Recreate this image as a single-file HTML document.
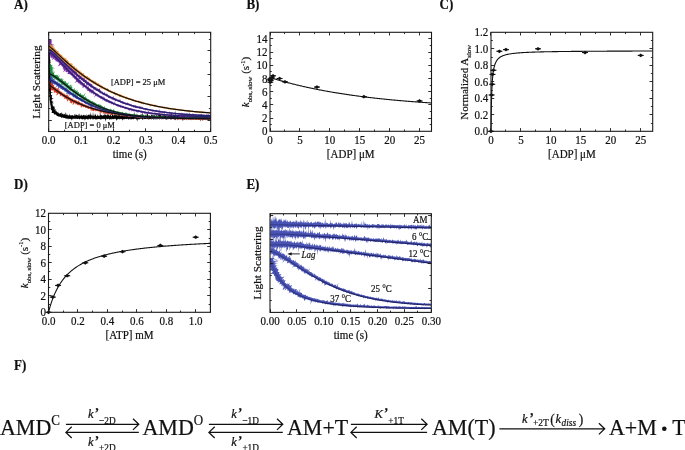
<!DOCTYPE html>
<html><head><meta charset="utf-8"><style>
html,body{margin:0;padding:0;background:#fff;width:685px;height:450px;overflow:hidden}
svg{display:block;will-change:transform}
text{font-family:"Liberation Serif", serif;fill:#111;stroke:#111;stroke-width:0.2px}
</style></head><body>
<svg width="685" height="450" viewBox="0 0 685 450">
<rect width="685" height="450" fill="#fff"/>
<text transform="translate(14 8.8) scale(1 1.08)" font-size="13" text-anchor="start" font-weight="bold">A)</text>
<text transform="translate(246.4 8.8) scale(1 1.08)" font-size="13" text-anchor="start" font-weight="bold">B)</text>
<text transform="translate(439.5 9) scale(1 1.08)" font-size="13" text-anchor="start" font-weight="bold">C)</text>
<text transform="translate(14 189.3) scale(1 1.08)" font-size="13" text-anchor="start" font-weight="bold">D)</text>
<text transform="translate(246.4 189.3) scale(1 1.08)" font-size="13" text-anchor="start" font-weight="bold">E)</text>
<text transform="translate(14 370.4) scale(1 1.08)" font-size="13" text-anchor="start" font-weight="bold">F)</text>
<defs><clipPath id="cA"><rect x="48.7" y="32.3" width="162" height="99.2"/></clipPath><clipPath id="cE"><rect x="270" y="213.7" width="161.3" height="98.7"/></clipPath></defs>
<g clip-path="url(#cA)">
<path d="M49.36 52.37 49.74 55.3 49.76 58.08 50.49 60.7 50.06 63.2 50.7 65.55 50.83 67.79 51.19 69.9 50.3 71.68 50.45 71.94 50.36 73.85 50.26 75.66 51.64 77.33 50.99 78.98 50.05 80.55 53.57 81.89 51.6 83.35 52.78 84.27 52.26 84.64 51.64 85.91 52.3 87.07 50.58 88.27 51.77 89.28 50.73 90.35 50.65 91.32 50.73 92.23 53.32 92.61 51.17 93.08 50.68 93.94 50.81 94.72 52.41 95.36 51.31 96.15 51.91 96.78 51.78 97.43 52.12 98.02 51.87 98.32 53.91 98.44 52.05 99.16 51.78 99.72 51.33 100.27 51.39 100.75 53.56 100.96 52.73 101.49 51.54 102.05 53.8 101.9 53.21 102.24 52.52 102.71 51.77 103.18 52.4 103.43 53.94 103.52 52.66 104.04 53.19 104.25 52.04 104.75 52.59 104.7 52.22 104.99 52.82 105.15 52.21 105.53 52.92 105.63 53.81 105.67 53.05 106.06 53.38 106.2 55.37 105.91 52.59 106.61 53.77 106.5 54.45 106.5 55.73 106.32 53.64 107.08 54.71 107.37 54.73 108.34 54.62 109.21 54.88 109.78 56.45 109.26 55.48 110.65 55.52 111.28 56.72 110.65 56.63 111.4 56.73 111.98 57.11 112.19 57.39 112.53 58.46 111.54 58.2 112.78 58.5 113.09 58.88 113.22 59.14 113.62 59.54 113.69 60.27 112.9 60.63 112.99 60.88 113.42 61.34 113.21 62.15 111.74 61.72 114.63 62.28 114.04 62.78 113.58 63.11 113.81 63.24 115.01 63.87 113.86 64.27 113.77 64.46 114.86 65.07 113.46 65.67 112.01 65.61 115.08 66.08 114.48 66.36 115.33 67.03 112.93 67.22 114.69 67.58 114.96 67.93 115.45 68.35 115.17 68.71 115.55 69.11 115.55 69.65 113.44 69.91 115.26 70.34 114.72 70.67 115.79 71.06 115.86 71.52 114.76 71.87 115.65 72.29 115.01 72.69 114.9 73.05 115.77 73.45 115.9 73.86 115.36 74.24 115.89 74.7 113.84 75.06 114.8 75.44 115.66 75.88 113.73 76.25 115.14 76.66 114.16 77.04 115.26 77.44 115.17 77.83 115.25 78.22 115.97 78.64 114.43 79.06 113.19 79.43 114.54 79.81 116.06 80.22 115.58 80.61 115.97 81.03 114.26 81.42 114.94 81.81 115.55 82.21 116.1 82.61 115.29 83.01 115.47 83.42 114.76 83.82 114.78 84.21 116 84.61 115.11 85.01 114.82 85.41 115.41 85.81 115.82 86.21 113.77 86.6 116.17 87.01 115.77 87.4 115.85 87.81 114.67 88.21 115.3 88.61 114.37 89.01 115.09 89.41 114.27 89.8 115.82 90.21 114.64 90.61 111.79 91 115.96 91.4 115.5 91.8 114.25 92.2 115.38 92.6 116.17 93.01 111.44 93.4 115.37 93.8 115.69 94.2 115.6 94.6 116.04 95 112.95 95.4 114.86 95.8 114.73 96.2 115.64 96.6 115.88 97 116.16 97.4 114.11 97.8 115.64 98.2 115.5 98.6 115.87 99 116.03 99.4 116.17 99.8 114.9 100.2 115.45 100.6 112.28 101 115.58 101.4 114.68 101.8 115.15 102.2 115.14 102.6 116.04 103 115.6 103.4 115.34 103.8 115.28 104.2 112.16 104.6 115.7 105 114.53 105.4 114.83 105.8 114.57 106.2 115.66 106.6 115.24 107 114.13 107.4 114.57 107.8 114.94 108.2 114.34 108.6 115.3 109 115.08 109.4 116.19 109.8 115.28 110.2 114.39 110.6 113.88 111 115.91 111.4 116.15 111.8 115.93 112.2 113.18 112.6 115.25 113 114.53 113.4 116.02 113.8 115.13 114.2 114.39 114.6 113.44 115 116.13 115.4 113.39 115.8 115.11 116.2 115.48 116.6 115.1 117 114.53 117.4 115.98 117.8 115.34 118.2 113.91 118.6 115.83 119 113.97 119.4 114.67 119.8 115.22 120.2 116.1 120.6 116.18 121 114.61 121.4 115.69 121.8 115.38 122.2 116.11 122.6 114.79 123 115.88 123.4 114.93 123.8 116.18 124.2 113.78 124.6 115.44 125 114.03 125.4 112.62 125.8 114.06 126.2 114.73 126.6 115.77 127 114.91 127.4 115.17 127.8 114.96 128.2 116.03 128.6 116.15 129 116.14 129.4 112.33 129.8 115.31 130.2 115.59 130.6 115.96 131 114.76 131.4 115.64 131.8 115.45 132.2 115 132.6 114.8 133 116.05 133.4 116.19 133.8 114.74 134.2 111.77 134.6 114.59 135 115.57 135.4 115.35 135.8 115.78 136.2 113.33 136.6 115.92 137 116.13 137.4 116.11 137.8 115.02 138.2 115.9 138.6 116 139 114.89 139.4 115.32 139.8 116.19 140.2 114.52 140.6 114.58 141 115.77 141.4 114.2 141.8 114.47 142.2 115.14 142.6 112.51 143 113.98 143.4 116.08 143.8 114.58 144.2 115.92 144.6 115.98 145 116.14 145.4 114.54 145.8 115.02 146.2 116.14 146.6 115.56 147 111.74 147.4 114.44 147.8 113.14 148.2 116.13 148.6 115.82 149 114.98 149.4 116.13 149.8 115.24 150.2 115.77 150.6 115.95 151 115.96 151.4 114.33 151.8 114.45 152.2 115.94 152.6 114.47 153 115.23 153.4 115.35 153.8 115.57 154.2 114.52 154.6 115.86 155 115.54 155.4 115.99 155.8 116.2 156.2 115.11 156.6 115.69 157 113.98 157.4 115.92 157.8 115.98 158.2 115.05 158.6 115.85 159 113.21 159.4 114.98 159.8 114.79 160.2 115.2 160.6 115.01 161 114.52 161.4 115.91 161.8 115.59 162.2 114.05 162.6 115.98 163 115.55 163.4 114.71 163.8 116.15 164.2 113.39 164.6 115.14 165 115.16 165.4 115.26 165.8 115.65 166.2 115.88 166.6 115.97 167 115.96 167.4 115.87 167.8 115.87 168.2 116.16 168.6 115.97 169 115.62 169.4 115.65 169.8 114.14 170.2 115.55 170.6 116.14 171 114.35 171.4 113.71 171.8 114.06 172.2 114.65 172.6 115.26 173 115.42 173.4 116.04 173.8 114.32 174.2 115.79 174.6 115.45 175 115.5 175.4 109.7 175.8 115.96 176.2 115.34 176.6 114.91 177 116.14 177.4 115.15 177.8 114.93 178.2 116.07 178.6 114.93 179 114.98 179.4 115.03 179.8 115.01 180.2 115.68 180.6 115.63 181 116.05 181.4 115.77 181.8 115.83 182.2 114.77 182.6 114.61 183 115.33 183.4 115.99 183.8 115.96 184.2 113.52 184.6 114.29 185 115.34 185.4 116.01 185.8 114.1 186.2 115.79 186.6 115.07 187 115.97 187.4 113.06 187.8 115.18 188.2 114.78 188.6 115.69 189 111.78 189.4 114.72 189.8 115.54 190.2 114.07 190.6 115.78 191 115.87 191.4 114.96 191.8 113.41 192.2 116.01 192.6 114.45 193 112.78 193.4 116.02 193.8 114.36 194.2 115.78 194.6 115.12 195 114.82 195.4 114.22 195.8 115.83 196.2 115.05 196.6 115.65 197 115.7 197.4 116.15 197.8 115.61 198.2 115.29 198.6 115.86 199 115.07 199.4 114.78 199.8 116.15 200.2 115.23 200.6 114.52 201 116.2 201.4 113.36 201.8 115.13 202.2 115.26 202.6 115.63 203 114.55 203.4 115.34 203.8 115.77 204.2 115.95 204.6 115.37 205 115.55 205.4 116.03 205.8 115.54 206.2 113.99 206.6 115.01 207 116.09 207.4 116.14 207.8 115.15 208.2 115.2 208.6 116.16 209 114.31 209.4 115.48 209.8 115.01 210.2 114.21 210.6 116.13 210.6 118.71 210.2 119.02 209.8 118.87 209.4 119.22 209 118.64 208.6 119.88 208.2 119.28 207.8 119.14 207.4 119.88 207 118.91 206.6 118.89 206.2 118.62 205.8 119.04 205.4 118.77 205 119 204.6 118.71 204.2 119.45 203.8 118.63 203.4 119.23 203 120.88 202.6 119.53 202.2 118.66 201.8 118.67 201.4 120.34 201 118.73 200.6 119.81 200.2 121.49 199.8 119.28 199.4 119.24 199 118.71 198.6 119.24 198.2 119 197.8 118.74 197.4 119.18 197 119.13 196.6 118.61 196.2 119.28 195.8 118.68 195.4 119.24 195 118.77 194.6 118.91 194.2 118.86 193.8 119.05 193.4 118.88 193 118.67 192.6 119.31 192.2 119.67 191.8 118.69 191.4 118.75 191 119.06 190.6 119.86 190.2 119.12 189.8 119.26 189.4 119.09 189 118.79 188.6 119.39 188.2 118.67 187.8 118.88 187.4 118.77 187 120.56 186.6 118.89 186.2 119.33 185.8 118.8 185.4 119.4 185 118.9 184.6 119.43 184.2 120.09 183.8 118.69 183.4 118.96 183 121.35 182.6 120.27 182.2 119.3 181.8 118.73 181.4 119.47 181 119.08 180.6 119.36 180.2 118.95 179.8 118.98 179.4 119.13 179 118.65 178.6 118.93 178.2 119.71 177.8 118.88 177.4 119.66 177 118.71 176.6 119.31 176.2 118.85 175.8 119.47 175.4 120.61 175 118.89 174.6 119.95 174.2 119.19 173.8 118.62 173.4 118.89 173 119.29 172.6 119.07 172.2 119.1 171.8 118.88 171.4 119.2 171 120.14 170.6 119.19 170.2 118.62 169.8 119.03 169.4 118.93 169 118.98 168.6 118.66 168.2 119.03 167.8 118.65 167.4 118.77 167 119.63 166.6 119.96 166.2 118.66 165.8 119.58 165.4 119.57 165 118.72 164.6 118.76 164.2 118.7 163.8 119.47 163.4 118.85 163 118.84 162.6 118.85 162.2 119.34 161.8 118.62 161.4 118.98 161 119.35 160.6 118.81 160.2 118.67 159.8 119.02 159.4 119.79 159 118.99 158.6 118.86 158.2 119.33 157.8 119.15 157.4 119.05 157 119.52 156.6 118.72 156.2 119.55 155.8 119.82 155.4 118.82 155 118.99 154.6 119.55 154.2 118.82 153.8 119.85 153.4 119.55 153 118.92 152.6 119 152.2 118.78 151.8 119.05 151.4 119.54 151 119.44 150.6 118.96 150.2 119 149.8 118.92 149.4 119 149 119.77 148.6 119.49 148.2 118.91 147.8 118.65 147.4 119.01 147 119.53 146.6 118.67 146.2 118.76 145.8 119.15 145.4 118.72 145 119.27 144.6 119.02 144.2 118.92 143.8 118.74 143.4 118.64 143 119.97 142.6 119.21 142.2 119.67 141.8 118.65 141.4 118.86 141 118.66 140.6 118.77 140.2 118.64 139.8 118.63 139.4 119.81 139 119.01 138.6 119.02 138.2 119.39 137.8 121.41 137.4 119.71 137 118.62 136.6 120.4 136.2 118.97 135.8 118.92 135.4 118.64 135 118.79 134.6 118.67 134.2 118.78 133.8 119.51 133.4 118.81 133 119.8 132.6 118.65 132.2 118.9 131.8 119.32 131.4 119.14 131 119.68 130.6 118.61 130.2 119.79 129.8 119.27 129.4 118.75 129 119.33 128.6 119.99 128.2 118.8 127.8 118.96 127.4 118.8 127 119.04 126.6 118.82 126.2 119.61 125.8 118.8 125.4 119.01 125 118.86 124.6 119.45 124.2 118.98 123.8 119.82 123.4 119.01 123 118.94 122.6 119.63 122.2 120.66 121.8 119.12 121.4 119 121 118.9 120.6 119.33 120.2 118.82 119.8 118.74 119.4 119.83 119 119.03 118.6 118.67 118.2 119.17 117.8 120.12 117.4 118.83 117 119.22 116.6 119.89 116.2 120.97 115.8 118.73 115.4 118.81 115 119.04 114.6 118.62 114.2 119.28 113.8 119.21 113.4 118.82 113 119.55 112.6 118.9 112.2 118.8 111.8 120.1 111.4 118.73 111 118.68 110.6 119.46 110.2 119 109.8 119.86 109.4 119.59 109 119.1 108.6 118.87 108.2 118.67 107.8 119.19 107.4 118.67 107 119.52 106.6 118.73 106.2 118.64 105.8 121.81 105.4 119.94 105 119.33 104.6 118.86 104.2 118.98 103.8 119.15 103.4 118.81 103 118.64 102.6 119.15 102.2 118.87 101.8 119.85 101.4 119.02 101 118.72 100.6 120.09 100.2 119.14 99.8 119.26 99.4 118.74 99 119.21 98.6 118.88 98.2 118.89 97.8 118.89 97.4 119.22 97 119.53 96.6 118.99 96.2 119.69 95.8 119.14 95.4 119.5 95 119.22 94.6 119.07 94.2 118.71 93.8 118.71 93.4 119.24 93 120.03 92.6 118.61 92.2 119.4 91.8 118.81 91.4 118.62 91 118.69 90.6 119.76 90.2 119.13 89.8 118.61 89.4 118.91 89 119.06 88.6 118.77 88.19 119.93 87.79 119.26 87.39 119.6 86.99 118.99 86.59 118.9 86.2 118.65 85.79 120.23 85.39 119.03 84.99 118.65 84.58 120.88 84.19 118.8 83.79 119.1 83.39 118.76 82.98 120.11 82.59 119.37 82.19 118.92 81.79 118.77 81.38 119.57 80.99 118.73 80.59 118.57 80.18 118.89 79.77 119.52 79.38 119.13 78.98 118.74 78.58 118.7 78.18 118.75 77.77 119.36 77.37 118.85 76.97 118.93 76.58 118.52 76.16 118.94 75.75 119.27 75.37 118.52 74.96 118.68 74.56 118.69 74.15 118.84 73.74 119.17 73.35 118.54 72.95 118.44 72.51 119.32 72.1 119.4 71.63 120.87 71.3 119.06 70.9 119.06 70.51 118.65 70.08 119.02 69.67 119.12 69.3 118.42 68.8 119.68 68.5 118.22 68 119.22 67.61 119 67.27 118.17 66.81 118.59 66.39 118.64 65.98 118.58 65.53 118.75 65.22 117.91 64.79 117.99 64.35 118.05 63.97 117.76 63.52 117.92 63.13 117.68 62.72 117.54 62.31 117.42 61.86 117.45 61.26 118.05 61 117.29 60.59 117.11 60.22 116.81 59.79 116.67 59.35 116.58 58.71 116.96 58.48 116.26 57.98 116.24 57.62 115.88 56.99 116.05 56.72 115.5 56.26 115.27 55.91 114.87 55.47 114.58 55.05 114.23 53.86 114.82 54.08 113.6 53.49 113.31 52.7 113.11 51.62 112.98 51.83 111.76 52.15 110.53 50.74 110.04 51.16 108.54 51.17 107.79 50.72 107.72 50.81 107.48 51.08 107.2 50.1 107.23 51.08 106.97 50.75 106.83 50.45 106.65 50.99 106.29 50.55 106.13 50.59 105.86 50.87 105.53 50.41 105.33 50.75 105.03 49.72 105.16 50.02 104.79 50.72 104.36 50.67 104.04 50 103.79 50.57 103.35 50.54 102.98 50.53 102.59 50.29 102.35 49.38 102.32 49.43 101.88 50.19 101.34 49.9 100.91 49.53 100.45 49.73 99.92 49.38 99.41 50.07 98.78 49.29 98.54 49.58 98.23 49.52 97.62 49.8 96.94 48.38 96.36 49.18 95.59 49.75 94.79 49.08 94.04 49.29 93.19 49.35 92.84 49.36 92.31 48.96 91.41 49.1 90.43 47.58 89.49 48.98 88.34 48.41 87.24 49.47 86 49.36 84.75 49.42 84.41 49.26 83.44 49.16 82.05 47.1 80.65 48.15 79.07 48.47 77.43 48.57 75.71 48.84 73.89 48.59 71.98 48.69 71.72 48.56 69.97 48.46 67.84 48.67 65.6 48.17 63.24 48.35 60.74 48.09 58.11 47.78 55.33 47.98 52.39Z" fill="#000" fill-opacity="1"/>
<path d="M50.6 65.16 51.22 66.35 50.57 67.52 51.93 68.53 51.12 69.58 51.52 70.51 51.72 71.39 51.85 72.22 51.41 72.94 52.27 72.99 50.97 73.82 51.12 74.52 51.15 75.18 51.46 75.78 51.12 76.4 51.8 76.89 52.1 77.39 51.72 77.79 51.96 77.89 51.83 78.37 52.35 78.75 52.14 79.18 52.17 79.57 52.22 79.93 51.85 80.33 52.79 80.51 52.46 80.75 51.77 80.99 51.86 81.27 52.8 81.37 52.25 81.74 52.58 81.92 52.17 82.24 52.39 82.41 52.53 82.59 52.63 82.65 54.16 82.38 52.57 82.96 52.12 83.26 53.23 83.12 52.61 83.46 52.71 83.58 52.8 83.7 53.32 83.65 53.07 83.78 54.03 83.52 53.32 83.89 53.08 84.11 52.56 84.43 52.9 84.4 52.65 84.63 53.03 84.56 52.73 84.8 53.24 84.57 52.71 84.92 53.11 84.81 54.37 84.21 53.28 84.89 53.33 84.95 53.46 84.95 53.17 85.21 53.9 84.83 53.38 85.17 53.41 85.22 53.53 85.22 53.31 85.45 53.55 85.36 53.99 85.33 54.18 85.75 53.97 86.61 54.39 86.88 55.15 86.74 55.3 87.32 55.85 87.42 55.91 88.13 56.2 88.57 57.54 87.63 57.46 88.54 57.64 89.12 59.56 87.35 58.22 89.99 59.59 88.93 59.07 90.47 59.53 90.67 59.94 90.93 60.44 91.06 60.61 91.65 60.97 91.99 61.92 91.44 61.85 92.39 62.17 92.77 62.72 92.8 63.38 92.65 63.32 93.61 63.64 93.99 64.47 93.56 64.72 94.03 64.84 94.73 65.36 94.77 65.9 94.78 66.17 95.23 67.53 93.86 67.1 95.46 68.15 94.59 67.74 96.18 68.72 95.4 68.6 96.53 68.79 97.11 69.2 97.31 69.81 97.14 70.35 97.1 70.4 97.94 70.91 97.94 71.24 98.28 71.66 98.45 71.92 98.91 72.38 98.99 73.33 98.12 73.08 99.58 73.51 99.71 73.94 99.85 74.57 99.56 74.79 100.11 75.19 100.31 75.77 100.11 75.95 100.75 76.52 100.56 77.13 100.28 77.14 101.3 77.53 101.49 78.1 101.28 78.66 101.09 79.05 101.28 79.23 101.92 79.65 102.05 80.11 102.06 80.33 102.63 80.62 103.05 81.1 103.01 81.64 102.83 82.03 102.99 82.45 103.1 82.69 103.64 83.1 103.76 83.38 104.21 83.75 104.44 84.43 103.85 84.68 104.38 84.96 104.84 85.52 104.55 85.71 105.25 86.2 105.13 86.58 105.32 87.01 105.36 87.38 105.59 87.8 105.65 88.17 105.88 88.6 105.92 88.88 106.4 89.37 106.24 89.73 106.49 90.12 106.64 90.59 106.54 90.92 106.88 91.41 106.69 92.06 106.01 92.18 107.02 92.47 107.5 93.08 106.91 93.27 107.7 93.63 107.95 94.17 107.58 94.52 107.88 94.9 108.03 95.28 108.2 95.74 108.09 96.04 108.56 96.43 108.69 97.12 107.73 97.24 108.86 97.62 109.01 98.18 108.53 98.56 108.68 98.86 109.14 99.29 109.13 99.63 109.44 100.04 109.49 100.44 109.6 100.78 109.91 101.18 110.02 101.7 109.6 101.98 110.2 102.48 109.86 102.98 109.5 103.19 110.39 103.56 110.59 104.14 109.89 104.39 110.62 104.8 110.69 105.16 110.92 105.56 110.99 106.01 110.84 106.42 110.89 106.96 110.25 107.21 111.07 107.57 111.32 108 111.27 108.37 111.49 108.81 111.34 109.2 111.45 109.63 111.33 109.94 111.87 110.41 111.61 110.75 112 111.14 112.07 111.62 111.72 112.04 111.66 112.4 111.94 112.73 112.39 113.12 112.52 113.53 112.54 113.93 112.6 114.34 112.58 114.81 112.22 115.12 112.8 115.54 112.72 115.96 112.67 116.33 112.92 116.71 113.11 117.11 113.13 117.56 112.87 117.92 113.2 118.38 112.84 118.74 113.16 119.16 113.05 119.5 113.49 119.92 113.47 120.31 113.56 120.73 113.44 121.13 113.53 121.52 113.65 121.93 113.61 122.31 113.81 122.69 113.99 123.11 113.89 123.55 113.62 123.88 114.17 124.31 113.99 124.68 114.26 125.11 114.1 125.52 114.02 125.92 114.03 126.3 114.28 126.72 114.17 127.08 114.5 127.47 114.6 127.89 114.55 128.28 114.6 128.71 114.41 129.14 114.17 129.49 114.63 129.93 114.32 130.27 114.94 130.71 114.54 131.08 114.85 131.51 114.62 131.89 114.82 132.26 115.13 132.67 115.15 133.07 115.1 133.46 115.23 133.87 115.15 134.27 115.25 134.66 115.38 135.07 115.27 135.47 115.31 135.86 115.47 136.29 115.16 136.68 115.3 137.13 114.67 137.45 115.62 137.88 115.36 138.27 115.46 138.66 115.58 139.06 115.67 139.46 115.69 139.85 115.79 140.25 115.85 140.66 115.78 141.05 115.94 141.48 115.51 141.88 115.5 142.25 116.03 142.67 115.75 143.06 115.86 143.47 115.82 143.88 115.67 144.25 116.11 144.67 115.75 145.05 116.13 145.44 116.26 145.85 116.2 146.25 116.19 146.66 116.1 147.04 116.29 147.45 116.27 147.84 116.4 148.26 116.17 148.65 116.31 149.05 116.3 149.44 116.41 149.84 116.5 150.24 116.46 150.64 116.54 151.05 116.43 151.45 116.4 151.84 116.6 152.24 116.5 152.65 116.34 153.06 116.31 153.48 115.95 153.88 115.87 154.24 116.61 154.64 116.74 155.03 116.76 155.48 115.85 155.83 116.88 156.23 116.9 156.65 116.54 157.04 116.68 157.45 116.58 157.83 116.96 158.24 116.7 158.65 116.51 159.05 116.62 159.43 117.02 159.83 116.97 160.23 117.11 160.64 116.9 161.03 116.96 161.43 117.04 161.83 117.07 162.23 117.01 162.63 117 163.02 117.25 163.43 116.98 163.83 117 164.23 117.02 164.63 117.17 165.02 117.31 165.42 117.26 165.82 117.36 166.22 117.33 166.62 117.33 167.03 117.27 167.45 116.52 167.82 117.4 168.22 117.33 168.63 117.2 169.02 117.34 169.42 117.35 169.82 117.36 170.22 117.48 170.62 117.53 171.02 117.49 171.42 117.34 171.83 117.32 172.22 117.52 172.63 117.05 173.02 117.47 173.42 117.41 173.82 117.47 174.22 117.61 174.62 117.39 175.02 117.49 175.42 117.67 175.82 117.64 176.22 117.7 176.64 116.92 177.02 117.54 177.42 117.69 177.81 117.76 178.22 117.72 178.62 117.67 179.02 117.61 179.42 117.58 179.82 117.73 180.21 117.76 180.62 117.55 181.02 117.63 181.42 117.7 181.81 117.78 182.22 117.56 182.61 117.87 183.02 117.72 183.42 117.64 183.82 117.72 184.21 117.8 184.61 117.89 185.01 117.91 185.42 117.75 185.81 117.86 186.22 117.62 186.61 117.88 187.02 117.6 187.41 117.93 187.81 117.96 188.21 117.81 188.61 117.88 189.01 117.94 189.41 118.03 189.82 117.71 190.21 117.93 190.61 117.95 191.01 118.02 191.41 117.79 191.81 118.06 192.21 117.92 192.61 117.91 193.02 117.56 193.42 117.4 193.81 117.97 194.21 117.96 194.61 118.08 195.01 118.09 195.41 118.01 195.81 117.97 196.21 118.02 196.61 118.06 197.02 117.66 197.41 118.13 197.81 118.13 198.21 118.05 198.61 117.91 199.01 117.97 199.41 118.19 199.81 118.15 200.21 117.86 200.61 117.74 201.01 118.05 201.41 118.03 201.81 118.12 202.21 118.16 202.61 118.15 203.01 117.94 203.41 117.95 203.81 117.94 204.21 118.09 204.61 118.03 205.01 118.11 205.41 118.19 205.81 118.22 206.21 117.96 206.61 118.2 207.01 118.1 207.41 118.14 207.81 118.25 208.21 117.86 208.61 118.3 209.01 118.22 209.41 117.94 209.81 118.33 210.21 118.21 210.61 118.31 210.59 120.27 210.19 119.93 209.79 119.65 209.39 120.04 208.99 120.24 208.59 119.64 208.19 119.93 207.79 119.61 207.39 119.57 206.99 119.94 206.58 120.55 206.19 119.34 205.79 119.57 205.38 120.53 204.99 119.5 204.59 119.71 204.19 119.45 203.79 119.65 203.39 119.41 202.99 119.62 202.57 121.12 202.18 120.29 201.79 119.72 201.39 119.51 200.97 120.68 200.59 119.44 200.16 121.33 199.79 119.39 199.38 120 198.98 119.93 198.58 120.05 198.19 119.7 197.79 119.65 197.39 119.24 196.98 120.21 196.59 119.63 196.18 119.9 195.78 119.63 195.39 119.49 194.98 119.87 194.59 119.5 194.19 119.43 193.78 119.84 193.38 120.02 192.99 119.2 192.59 119.28 192.18 119.54 191.77 120.45 191.39 119.43 190.98 119.51 190.58 119.56 190.18 119.66 189.78 119.64 189.38 119.43 188.99 119.33 188.56 120.59 188.19 119.3 187.79 119.07 187.38 119.43 186.98 119.66 186.59 119.2 186.17 119.73 185.79 119.12 185.38 119.54 184.97 119.97 184.57 119.65 184.18 119.54 183.78 119.43 183.37 119.93 182.97 119.95 182.59 119.02 182.18 119.26 181.78 119.36 181.38 119.14 180.97 119.74 180.58 119.08 180.16 120.16 179.78 119.34 179.38 119.31 178.98 119.18 178.57 119.42 178.18 118.91 177.79 118.86 177.33 120.74 176.97 119.55 176.58 119.17 176.18 119.08 175.76 119.53 175.38 118.92 174.98 118.92 174.58 119.02 174.16 119.47 173.78 118.8 173.36 119.56 172.98 118.91 172.58 118.89 172.18 118.93 171.77 119.06 171.38 118.69 170.93 120.26 170.58 118.82 170.18 118.67 169.77 118.92 169.38 118.68 168.96 119.25 168.58 118.58 168.16 119.14 167.77 118.72 167.34 119.76 166.98 118.62 166.54 119.59 166.16 119.01 165.76 118.96 165.37 118.59 164.96 118.84 164.58 118.5 164.17 118.67 163.77 118.63 163.36 118.73 162.97 118.42 162.57 118.45 162.18 118.33 161.76 118.69 161.29 120.27 160.97 118.45 160.54 119.03 160.16 118.55 159.74 118.97 159.33 119.22 158.97 118.26 158.54 118.96 158.17 118.26 157.74 118.78 157.33 119.05 156.94 118.78 156.55 118.63 156.17 118.15 155.73 118.93 155.34 118.55 154.97 118.07 154.57 118.01 154.15 118.35 153.75 118.32 153.36 118.16 152.96 118.04 152.55 118.18 152.16 118 151.7 119 151.33 118.39 150.96 117.92 150.55 118.13 150.16 117.82 149.74 118.2 149.36 117.75 148.96 117.72 148.44 119.61 148.13 118.12 147.74 118 147.34 117.92 146.92 118.16 146.5 118.44 146.12 118.05 145.7 118.37 145.32 118.06 144.91 118.13 144.55 117.59 144.12 117.95 143.64 119.02 143.36 117.33 142.91 117.96 142.55 117.34 142.14 117.5 141.75 117.23 141.27 118.3 140.94 117.32 140.48 117.99 140.12 117.52 139.67 118.11 139.33 117.23 138.92 117.41 138.52 117.3 138.14 117.09 137.62 118.4 137.27 117.78 136.94 116.89 136.43 118.13 136.13 116.96 135.73 116.93 135.25 117.71 134.89 117.18 134.53 116.79 134.14 116.6 133.74 116.54 133.28 117.1 132.92 116.65 132.5 116.79 132.11 116.62 131.72 116.56 131.3 116.7 130.91 116.48 130.38 117.71 130.13 116.22 129.65 116.93 129.21 117.23 128.87 116.63 128.36 117.53 128.09 116.34 127.67 116.43 127.3 116.15 126.9 116.08 126.49 116.13 126.05 116.41 125.63 116.53 125.26 116.17 124.8 116.58 124.44 116.22 123.97 116.7 123.6 116.42 123.31 115.47 122.87 115.7 122.44 115.89 122.08 115.53 121.71 115.23 121.19 116.04 120.75 116.29 120.46 115.38 120.01 115.72 119.67 115.21 119.25 115.24 118.89 114.9 118.47 115.02 117.97 115.6 117.69 114.75 117.27 114.79 116.81 115.09 116.46 114.7 116.05 114.73 115.66 114.56 115.24 114.62 114.88 114.29 114.48 114.24 114.09 114.1 113.52 114.99 113.24 114.22 112.67 115.16 112.37 114.5 111.81 115.29 111.49 114.72 110.87 115.87 110.82 113.88 110.42 113.75 110.07 113.44 109.51 114.16 109.03 114.52 108.66 114.25 108.15 114.74 108.01 113.28 106.95 116.52 107.11 113.6 106.62 113.98 106.31 113.41 105.8 113.87 105.37 113.91 105.14 112.96 104.66 113.25 104.33 112.85 103.98 112.5 103.23 113.96 102.9 113.56 102.76 112.29 102.42 111.95 101.86 112.49 101.42 112.56 100.95 112.75 100.68 112.1 99.31 115.99 99.98 111.47 99.54 111.5 98.83 112.65 98.74 111.3 98.33 111.23 98 110.82 97.52 111.01 96.99 111.38 96.76 110.66 96.25 110.95 95.91 110.57 95.17 111.69 95.06 110.53 94.76 110.06 94.07 110.94 93.57 111.13 93.16 111.05 92.92 110.37 92.26 111.09 91.67 111.57 91.57 110.45 91.47 109.32 90.6 110.68 90.49 109.61 90.3 108.81 89.89 108.72 89.47 108.62 88.96 108.83 88.46 108.98 87.97 109.09 87.92 107.91 87.18 108.75 87.08 107.74 86.54 107.97 86.08 108 85.68 107.83 85.17 107.99 85.05 107.04 84.62 106.98 84.26 106.7 83.73 106.89 83.02 107.52 82.99 106.4 82.48 106.52 82.12 106.25 81.04 107.78 80.86 107.04 80.73 106.2 80.61 105.33 80.08 105.47 79.75 105.13 79.38 104.88 78.56 105.66 78.49 104.71 78.04 104.64 77.36 105.07 76.9 105.02 76.8 104.16 76.55 103.64 76 103.76 75.21 104.39 75.34 103.06 74.65 103.47 74.55 102.65 72.86 105.1 72.53 104.73 73.15 102.43 72.89 101.93 71.51 103.65 71.29 103.07 70.88 102.87 70.72 102.17 69.67 103.17 70.16 101.25 70.06 100.47 69.06 101.34 69.23 100.08 68.86 99.78 67.43 101.38 66.97 101.25 67.33 99.66 67.1 99.11 66.16 99.81 65.97 99.19 65.91 98.37 64.91 99.11 64.65 98.63 64.11 98.59 64.37 97.26 63.87 97.15 63.58 96.71 62.45 97.61 62.65 96.4 62.29 96.07 61.96 95.69 61.45 95.58 60.78 95.72 59.66 96.51 60.05 95.04 59.77 94.59 59.44 94.2 59.07 93.87 58.68 93.57 56.75 95.44 56.36 95.11 57 93.36 56.68 92.95 56.02 92.99 56.03 92.12 54.98 92.69 54.52 92.45 53.52 92.92 54.23 91.13 53.4 91.34 53.68 90.14 52.98 90.16 51.75 90.74 51.65 89.93 49.73 90.99 51.11 88.58 50.48 88.1 50.45 87.6 48.8 88.61 49.8 87.76 50.53 87.13 49.16 87.88 50.25 87.18 48.64 88.03 48.76 87.79 48.94 87.51 49.49 87.03 48.66 87.32 48.13 87.42 49.21 86.68 48.36 86.97 50.03 86.12 48.03 86.9 49.04 86.25 48.89 86.14 47.73 86.44 47.36 86.38 46.24 86.59 48.73 85.45 48.71 85.33 46.83 85.92 49.05 84.94 47.21 85.33 47.43 85.03 48.23 84.56 48.67 84.21 46.91 84.45 48.57 83.77 49.1 83.51 49.12 83.4 48.71 83.24 46.63 83.42 47.44 82.96 47.66 82.62 47.57 82.33 48.1 81.92 47.99 81.6 43.78 82.14 48.21 81.22 46.63 81.1 47.87 80.53 46.81 80.27 46.54 79.88 45.93 79.5 41.37 79.53 42.83 78.85 47.57 78.22 48.09 77.78 47.15 77.33 48.04 76.67 45.06 76.31 47.82 75.44 46.5 74.86 46.87 74.11 45.86 73.41 45.96 73.3 43.73 72.72 46.12 71.71 47.8 70.71 45.85 69.85 45.53 68.84 46.42 67.71 45.34 66.6 45.86 65.36Z" fill="#d23a22" fill-opacity="1"/>
<path d="M51.17 71.21 51.43 71.7 50.84 72.24 52.46 72.5 52.1 72.96 50.73 73.53 51.57 73.79 51.41 74.16 52.17 74.33 51.34 74.5 51.1 74.85 51.4 75.09 50.99 75.44 51.31 75.64 51.53 75.84 51.54 76.07 51.92 76.2 51.24 76.51 51.94 76.39 52.85 76.34 52 76.73 52.63 76.71 52.95 76.76 51.64 77.31 51.55 77.49 54.8 76.46 51.85 77.59 52.22 77.5 52.87 77.36 52.11 77.77 52.08 77.88 52.08 77.98 52.69 77.78 52.23 78.09 53.04 77.74 53.05 77.76 54.68 76.88 52.82 77.98 52.99 77.94 52.86 78.07 52.75 78.2 53.7 77.6 52.81 78.26 52.33 78.68 52.98 78.21 53.78 77.61 52.88 78.37 52.25 78.95 52.25 79.02 53.46 77.99 52.53 78.9 54.75 76.82 53 78.56 52.67 78.9 53.19 78.42 53.43 78.22 53.3 78.4 52.98 78.82 52.74 79.14 52.59 79.39 53.09 78.88 53.14 78.89 52.84 79.25 52.92 79.22 52.77 79.5 53.24 78.97 53.21 79.09 53.26 79.34 54.51 78.18 54.72 78.59 54.53 79.74 54.61 80.5 55.04 80.69 55.52 80.81 56.13 80.72 56.24 81.47 56.59 81.81 57.17 81.79 57.95 81.48 57.83 82.55 58.35 82.64 58.71 82.97 58.9 83.57 60.22 82.48 59.78 84 60.14 84.33 61.03 83.89 61.65 83.86 61.46 84.99 62.03 85.02 62.29 85.51 62.66 85.84 63.14 86 63.41 86.46 64.31 86.04 64.1 87.19 64.6 87.33 65.13 87.42 65.44 87.83 66.26 87.5 66.4 88.16 66.91 88.27 67.14 88.79 67.65 88.91 67.81 89.53 68.33 89.64 68.76 89.86 68.97 90.41 69.47 90.54 69.66 91.11 70.91 90.14 70.4 91.74 70.88 91.89 71.32 92.09 71.59 92.55 72.07 92.7 72.78 92.5 73.47 92.32 73.27 93.49 74.12 93.06 74.04 94.04 74.4 94.36 75.62 93.35 76 93.61 75.66 95.03 76.11 95.19 76.7 95.13 76.97 95.58 77.13 96.22 78.16 95.44 77.93 96.7 78.3 96.98 78.89 96.91 79.19 97.31 79.52 97.67 80.1 97.6 80.41 97.97 81.18 97.57 81.1 98.61 82.06 97.86 82.12 98.67 82.35 99.19 82.91 99.12 83.42 99.13 84.58 97.98 84.04 99.88 84.26 100.44 84.87 100.25 85.28 100.44 85.42 101.13 86.05 100.89 86.31 101.35 86.61 101.76 87.08 101.8 87.5 101.97 87.88 102.2 88.2 102.56 88.73 102.48 89.3 102.31 89.52 102.88 89.87 103.15 90.16 103.56 90.8 103.23 91.52 102.73 91.37 104.08 92.19 103.34 92.68 103.29 92.63 104.46 93.37 103.87 93.68 104.22 93.75 105.15 94.13 105.35 94.53 105.51 95.05 105.38 95.69 104.97 95.73 105.99 96.25 105.86 96.78 105.67 96.99 106.29 97.35 106.55 97.88 106.36 98.1 106.96 98.58 106.91 98.91 107.23 99.43 107.05 99.81 107.22 100.08 107.71 100.61 107.5 100.96 107.75 101.39 107.81 101.7 108.2 102.05 108.47 102.53 108.36 102.85 108.71 103.44 108.28 103.71 108.77 104.19 108.65 104.53 108.94 105.34 107.76 105.26 109.39 105.71 109.35 106.2 109.16 106.44 109.79 107 109.34 107.4 109.46 107.69 109.95 108.2 109.66 108.48 110.16 108.88 110.26 109.31 110.27 109.62 110.7 110.02 110.77 110.39 110.98 110.91 110.63 111.23 111.04 111.64 111.09 112.01 111.27 112.43 111.28 112.83 111.38 113.2 111.58 113.59 111.7 114.01 111.71 114.38 111.9 114.84 111.75 115.3 111.52 115.64 111.87 116.02 112.02 116.43 112.06 116.84 112.08 117.17 112.51 117.59 112.48 117.96 112.7 118.34 112.85 118.76 112.82 119.16 112.88 119.54 113.04 120.02 112.68 120.35 113.1 120.72 113.36 121.12 113.4 121.54 113.39 121.96 113.33 122.35 113.45 122.72 113.69 123.2 113.23 123.63 113.09 124.01 113.26 124.39 113.46 124.8 113.43 125.12 113.96 125.57 113.68 125.92 114.09 126.38 113.75 126.81 113.59 127.14 114.11 127.6 113.68 127.92 114.33 128.42 113.63 128.71 114.48 129.1 114.56 129.54 114.33 130.02 113.76 130.38 114.1 130.7 114.74 131.08 114.97 131.5 114.81 131.88 115.02 132.28 115.04 132.69 115.04 133.11 114.82 133.55 114.5 133.89 115.07 134.28 115.25 134.74 114.72 135.1 115.1 135.52 114.89 135.88 115.37 136.26 115.54 136.7 115.19 137.06 115.64 137.52 115.01 137.87 115.64 138.3 115.25 138.66 115.69 139.09 115.48 139.46 115.76 139.89 115.49 140.26 115.81 140.66 115.87 141.08 115.64 141.5 115.43 141.87 115.86 142.29 115.55 142.67 115.8 143.05 116.08 143.47 115.84 143.85 116.21 144.25 116.15 144.68 115.8 145.07 115.97 145.5 115.44 145.89 115.64 146.26 116.13 146.66 116.14 147.04 116.4 147.44 116.37 147.85 116.36 148.25 116.24 148.69 115.72 149.07 116.07 149.44 116.54 149.84 116.56 150.27 116.04 150.63 116.67 151.04 116.54 151.45 116.38 151.85 116.4 152.24 116.62 152.63 116.7 153.03 116.76 153.43 116.75 153.84 116.51 154.27 116.03 154.63 116.87 155.03 116.81 155.43 116.86 155.85 116.4 156.23 116.76 156.63 116.76 157.03 116.96 157.43 116.89 157.84 116.58 158.23 116.94 158.64 116.56 159.03 116.84 159.42 117.03 159.82 117.12 160.22 117.12 160.63 116.92 161.04 116.56 161.43 116.99 161.83 116.86 162.22 117.05 162.62 117.05 163.03 116.78 163.42 117.09 163.82 117.04 164.23 116.81 164.62 117.27 165.02 117.22 165.42 117.26 165.82 117.28 166.23 116.94 166.62 117.21 167.02 117.04 167.44 116.52 167.82 117.28 168.22 117.09 168.64 116.41 169.01 117.4 169.42 116.96 169.82 117.26 170.22 117.29 170.62 116.97 171.02 117.3 171.42 117.17 171.82 117.14 172.22 117.28 172.62 117.22 173.02 116.81 173.42 117.21 173.81 117.51 174.22 117.15 174.62 117.17 175.01 117.42 175.41 117.31 175.81 117.53 176.21 117.56 176.61 117.52 177.02 117.09 177.41 117.31 177.81 117.34 178.21 117.51 178.61 117.61 179.01 117.53 179.41 117.19 179.82 117.04 180.21 117.62 180.61 117.52 181.01 117.26 181.41 117.51 181.81 117.63 182.21 117.4 182.61 117.64 183.01 117.47 183.41 117.46 183.81 117.06 184.21 117.51 184.61 117.64 185.01 117.7 185.41 117.57 185.81 117.27 186.21 117.16 186.61 117.39 187.01 117.49 187.41 117.71 187.81 117.43 188.21 117.31 188.61 117.51 189.01 117.45 189.41 117.69 189.81 117.71 190.21 117.55 190.61 117.43 191.01 117.54 191.4 117.7 191.81 117.38 192.2 117.68 192.6 117.74 193.01 117.3 193.4 117.67 193.8 117.78 194.21 117.47 194.6 117.78 195 117.79 195.4 117.75 195.81 117.43 196.21 117.55 196.6 117.69 197 117.75 197.4 117.53 197.8 117.75 198.21 117.45 198.6 117.67 199.01 117.36 199.4 117.71 199.8 117.43 200.21 117.28 200.6 117.73 201 117.67 201.4 117.78 201.8 117.71 202.2 117.74 202.6 117.8 203 117.71 203.4 117.75 203.8 117.68 204.2 117.59 204.6 117.61 205 117.66 205.41 117.03 205.8 117.62 206.2 117.8 206.6 117.8 207 117.43 207.4 117.47 207.8 117.78 208.2 117.73 208.6 117.82 209 117.74 209.4 117.03 209.8 117.73 210.2 117.71 210.6 117.54 210.6 119.2 210.2 119.2 209.8 119.01 209.4 119.13 209 119.24 208.6 119.01 208.2 118.99 207.8 119.22 207.4 119.07 207 119.17 206.6 119.09 206.2 118.91 205.8 119.06 205.4 118.9 205 119.06 204.6 119.18 204.2 119.5 203.8 119.07 203.4 119.49 203 119.31 202.6 119.14 202.2 119.26 201.8 119.02 201.4 118.88 201 119.07 200.6 118.98 200.2 118.93 199.8 119.24 199.4 119.03 199 118.89 198.6 119.19 198.2 119.14 197.8 119 197.4 119.02 197 119.11 196.59 119.13 196.2 118.98 195.79 119.74 195.4 118.86 194.99 119.08 194.6 118.92 194.2 118.96 193.79 119.2 193.39 119.03 192.99 119.07 192.6 118.91 192.19 119.04 191.79 118.94 191.39 119.09 190.99 118.92 190.59 118.9 190.19 119.14 189.79 119.22 189.39 119.03 188.99 118.9 188.59 119.23 188.19 118.92 187.79 118.98 187.39 118.9 186.99 118.86 186.59 119.07 186.18 120.02 185.79 119.56 185.39 118.94 184.99 119.07 184.59 119.29 184.19 118.94 183.79 118.87 183.39 119.02 182.99 118.83 182.59 118.89 182.19 118.96 181.79 118.78 181.39 119.09 180.99 119 180.59 118.9 180.19 118.91 179.78 119.23 179.39 118.87 178.99 118.79 178.59 118.86 178.19 118.71 177.79 118.89 177.38 119.13 176.98 119.05 176.59 118.84 176.18 119.04 175.79 118.84 175.38 119.26 174.99 118.82 174.58 119.35 174.19 118.7 173.78 119.22 173.38 119.06 172.99 118.78 172.58 119 172.19 118.58 171.78 118.96 171.39 118.68 170.98 118.88 170.58 118.73 170.18 118.72 169.79 118.58 169.38 118.61 168.96 119.44 168.58 118.62 168.17 119.26 167.77 119.2 167.38 118.63 166.98 118.73 166.58 118.72 166.18 118.61 165.77 119.04 165.37 118.8 164.98 118.48 164.57 118.73 164.17 118.89 163.78 118.61 163.38 118.39 162.94 119.53 162.57 118.67 162.17 118.72 161.77 118.56 161.37 118.51 160.97 118.48 160.57 118.56 160.17 118.54 159.78 118.34 159.37 118.42 158.97 118.34 158.57 118.47 158.17 118.47 157.77 118.31 157.37 118.23 156.98 118.15 156.56 118.52 156.17 118.13 155.76 118.53 155.37 118.27 154.95 118.58 154.55 118.56 154.15 118.41 153.75 118.39 153.33 118.92 152.96 118.14 152.54 118.6 152.17 118 151.75 118.2 151.37 117.95 150.95 118.13 150.55 118.21 150.16 117.93 149.76 117.96 149.35 117.98 148.95 118.08 148.55 117.97 148.14 118.11 147.73 118.16 147.35 117.79 146.95 117.79 146.51 118.35 146.14 117.94 145.76 117.59 145.32 118.1 144.95 117.65 144.55 117.62 144.15 117.58 143.74 117.63 143.3 118.09 142.95 117.38 142.53 117.59 142.13 117.61 141.73 117.5 141.34 117.39 140.95 117.25 140.52 117.54 140.13 117.33 139.72 117.4 139.32 117.4 138.9 117.55 138.49 117.63 138.1 117.48 137.73 117.03 137.29 117.39 136.92 117.1 136.5 117.18 136.12 116.99 135.72 116.89 135.33 116.8 134.87 117.23 134.51 116.88 134.13 116.62 133.71 116.69 133.25 117.19 132.92 116.54 132.49 116.71 132.07 116.82 131.72 116.37 131.29 116.5 130.86 116.74 130.46 116.61 130.09 116.37 129.71 116.11 129.26 116.44 128.85 116.47 128.44 116.42 128.08 116.11 127.68 116.01 127.3 115.85 126.85 116.06 126.39 116.41 126.01 116.25 125.62 116.06 125.28 115.63 124.81 116 124.42 115.86 124.06 115.49 123.65 115.5 123.17 115.9 122.8 115.63 122.49 115.03 122.05 115.17 121.62 115.25 121.24 115.06 120.87 114.79 120.39 115.16 120.03 114.86 119.61 114.9 119.26 114.52 118.7 115.28 118.3 115.16 118.03 114.43 117.64 114.29 117.19 114.43 116.81 114.22 116.42 114.08 116.03 113.95 115.65 113.73 115.17 114.02 114.82 113.71 114.4 113.69 113.97 113.72 113.63 113.34 113.2 113.35 112.82 113.19 112.27 113.69 111.85 113.66 111.55 113.13 111.2 112.83 110.81 112.65 110.31 112.96 109.99 112.52 109.59 112.41 109.02 112.9 108.73 112.39 108.37 112.14 107.86 112.38 107.44 112.36 107.07 112.11 106.39 112.95 106.36 111.54 105.86 111.76 105.45 111.66 105.05 111.52 104.67 111.3 104.18 111.46 103.98 110.69 103.21 111.7 103 110.97 102.76 110.33 102.28 110.42 101.94 110.1 101.53 110 101.15 109.78 100.66 109.9 100.25 109.77 99.78 109.82 99.53 109.24 99.06 109.27 98.49 109.57 98.21 109.08 97.64 109.38 97.49 108.55 97.1 108.36 96.67 108.28 96.04 108.7 95.73 108.29 95.28 108.25 94.82 108.22 94.66 107.46 94.24 107.32 93.68 107.53 93.47 106.89 92.77 107.41 92.65 106.59 92.07 106.81 91.41 107.21 91.29 106.39 90.5 107.04 90.29 106.44 89.97 106.07 89.54 105.93 89.4 105.17 88.72 105.55 88.23 105.53 87.99 104.99 87.62 104.73 87.3 104.36 86.92 104.11 86.04 104.84 86.12 103.68 85.62 103.66 84.98 103.91 84.87 103.13 84.37 103.1 83.97 102.89 83.69 102.44 83.36 102.09 82.87 102.03 82.51 101.72 81.7 102.23 81.47 101.68 81.33 100.99 80.89 100.83 80.31 100.91 79.84 100.78 79.41 100.58 79.32 99.82 78.33 100.57 78.42 99.49 77.98 99.32 77.47 99.26 77.04 99.05 76.52 98.99 76.09 98.78 75.99 98.04 75.07 98.61 75.11 97.66 74.63 97.51 74.23 97.26 73.7 97.2 73.07 97.3 73.01 96.49 72.43 96.5 72.36 95.74 71.93 95.51 71.56 95.19 70.95 95.25 70.79 94.61 69.33 95.91 69.63 94.6 69.28 94.26 68.7 94.24 68.12 94.23 67.92 93.65 67.49 93.42 66.69 93.73 66.25 93.49 66.63 92.09 66.03 92.1 65.57 91.91 65.51 91.14 64.52 91.7 64.57 90.78 63.93 90.83 63.77 90.21 63.24 90.12 63.05 89.54 61.95 90.26 62.01 89.34 61.62 89.04 61.04 89.02 61 88.22 59.93 88.93 60.16 87.74 59.51 87.84 59.33 87.25 57.9 88.49 58.18 87.23 58.14 86.44 57.86 85.98 56.43 87.28 56.38 86.51 56.62 85.28 56.22 85.03 55.77 84.87 55.4 84.58 54.72 84.79 54.24 84.68 54.25 83.79 53.9 83.48 53.12 83.88 51.81 85.14 52.34 83.34 52 82.96 51.69 82.49 51.2 82.24 50.27 82.98 50.9 82.02 50.42 82.5 50.89 81.77 49.03 83.94 50.42 82.22 50.67 81.78 50.26 82.13 50.3 81.93 49.69 82.47 50.53 81.41 50.26 81.56 48.37 83.36 49.64 81.94 49.68 81.87 50.31 81.11 50.08 81.19 49.58 81.5 49.8 81.16 49.96 80.87 49.77 80.89 49.79 80.73 48.78 81.41 48.78 81.35 49.21 80.87 48.75 81.03 48.59 80.97 49.19 80.41 49.14 80.29 49.27 80.06 48.97 80.07 48.34 80.33 48.82 79.99 45.48 81.52 48.86 79.63 48.26 79.74 49.04 79.22 48.05 79.46 48.59 79.05 47.79 79.17 48.65 78.77 48.19 78.82 47.69 78.8 47.27 78.72 47.83 78.32 48 78.05 47.54 77.95 48.26 77.53 48.13 77.32 47.7 77.36 48.31 77.03 47.75 76.9 46.95 76.79 46.31 76.62 47.99 75.99 47.05 75.85 47.92 75.37 46.83 75.2 47.8 75 44.36 75.18 46.98 74.42 46.12 74.12 46.8 73.6 46.47 73.19 46.7 72.68 47.57 72.09 47.02 71.62Z" fill="#3b4cb2" fill-opacity="1"/>
<path d="M50.74 63.83 50.8 64.43 51.48 64.93 52.97 65.3 51.24 65.97 52.18 66.33 51.72 66.81 53.81 66.96 51.01 67.65 54.59 67.22 52.11 67.91 52.46 68.19 52.63 68.48 53.32 68.66 55.68 68.5 52.17 69.39 52.73 69.52 51.65 69.91 52.28 69.84 52.9 69.92 53.13 70.06 51.57 70.63 51.88 70.73 52.34 70.78 55.08 70.13 53.97 70.58 52.82 71.02 51.73 71.43 54.76 70.53 52.19 71.54 53.7 71.08 51.88 71.9 52 71.96 53.41 71.45 53.26 71.59 54.02 71.27 52.17 72.19 55.26 70.71 53.81 71.5 52.39 72.34 52.83 72.16 52.48 72.44 52.92 72.24 52.33 72.68 52.49 72.6 52.53 72.62 52.89 72.44 52.49 72.79 54.15 71.59 52.71 72.75 56.67 69.56 52.66 72.92 53.23 72.49 52.86 72.83 52.97 72.77 53.66 72.2 54.96 70.99 53.02 72.92 52.8 73.2 54.13 71.89 53.94 72.14 53.62 72.53 53.83 72.31 53.74 72.46 52.88 73.49 53.44 72.93 53.73 72.66 54.65 71.79 54.41 72.68 53.89 74.17 54.23 74.49 54.67 74.68 55.12 74.89 55.71 74.89 56.32 74.86 56.66 75.26 57.14 75.44 58.65 74.19 57.78 76.29 57.93 76.94 59.71 75.37 59.15 76.98 58.95 78.1 59.44 78.29 60.1 78.26 60.31 78.83 61.06 78.68 62.47 77.7 61.67 79.56 62.46 79.39 63.48 78.92 62.98 80.38 63 81.18 63.92 80.85 64.71 80.68 64.36 81.95 65.78 80.98 65.84 81.72 65.95 82.41 66.32 82.77 66.92 82.84 66.63 84.02 68.75 82.19 68.45 83.37 68.06 84.69 68.26 85.25 69.06 85.07 68.96 86.01 70.32 85.11 71.38 84.57 70.11 87 72.65 84.58 71.36 87.06 72.13 86.89 72.36 87.41 72.13 88.52 72.51 88.85 72.93 89.14 73.23 89.56 75.01 88.04 74.54 89.49 74.79 89.99 74.88 90.68 76.64 89.16 75.72 91.22 76.73 90.67 77.62 90.29 77.61 91.14 77.43 92.22 78.06 92.18 78.8 91.97 78.97 92.58 78.89 93.53 79.45 93.57 79.68 94.09 81.22 92.71 80.77 94.21 81.2 94.42 81.56 94.74 82.32 94.45 82.35 95.26 82.99 95.16 83.31 95.53 85.73 92.67 84.01 96.18 84.18 96.78 84.38 97.34 85.65 96.21 85.88 96.71 85.73 97.82 86.16 98.02 87.03 97.48 87.02 98.38 87.46 98.55 87.51 99.35 88.39 98.76 88.6 99.31 88.96 99.6 89.43 99.68 89.58 100.35 90.64 99.39 90.31 100.9 90.71 101.11 91.25 101.06 91.49 101.57 92.4 100.81 92.42 101.73 93.18 101.24 93.1 102.36 93.9 101.77 93.89 102.77 94.83 101.87 94.62 103.28 95.38 102.74 95.68 103.12 95.97 103.54 96.47 103.5 96.77 103.88 97.18 104.03 97.38 104.64 98.16 103.98 98.32 104.67 99.31 103.52 99.02 105.23 99.99 104.07 99.73 105.77 100.76 104.43 101.01 104.94 101.33 105.27 101.48 106.03 102.04 105.8 102.42 105.97 102.65 106.55 102.94 106.96 103.47 106.78 103.71 107.34 104.79 105.66 104.62 107.33 104.89 107.8 105.36 107.75 105.82 107.73 106.09 108.2 106.64 107.92 107 108.14 107.31 108.53 107.75 108.55 108.06 108.92 108.45 109.07 108.84 109.24 109.22 109.42 109.64 109.46 110.34 108.62 110.62 109.11 110.91 109.59 111.48 109.12 111.66 109.97 112.01 110.23 112.43 110.26 112.89 110.15 113.41 109.84 114.21 108.47 114.01 110.75 114.56 110.3 114.91 110.55 115.24 110.9 115.63 111.06 116 111.24 116.48 111.03 116.8 111.45 117.18 111.62 117.88 110.44 117.98 111.78 118.37 111.89 119.16 110.27 119.23 111.82 119.55 112.23 119.96 112.25 120.38 112.25 120.79 112.28 121.26 112.01 121.59 112.44 121.98 112.53 122.57 111.66 122.92 111.95 123.18 112.75 123.57 112.86 123.95 113.02 124.37 112.96 124.79 112.95 125.21 112.86 125.7 112.46 126.01 113 126.45 112.78 126.87 112.74 127.18 113.31 127.52 113.73 127.95 113.62 128.33 113.77 128.83 113.16 129.11 113.99 129.54 113.85 129.93 113.97 130.33 114 130.73 114.05 131.1 114.35 131.57 113.86 131.89 114.48 132.38 113.89 132.75 114.14 133.2 113.82 133.55 114.21 133.89 114.69 134.36 114.22 134.81 113.78 135.09 114.85 135.57 114.17 135.97 114.24 136.28 114.99 136.75 114.4 137.07 115.13 137.6 114.01 137.96 114.44 138.3 115.03 138.67 115.3 139.08 115.23 139.48 115.25 139.92 114.93 140.29 115.2 140.69 115.22 141.1 115.11 141.46 115.55 142 114.14 142.35 114.63 142.69 115.37 143.08 115.45 143.49 115.36 143.87 115.65 144.33 114.96 144.66 115.74 145.05 115.91 145.53 114.97 145.93 115.02 146.26 115.91 146.76 114.63 147.07 115.8 147.47 115.77 147.85 116 148.25 116.15 148.67 115.87 149.15 114.7 149.48 115.72 149.85 116.13 150.28 115.68 150.66 116.09 151.07 115.78 151.45 116.12 151.85 116.25 152.24 116.33 152.66 115.97 153.12 115.02 153.48 115.65 153.84 116.36 154.36 114.19 154.64 116.51 155.04 116.44 155.53 114.72 155.83 116.66 156.24 116.55 156.67 115.81 157.1 115.2 157.47 115.89 157.85 116.16 158.24 116.51 158.64 116.43 159.05 116.25 159.43 116.78 159.83 116.82 160.23 116.76 160.65 116.35 161.03 116.74 161.44 116.49 161.85 116.25 162.23 116.83 162.65 116.2 163.05 116.29 163.42 116.98 163.84 116.34 164.23 116.83 164.64 116.47 165.02 116.95 165.43 116.86 165.82 116.92 166.23 116.62 166.65 115.98 167.03 116.85 167.44 116.23 167.83 116.82 168.22 117.13 168.62 117.14 169.03 116.67 169.42 117.2 169.83 116.62 170.24 116.35 170.61 117.21 171.03 116.73 171.42 117.15 171.83 116.7 172.24 116.33 172.63 116.64 173.02 117.14 173.42 117.11 173.82 117.08 174.22 116.76 174.61 117.25 175.02 116.96 175.43 116.52 175.81 117.22 176.22 117.12 176.62 116.98 177.02 116.77 177.42 116.98 177.81 117.13 178.22 117.1 178.62 117.04 179.01 117.16 179.41 117.38 179.81 117.42 180.22 116.9 180.61 117.32 181.01 117.47 181.41 117.28 181.82 116.77 182.21 117.14 182.61 117.25 183.01 117.11 183.41 117.3 183.81 117.35 184.21 117.49 184.62 116.72 185.01 117 185.41 117.26 185.81 116.86 186.21 117.16 186.61 117.39 187.01 117.07 187.41 117.33 187.82 116.7 188.22 116.67 188.62 116.35 189.01 117.3 189.41 117.57 189.82 116.41 190.21 117.19 190.61 117.19 191.01 116.7 191.41 117.52 191.81 117.14 192.21 117.31 192.61 117.43 193.01 117.22 193.41 117.49 193.81 117.11 194.21 117.32 194.61 117.06 195.01 117.41 195.41 116.9 195.81 117.23 196.21 116.94 196.6 117.63 197.01 117.02 197.41 117.11 197.81 117.23 198.21 117.14 198.61 117.12 199 117.61 199.4 117.63 199.8 117.58 200.2 117.42 200.6 117.49 201.01 117.22 201.4 117.42 201.81 117.21 202.2 117.49 202.6 117.41 203 117.37 203.4 117.5 203.8 117.14 204.2 117.56 204.6 117.61 205 117.36 205.4 117.16 205.81 116.37 206.2 117.64 206.6 117.19 207 117.28 207.41 116.65 207.8 117.59 208.21 116.7 208.61 116.7 209 117.26 209.4 117.32 209.8 117.51 210.2 117.63 210.6 116.94 210.6 118.83 210.2 118.96 209.8 118.89 209.4 118.95 209 118.86 208.6 118.87 208.2 119.02 207.8 118.83 207.4 118.87 207 118.99 206.6 118.9 206.2 118.96 205.8 118.94 205.4 118.91 205 118.8 204.6 119.11 204.2 118.92 203.8 118.81 203.4 118.78 203 119.03 202.59 119.3 202.2 118.75 201.8 118.87 201.4 119.12 201 118.75 200.6 118.87 200.2 118.73 199.8 118.76 199.4 118.89 199 118.81 198.6 118.94 198.2 118.81 197.8 118.87 197.4 118.76 197 118.81 196.6 118.7 196.2 118.7 195.8 118.75 195.4 118.69 194.99 118.99 194.59 119 194.2 118.73 193.79 118.81 193.39 119.11 193 118.67 192.59 118.75 192.19 118.73 191.8 118.68 191.39 118.92 190.99 118.82 190.59 118.91 190.19 118.99 189.79 118.67 189.39 118.81 188.99 119 188.59 118.68 188.19 118.73 187.79 118.67 187.39 118.9 186.99 118.86 186.59 118.65 186.19 118.81 185.79 118.72 185.39 118.76 184.99 118.79 184.59 118.78 184.19 118.85 183.79 118.65 183.39 118.74 182.99 119.04 182.59 118.68 182.19 118.62 181.79 118.78 181.39 118.66 180.99 118.68 180.59 118.72 180.19 118.54 179.79 118.7 179.39 118.52 178.99 118.53 178.58 118.94 178.19 118.67 177.79 118.53 177.39 118.49 176.98 118.78 176.59 118.57 176.18 118.83 175.78 119.15 175.38 118.76 174.99 118.62 174.59 118.51 174.19 118.56 173.79 118.44 173.38 118.6 172.98 118.54 172.58 118.54 172.18 118.63 171.78 118.45 171.38 118.55 170.98 118.52 170.58 118.39 170.18 118.44 169.78 118.4 169.38 118.62 168.98 118.32 168.58 118.59 168.18 118.3 167.78 118.32 167.37 118.67 166.98 118.27 166.58 118.3 166.18 118.26 165.78 118.26 165.37 118.48 164.98 118.37 164.58 118.25 164.18 118.32 163.77 118.45 163.38 118.25 162.97 118.26 162.55 118.79 162.18 118.12 161.78 118.12 161.38 118.1 160.98 118.06 160.57 118.09 160.17 118.07 159.73 118.99 159.38 118 158.97 118.14 158.57 118.11 158.17 118.03 157.75 118.38 157.36 118.2 156.97 117.98 156.57 117.94 156.15 118.36 155.77 117.94 155.36 117.94 154.96 118.05 154.53 118.48 154.17 117.78 153.74 118.18 153.35 117.93 152.96 117.87 152.55 117.86 152.15 117.85 151.73 118.25 151.35 117.77 150.96 117.58 150.54 117.87 150.16 117.55 149.75 117.63 149.33 117.96 148.94 117.75 148.54 117.61 148.16 117.4 147.76 117.38 147.35 117.35 146.95 117.33 146.55 117.38 146.15 117.26 145.74 117.42 145.35 117.25 144.93 117.35 144.55 117.11 144.15 117.08 143.71 117.51 143.33 117.18 142.93 117.13 142.53 117.08 142.11 117.27 141.73 117.05 141.33 116.98 140.94 116.8 140.5 117.15 140.12 116.91 139.69 117.15 139.33 116.74 138.91 116.85 138.53 116.6 138.13 116.55 137.73 116.55 137.29 116.77 136.91 116.56 136.48 116.75 136.11 116.48 135.72 116.3 135.32 116.28 134.91 116.27 134.48 116.49 134.1 116.27 133.7 116.15 133.29 116.14 132.87 116.28 132.51 115.88 132.11 115.81 131.68 116.01 131.31 115.71 130.87 115.94 130.47 115.84 130.08 115.7 129.61 116.11 129.26 115.66 128.76 116.23 128.49 115.37 128.09 115.3 127.69 115.18 127.28 115.15 126.89 115.06 126.48 115 126.06 115.04 125.67 114.89 125.26 114.9 124.88 114.68 124.4 115.04 124.05 114.67 123.67 114.5 123.26 114.45 122.87 114.31 122.46 114.29 122.04 114.31 121.66 114.1 121.19 114.33 120.84 114.02 120.45 113.88 120.05 113.79 119.49 114.42 119.24 113.61 118.77 113.85 118.42 113.5 117.95 113.71 117.61 113.32 117.18 113.38 116.74 113.4 116.38 113.14 116.03 112.81 115.54 113.07 115.13 112.98 114.81 112.58 114.32 112.78 113.98 112.45 113.52 112.55 113.02 112.78 112.61 112.71 112.34 112.11 111.92 112.04 111.59 111.68 111.2 111.51 110.79 111.43 110.28 111.65 109.8 111.77 109.39 111.69 108.85 111.99 108.67 111.14 108.37 110.7 107.82 111 107.49 110.64 107.17 110.27 106.44 111.08 106.28 110.24 105.89 110.07 105.52 109.83 105.15 109.6 104.73 109.49 104.32 109.36 103.77 109.61 103.15 110.02 103.01 109.17 102.64 108.93 102.13 109.04 101.91 108.42 101.35 108.65 100.97 108.43 100.68 107.98 100.24 107.9 99.9 107.59 99.46 107.51 98.94 107.59 98.34 107.87 98.02 107.51 97.83 106.85 97.45 106.61 97.04 106.45 96.63 106.28 96.21 106.13 95.72 106.11 95.36 105.84 94.9 105.75 94.57 105.41 94.21 105.12 93.82 104.91 93.26 105.01 92.97 104.58 92.52 104.46 91.94 104.59 91.82 103.84 91.42 103.63 90.89 103.64 90.39 103.62 90.11 103.17 89.56 103.2 89.21 102.89 88.75 102.76 88.42 102.4 87.7 102.72 87.41 102.3 87.27 101.6 86.91 101.28 86 101.9 85.87 101.21 85.73 100.52 85.3 100.33 84.68 100.44 84.28 100.18 83.82 100 83.15 100.18 83.16 99.26 82.83 98.9 82.41 98.66 82.07 98.31 81.63 98.09 81.28 97.75 80.74 97.68 80.23 97.58 79.88 97.22 79.49 96.94 79.08 96.67 78.8 96.22 78.31 96.05 77.84 95.87 77.27 95.82 76.49 96.06 76.76 94.83 76.28 94.65 75.51 94.87 75.36 94.23 75.15 93.67 74.75 93.37 73.64 94.03 73.51 93.36 73.12 93.05 73.08 92.26 72.75 91.86 72.08 91.91 71.69 91.58 71.51 90.98 70.8 91.08 70.5 90.64 69.92 90.55 69.71 90 68.98 90.11 68.77 89.54 68.54 89.01 68.03 88.84 67.87 88.21 67.06 88.42 66.66 88.09 66.56 87.4 66.19 87.03 65.42 87.19 65.48 86.28 64.69 86.45 64.6 85.75 63.95 85.74 63.5 85.48 63.48 84.68 62.6 84.97 62.25 84.6 61.91 84.2 60.36 85.33 61.42 83.18 60.61 83.39 60.48 82.73 60.23 82.23 59.64 82.17 58.99 82.18 58.29 82.27 58.62 81.03 58.15 80.82 57.36 81.03 57.34 80.24 56.86 80.06 56.23 80.09 55.98 79.61 55.54 79.39 55.23 79 54.68 78.95 54.53 78.33 54.01 78.24 53.59 78.01 51.85 79.75 52.68 77.65 52.3 77.35 51.74 77.27 51.69 76.41 51.01 76.35 50.68 76.26 51.02 75.73 50.79 75.87 50.86 75.67 50.79 75.62 50.82 75.58 50.49 75.81 50.42 75.75 49.39 76.66 50.27 75.63 50.31 75.45 49.85 75.75 50.14 75.34 49.96 75.39 50.07 75.26 48.53 76.43 50.16 74.91 49.9 74.98 48.93 75.59 49.16 75.25 48.97 75.23 47.69 75.94 49.83 74.38 49.64 74.46 49.1 74.65 49.43 74.29 48.7 74.57 49.33 74.05 48.96 74.09 49.35 73.72 48.45 74 48.62 73.83 47.87 74.09 48.62 73.57 49.11 73.18 48.82 73.12 47.46 73.46 48.49 72.88 48.45 72.7 48.48 72.49 48.19 72.5 48.46 72.29 47.87 72.25 47.86 72.03 48.6 71.6 48.41 71.41 47.73 71.33 47.69 71.08 48.26 70.69 48.05 70.66 47.98 70.47 47.15 70.33 46.52 70.13 48.02 69.54 47.54 69.28 47.98 68.86 46.99 68.63 47.82 68.12 46.1 68.29 47.88 67.7 47.51 67.31 47.6 66.84 45.3 66.59 47.24 65.87 47.11 65.33 47.13 64.75 47.44 64.11Z" fill="#1d8a40" fill-opacity="1"/>
<path d="M49.98 49.8 49.98 49.96 49.9 50.37 49.82 50.7 50.31 49.9 49.91 50.87 50.31 50.26 50.8 49.51 50.09 50.96 50.11 50.94 50.54 50.33 50.35 50.81 50.74 50.27 50.62 50.63 51.57 49.17 50.98 50.3 51.14 50.19 51.29 50.05 50.94 50.65 50.77 51.05 50.97 50.87 50.98 50.99 51.66 50.07 51.29 50.78 51.51 50.57 51.57 50.62 52.09 49.92 51.17 51.33 51.27 51.31 51.4 51.23 51.66 50.99 52.24 50.28 51.37 51.64 51.58 51.47 51.51 51.68 52.34 50.58 51.77 51.44 51.88 51.41 51.87 51.53 52.42 50.9 52.24 51.27 51.87 51.89 51.87 51.99 52.14 51.75 53.41 50.12 52.13 51.88 52.47 51.54 53.16 50.77 52.05 52.32 54.8 48.89 52.52 51.94 53.62 50.64 52.66 51.98 53.39 51.08 52.45 52.36 52.73 52.12 53.28 51.54 52.65 52.44 53.66 51.31 52.7 52.6 53.13 52.17 53.36 52.01 53 52.45 52.99 52.57 53.2 52.43 53.28 52.44 53.94 51.75 53.39 52.85 54 52.98 54.69 53.04 54.66 53.9 56.75 52.46 55.37 54.79 55.69 55.26 56.35 55.39 56.54 56.01 57.3 56.04 57.38 56.77 58.3 56.65 58.29 57.47 58.99 57.59 59.92 57.48 59.6 58.61 60.07 58.96 62.6 57.31 61.5 59.18 61.12 60.36 62.22 60.11 61.53 61.57 62.18 61.75 62.93 61.83 64.14 61.48 63.15 63.23 63.89 63.33 64.55 63.5 64.45 64.4 65.53 64.17 65.14 65.34 66.34 65 66.24 65.89 67.25 65.73 66.85 66.9 67.12 67.44 67.78 67.61 68.15 68.06 69.61 67.44 68.66 69.16 69.14 69.48 69.73 69.71 69.8 70.44 70.29 70.76 71.25 70.62 71.67 70.99 71.48 71.98 71.78 72.47 73.34 71.72 73.5 72.34 73.06 73.58 73.35 74.09 73.98 74.24 74.65 74.35 74.76 75.04 75.03 75.55 75.51 75.85 76.06 76.08 76.5 76.42 76.71 76.99 77.24 77.22 77.55 77.69 77.78 78.24 78.75 77.99 78.67 78.87 79 79.31 79.42 79.65 79.91 79.91 80.51 80.05 80.71 80.61 81.09 80.99 81.61 81.2 81.65 81.96 82.36 81.95 82.58 82.49 83.06 82.74 83.21 83.37 84.02 83.22 84.48 83.47 85.05 83.6 84.9 84.58 85.31 84.89 85.64 85.3 86.11 85.54 87.3 84.88 87.11 85.92 87.16 86.67 87.98 86.45 88.29 86.87 88.72 87.13 88.94 87.67 89.22 88.12 89.66 88.37 90.15 88.54 90.65 88.7 90.82 89.3 91.52 89.18 91.75 89.7 92.21 89.89 93.11 89.46 92.91 90.58 93.81 90.14 93.63 91.25 94.21 91.26 94.36 91.87 94.68 92.26 95.32 92.17 95.53 92.72 95.95 92.95 96.36 93.18 96.9 93.22 97.08 93.81 97.79 93.58 97.98 94.14 98.41 94.34 98.81 94.59 99.1 95.01 99.41 95.38 99.85 95.55 100.41 95.52 100.73 95.88 101.09 96.18 101.83 95.82 101.93 96.56 102.29 96.86 102.98 96.55 103.46 96.62 103.38 97.7 104.44 96.71 104.37 97.78 104.78 97.97 104.98 98.54 105.51 98.51 105.82 98.88 106.39 98.74 106.66 99.19 107.34 98.84 107.53 99.43 107.8 99.89 108.12 100.24 108.61 100.25 109.12 100.2 109.45 100.52 109.88 100.64 110.19 101 110.62 101.12 111.31 100.66 111.32 101.7 111.89 101.48 112.35 101.51 112.62 101.99 112.94 102.32 113.31 102.56 113.71 102.73 114.66 101.58 114.49 103.09 115.1 102.74 115.29 103.41 115.67 103.61 116.21 103.41 116.46 103.93 116.89 103.99 117.28 104.18 117.69 104.3 118.22 104.1 118.56 104.4 118.85 104.83 119.3 104.83 119.65 105.11 120.29 104.57 120.51 105.22 120.85 105.52 121.35 105.33 121.64 105.79 122.17 105.54 122.47 105.94 123 105.68 123.29 106.14 123.86 105.73 124.02 106.6 124.47 106.56 124.8 106.89 125.35 106.53 125.63 107.04 126.19 106.6 126.39 107.37 126.83 107.35 127.21 107.54 127.69 107.36 128 107.78 128.41 107.84 128.97 107.38 129.17 108.21 129.58 108.27 130.02 108.22 130.47 108.12 130.89 108.13 131.21 108.54 131.7 108.26 132.07 108.48 132.42 108.78 132.88 108.63 133.23 108.89 133.55 109.34 133.94 109.44 134.42 109.18 134.79 109.4 135.16 109.61 135.54 109.8 135.95 109.82 136.37 109.8 136.84 109.55 137.24 109.66 137.57 110.05 137.94 110.27 138.39 110.12 138.87 109.79 139.23 110.06 139.54 110.55 140.03 110.17 140.32 110.79 140.74 110.75 141.24 110.27 141.57 110.73 142.01 110.56 142.32 111.13 142.78 110.84 143.13 111.17 143.54 111.19 143.92 111.37 144.36 111.2 144.71 111.56 145.1 111.65 145.55 111.42 145.94 111.57 146.33 111.66 146.74 111.67 147.11 111.89 147.5 112.02 148.05 111.09 148.51 110.69 148.75 111.84 149.11 112.15 149.54 112 149.91 112.24 150.29 112.44 150.68 112.53 151.12 112.31 151.54 112.18 151.88 112.66 152.29 112.66 152.71 112.55 153.08 112.81 153.49 112.82 153.91 112.66 154.38 112.18 154.72 112.69 155.1 112.85 155.54 112.53 155.9 112.96 156.33 112.74 156.69 113.12 157.09 113.13 157.47 113.34 157.92 112.93 158.3 113.15 158.68 113.31 159.1 113.19 159.49 113.36 159.92 113.02 160.27 113.54 160.66 113.71 161.08 113.56 161.49 113.44 161.85 113.85 162.26 113.87 162.69 113.52 163.1 113.48 163.48 113.71 163.86 113.98 164.31 113.35 164.67 113.92 165.05 114.16 165.48 113.74 165.85 114.16 166.31 113.48 166.65 114.22 167.05 114.27 167.46 114.16 167.85 114.34 168.26 114.18 168.66 114.19 169.05 114.41 169.46 114.18 169.86 114.22 170.24 114.57 170.67 114.17 171.05 114.39 171.44 114.57 171.85 114.55 172.25 114.55 172.64 114.62 173.06 114.38 173.44 114.78 173.86 114.47 174.24 114.77 174.65 114.54 175.05 114.63 175.44 114.87 175.85 114.66 176.24 114.79 176.64 114.83 177.04 114.76 177.45 114.7 177.84 114.95 178.25 114.69 178.64 114.86 179.04 114.9 179.44 114.93 179.87 114.25 180.23 115.07 180.63 115.13 181.03 115.17 181.43 115.11 181.83 115.2 182.24 115.06 182.63 115.24 183.02 115.3 183.43 115.19 183.84 114.97 184.23 115.22 184.65 114.65 185.03 115.14 185.43 115.27 185.82 115.42 186.23 115.36 186.65 114.69 187.03 115.34 187.43 115.15 187.84 114.92 188.23 115.27 188.62 115.41 189.03 115.18 189.42 115.58 189.83 115.4 190.22 115.46 190.62 115.56 191.02 115.54 191.43 115.42 191.82 115.5 192.23 115.39 192.62 115.56 193.03 115.24 193.42 115.57 193.82 115.66 194.23 115.32 194.63 115.26 195.03 115.22 195.44 115 195.82 115.49 196.23 115.37 196.62 115.75 197.02 115.71 197.41 115.81 197.83 115.28 198.22 115.62 198.61 115.83 199.02 115.59 199.41 115.8 199.81 115.8 200.22 115.71 200.61 115.85 201.01 115.82 201.41 115.93 201.82 115.71 202.23 115.25 202.61 115.86 203.04 114.84 203.41 115.89 203.82 115.78 204.21 115.78 204.61 115.9 205.02 115.77 205.42 115.68 205.81 115.92 206.22 115.74 206.62 115.63 207.01 115.77 207.41 115.93 207.81 115.82 208.21 116.02 208.61 116.05 209.01 115.98 209.41 115.97 209.81 115.88 210.21 115.81 210.61 115.77 210.58 117.86 210.19 117.54 209.79 117.4 209.38 117.85 208.99 117.32 208.59 117.32 208.19 117.28 207.78 117.93 207.39 117.35 206.98 117.72 206.58 117.73 206.19 117.09 205.79 117.14 205.39 117.21 204.98 117.4 204.59 117.05 204.17 117.96 203.77 117.88 203.38 117.22 202.98 117.24 202.58 117.46 202.19 117.11 201.79 117.11 201.38 117.24 200.95 118.56 200.58 117.2 200.18 117.42 199.78 117.08 199.37 117.69 198.99 116.98 198.58 117.22 198.19 116.91 197.78 117.27 197.38 117.12 196.97 117.46 196.56 117.92 196.16 117.8 195.77 117.31 195.37 117.34 194.98 117.01 194.58 117.09 194.17 117.11 193.78 116.91 193.37 117.35 192.97 117.09 192.55 117.73 192.17 116.99 191.73 118.32 191.36 117.52 190.95 117.55 190.57 117.06 190.17 117.03 189.77 117.09 189.37 116.99 188.97 116.96 188.58 116.64 188.18 116.72 187.78 116.65 187.37 116.79 186.93 117.72 186.56 116.91 186.15 117.23 185.76 116.9 185.37 116.69 184.95 117.09 184.56 116.85 184.16 116.94 183.77 116.47 183.36 116.74 182.94 117.23 182.51 117.73 182.15 116.83 181.74 117.06 181.35 116.87 180.93 117.24 180.5 117.69 180.08 118.16 179.74 116.82 179.35 116.67 178.95 116.63 178.56 116.48 178.14 116.68 177.75 116.43 177.37 116.18 176.95 116.42 176.51 117.05 176.16 116.19 175.73 116.71 175.36 116.14 174.97 115.99 174.55 116.25 174.14 116.39 173.73 116.55 173.34 116.25 172.92 116.63 172.54 116.18 172.16 115.8 171.69 116.92 171.36 115.86 170.95 115.96 170.55 115.84 170.1 116.5 169.71 116.37 169.3 116.44 168.93 115.95 168.55 115.72 168.1 116.25 167.74 115.75 167.35 115.54 166.83 116.99 166.53 115.73 166.13 115.7 165.75 115.44 165.34 115.41 164.93 115.48 164.53 115.54 164.14 115.28 163.72 115.54 163.3 115.71 162.95 115.14 162.52 115.38 162.09 115.6 161.74 115.1 161.31 115.31 160.93 115.03 160.52 115.13 160.1 115.31 159.74 114.81 159.23 115.8 158.93 114.85 158.47 115.3 158.13 114.7 157.62 115.69 157.32 114.73 156.89 114.88 156.46 115.1 156.09 114.77 155.66 114.95 155.29 114.68 154.92 114.38 154.52 114.3 154.03 114.99 153.71 114.3 153.27 114.52 152.83 114.77 152.51 114.1 152.02 114.69 151.71 113.95 151.28 114.12 150.83 114.4 150.44 114.3 150.1 113.75 149.64 114.16 149.27 113.89 148.9 113.56 148.42 114.04 148.08 113.57 147.68 113.54 147.23 113.76 146.84 113.63 146.42 113.68 146.08 113.21 145.54 113.99 145.21 113.5 144.69 114.14 144.39 113.46 144.08 112.85 143.61 113.16 143.27 112.73 142.73 113.47 142.42 112.85 141.92 113.31 141.68 112.39 141.12 113.16 140.79 112.69 140.39 112.59 139.98 112.54 139.65 112.08 139.25 112 138.83 112 138.37 112.25 137.79 113.01 137.51 112.34 137.26 111.5 136.62 112.52 136.38 111.68 135.9 111.94 135.66 111.15 135.23 111.15 134.82 111.12 134.22 111.86 133.92 111.35 133.57 111.03 132.97 111.74 132.82 110.61 132.33 110.84 131.76 111.44 131.49 110.78 131.13 110.51 130.72 110.43 130.38 110.09 130 109.9 129.37 110.64 128.97 110.51 128.62 110.22 128.28 109.89 128 109.32 127.6 109.21 127.04 109.64 126.82 108.89 126.29 109.19 125.98 108.76 125.39 109.27 125.06 108.9 124.72 108.59 124.21 108.81 123.87 108.46 123.6 107.93 123.12 108.02 122.78 107.72 122.24 108.01 121.93 107.59 121.51 107.49 121.1 107.38 120.71 107.2 119.92 108.17 119.92 106.87 119.46 106.9 119.1 106.63 118.66 106.58 117.99 107.17 117.71 106.68 117.37 106.36 117.11 105.81 116.57 106.02 115.98 106.36 115.71 105.84 115.5 105.18 115.08 105.09 114.72 104.8 114.26 104.79 113.64 105.13 113.27 104.88 113.06 104.24 112.56 104.31 112.18 104.07 111.5 104.53 111.26 103.97 111.11 103.24 110.59 103.31 109.96 103.63 109.87 102.75 109.2 103.13 108.98 102.56 108.23 103.08 108.1 102.32 107.65 102.22 107.35 101.8 106.62 102.26 106.5 101.5 105.77 101.93 105.46 101.54 105.39 100.67 104.89 100.66 104.24 100.91 103.83 100.7 103.83 99.72 103.36 99.63 102.29 100.64 102.59 99.13 102.06 99.12 101.6 99 101.22 98.73 100.9 98.35 99.84 99.24 100.16 97.76 99.68 97.66 99.1 97.72 98.77 97.36 98.22 97.34 98.11 96.62 97.67 96.42 96.8 96.92 96.89 95.87 96.28 95.95 95.98 95.52 93.99 97.71 95.06 95.17 94.88 94.56 94.45 94.33 94.02 94.11 92.91 94.88 93.19 93.59 92.92 93.12 91.97 93.63 91.75 93.07 90.65 93.78 91.21 92.12 90.17 92.72 90.09 91.98 89.17 92.38 89.18 91.51 88.97 90.96 88.23 91.1 87.62 91.06 87.18 90.8 87.51 89.52 86.5 90 86.68 88.93 86.44 88.4 85.63 88.6 85.25 88.25 85.24 87.43 84.66 87.32 84.17 87.1 82.71 88.05 82.54 87.43 82.55 86.59 82.61 85.7 82.05 85.54 81.4 85.49 81.31 84.77 80.77 84.58 79.93 84.74 79.89 83.97 79.48 83.61 78.84 83.52 78.38 83.22 78.17 82.64 77.86 82.17 76.97 82.34 77.01 81.48 74.56 83.33 76.17 80.77 75.83 80.33 75.92 79.43 75.17 79.41 74.69 79.11 74.19 78.83 74.13 78.08 73.59 77.84 73.07 77.58 72.44 77.42 72.54 76.51 72.19 76.06 71.45 76.01 71.44 75.22 70.98 74.87 70.12 74.93 70.22 74.03 69.3 74.14 68.7 73.92 67.65 74.16 67.53 73.47 67.98 72.22 67.74 71.65 66.18 72.36 65.6 72.12 65.47 71.44 66.06 70.07 62.66 72.54 64.28 70.17 63.5 70.11 63.6 69.22 63.39 68.61 62.59 68.57 63 67.39 62.52 67.04 62.22 66.52 61.72 66.2 61.33 65.77 61.27 65.03 60.33 65.12 58.15 66.4 58.52 65.25 59.61 63.41 58.8 63.39 58.9 62.49 58.39 62.19 57.42 62.33 57.45 61.5 56.95 61.21 55.69 61.65 56 60.55 55.32 60.44 54.93 60.04 54.27 59.91 54.73 58.67 54.18 58.44 51.98 59.95 52.43 58.71 53.14 57.18 51.16 58.54 51.69 57.2 50.19 58.13 51.13 56.3 49.76 57.15 50.99 55.3 50.31 56.03 49.3 57.17 49.01 57.42 50.4 55.64 49.08 57.25 49.48 56.67 50.61 55.18 49.9 55.96 49.66 56.17 49.91 55.76 47.36 58.87 50.25 55.14 48.88 56.8 49.97 55.4 49.55 55.83 48.83 56.67 48.83 56.57 50.11 54.83 50.01 54.86 49.36 55.62 49.03 55.95 49.1 55.8 49.69 55 48.5 56.48 49.85 54.59 49.27 55.27 49.82 54.42 49.06 55.37 48.98 55.39 49.53 54.54 49.61 54.37 48.83 55.42 49.35 54.6 49.33 54.53 47.32 57.3 48.25 55.9 47.14 57.42 46.81 57.83 48.61 55.11 48.83 54.75 48.18 55.66 48.08 55.73 49.21 53.94 49.03 54.11 48.23 55.26 48.78 54.31 46.99 57.07 48.34 54.84 48.57 54.45 48.56 54.4 48.63 54.19 48.87 53.71 48.11 54.91 48.61 53.96 48.13 54.71 47.96 54.94 47.78 55.21 47.84 55.09 48.6 53.62 47.28 56.04 47.82 54.96 48.03 54.49 47.62 55.29 48.46 53.45 48.07 54.24 47.59 55.25Z" fill="#7b2ea5" fill-opacity="1"/>
<path d="M50.66 39.24 52.09 39.73 51.14 40.38 51.64 40.87 52.15 41.33 50.8 41.95 51.25 42.35 52.19 42.66 50.99 43.16 52.03 43.08 50.99 43.6 51.65 43.86 52.58 44.06 51.51 44.54 53.99 44.42 54.49 44.59 52.33 45.24 51.47 45.59 51.49 45.65 52.24 45.74 54.62 45.43 51.66 46.3 54.97 45.7 52.3 46.54 51.49 46.93 51.73 47.04 51.98 47.07 51.61 47.25 53.45 46.83 52.92 47.14 51.84 47.64 51.87 47.77 51.83 47.91 53.23 47.5 52 48.1 53.09 47.7 52.25 48.11 53.19 47.81 52.81 48.07 52.35 48.39 52.57 48.38 52.62 48.45 53.98 47.81 52.78 48.54 52.68 48.62 54.43 47.68 55.32 47.21 52.99 48.67 52.82 48.85 54.82 47.64 53.57 48.52 53.58 48.58 54.65 47.89 53.33 48.84 52.69 49.35 52.75 49.4 52.67 49.55 53.3 49.15 53.45 49.1 53.94 48.79 53.58 49.15 53.06 49.66 53.58 49.23 53.05 49.75 55.26 47.93 53.3 49.71 53.65 49.49 53.92 49.57 53.74 50.44 54.2 50.72 54.75 50.92 55.08 51.34 56.68 50.42 56.14 51.8 56.49 52.23 57.23 52.25 57.26 53.04 57.46 53.64 58.1 53.77 58.4 54.25 58.84 54.61 59.07 55.18 59.77 55.25 60.24 55.57 60.33 56.28 60.86 56.54 60.9 57.3 61.4 57.59 62.81 56.96 61.98 58.6 62.4 58.97 63.11 59.05 63.04 59.92 63.92 59.82 64.3 60.23 64.68 60.65 65.09 61.03 65.35 61.56 65.47 62.23 66.41 62.07 67.09 62.16 66.99 63.06 67.75 63.07 67.61 64.02 69.39 62.97 68.29 64.9 68.74 65.24 69.11 65.65 70.18 65.32 69.88 66.43 70.15 66.95 70.92 66.93 71.32 67.3 71.9 67.48 72.03 68.15 72.12 68.85 72.57 69.15 75.19 67.11 73.97 69.23 74.49 69.46 74.23 70.55 75.31 70.15 76.9 69.2 75.82 71.18 75.81 72 77.34 71.08 76.79 72.5 77.02 73.03 77.33 73.48 77.73 73.83 78.14 74.16 78.43 74.64 79.15 74.61 79.54 74.95 79.83 75.42 80.29 75.68 80.62 76.1 82.24 74.97 81.49 76.67 81.65 77.29 82.26 77.35 82.7 77.63 83.22 77.79 83.85 77.84 83.78 78.73 85.84 76.97 84.57 79.37 85.15 79.45 85.48 79.85 86 80.01 87 79.53 86.5 80.99 86.98 81.19 87.33 81.56 87.78 81.78 88.38 81.81 88.97 81.85 88.85 82.84 89.34 83 90.05 82.87 90.01 83.75 91.04 83.16 90.79 84.34 91.56 84.11 92.35 83.83 92.02 85.14 92.54 85.23 92.78 85.73 93.33 85.8 93.65 86.17 93.86 86.73 94.47 86.67 95.02 86.72 95.16 87.36 95.77 87.3 96.4 87.19 96.35 88.14 96.72 88.43 97.56 88.01 97.72 88.63 97.82 89.34 98.8 88.66 99.06 89.12 100.15 88.25 99.97 89.42 100.2 89.93 100.53 90.27 100.79 90.74 101.04 91.22 101.48 91.39 101.91 91.55 102.34 91.73 102.8 91.86 102.97 92.47 103.41 92.63 103.79 92.88 104.63 92.31 105.01 92.55 105.2 93.14 105.46 93.62 105.78 93.97 106.41 93.75 107.06 93.49 107.35 93.88 107.49 94.58 107.86 94.84 108.17 95.21 108.72 95.11 108.96 95.63 109.5 95.55 109.85 95.83 110.15 96.24 110.6 96.31 110.95 96.61 111.38 96.73 111.89 96.69 112.3 96.83 112.55 97.34 113.69 95.94 113.46 97.46 114.02 97.28 114.19 97.96 114.6 98.12 115.01 98.25 115.46 98.33 115.88 98.44 116.33 98.5 116.59 98.98 116.89 99.38 117.38 99.33 117.77 99.51 118.13 99.76 118.57 99.81 119.27 99.24 119.29 100.34 119.97 99.79 120.51 99.58 120.61 100.47 120.89 100.93 121.26 101.17 121.74 101.11 122.18 101.15 122.61 101.19 123.02 101.31 123.41 101.47 123.71 101.89 124.05 102.2 124.53 102.1 124.87 102.4 125.22 102.68 125.73 102.51 126.08 102.78 126.41 103.12 126.97 102.78 127.41 102.77 127.91 102.6 128.11 103.32 128.58 103.25 128.93 103.52 129.36 103.54 129.68 103.92 130.09 103.98 130.42 104.34 130.89 104.22 131.33 104.21 131.71 104.39 132 104.87 132.38 105.05 132.78 105.15 133.22 105.12 133.64 105.16 134.18 104.79 134.41 105.49 134.78 105.68 135.24 105.58 135.76 105.25 136.14 105.44 136.41 105.99 136.84 106.01 137.24 106.09 137.59 106.39 138 106.42 138.43 106.41 138.84 106.45 139.42 105.85 139.59 106.87 140.08 106.59 140.49 106.63 140.98 106.33 141.38 106.43 141.57 107.39 141.97 107.48 142.47 107.11 142.93 106.97 143.14 107.85 143.58 107.76 143.97 107.89 144.35 108.05 144.79 107.99 145.21 107.95 145.54 108.37 145.93 108.5 146.35 108.44 146.84 108.1 147.2 108.39 147.57 108.61 147.93 108.85 148.35 108.84 148.73 109.02 149.13 109.07 149.52 109.23 149.92 109.3 150.36 109.16 150.77 109.14 151.12 109.47 151.5 109.64 151.97 109.37 152.31 109.74 152.73 109.71 153.26 109.05 153.51 109.95 153.9 110.06 154.33 109.93 154.71 110.14 155.15 109.95 155.5 110.31 155.89 110.41 156.34 110.21 156.87 109.41 157.1 110.56 157.52 110.49 157.91 110.6 158.31 110.65 158.76 110.38 159.32 109.35 159.52 110.74 159.91 110.86 160.3 111.01 160.77 110.59 161.09 111.19 161.53 110.94 161.88 111.3 162.37 110.77 162.71 111.2 163.08 111.48 163.49 111.44 163.94 111.12 164.29 111.55 164.78 110.94 165.1 111.54 165.48 111.78 165.98 111.05 166.3 111.66 166.71 111.61 167.08 111.96 167.48 111.94 167.9 111.84 168.27 112.15 168.69 111.97 169.13 111.74 169.55 111.57 169.87 112.29 170.28 112.23 170.71 112.01 171.08 112.32 171.49 112.26 171.88 112.41 172.27 112.55 172.68 112.47 173.09 112.39 173.46 112.71 173.86 112.74 174.26 112.77 174.7 112.46 175.09 112.56 175.47 112.84 175.87 112.78 176.28 112.7 176.65 113.07 177.07 112.93 177.49 112.74 177.85 113.17 178.26 113.15 178.7 112.68 179.11 112.63 179.49 112.88 179.87 113.12 180.28 113.01 180.65 113.38 181.07 113.23 181.48 113.1 181.92 112.58 182.25 113.47 182.64 113.61 183.07 113.28 183.46 113.41 183.85 113.57 184.28 113.26 184.64 113.72 185.05 113.62 185.45 113.74 185.84 113.82 186.26 113.54 186.65 113.72 187.08 113.36 187.46 113.6 187.85 113.78 188.24 113.92 188.64 114 189.05 113.88 189.46 113.81 189.95 112.46 190.24 114.1 190.64 114.06 191.04 114.16 191.43 114.24 191.83 114.27 192.26 113.77 192.64 114.2 193.06 113.82 193.43 114.36 193.84 114.2 194.25 114.12 194.63 114.39 195.04 114.29 195.44 114.29 195.86 113.95 196.24 114.28 196.64 114.42 197.03 114.46 197.43 114.48 197.83 114.57 198.23 114.51 198.64 114.36 199.03 114.66 199.43 114.59 199.85 114.33 200.26 114.12 200.64 114.53 201.05 114.31 201.44 114.39 201.83 114.62 202.23 114.6 202.63 114.69 203.04 114.45 203.43 114.66 203.82 114.89 204.23 114.81 204.65 114.39 205.02 114.96 205.43 114.7 205.83 114.71 206.22 114.93 206.63 114.84 207.03 114.85 207.46 114.06 207.82 114.99 208.23 114.92 208.68 113.64 209.04 114.6 209.42 115.03 209.82 115.11 210.23 114.89 210.63 114.78 210.57 116.44 210.16 116.71 209.77 116.4 209.37 116.42 208.95 116.91 208.56 116.65 208.17 116.29 207.76 116.59 207.37 116.27 206.97 116.2 206.58 116.16 206.18 116.12 205.78 116.04 205.37 116.22 204.97 116.08 204.57 116.13 204.16 116.27 203.78 115.95 203.35 116.51 202.97 116.13 202.57 116.05 202.16 116.2 201.77 115.94 201.36 116.11 200.97 115.88 200.56 116.04 200.16 116.14 199.76 115.98 199.36 116.03 198.95 116.1 198.56 116.03 198.16 115.95 197.77 115.74 197.37 115.77 196.97 115.73 196.56 115.87 196.17 115.58 195.72 116.42 195.37 115.59 194.94 116.02 194.56 115.72 194.16 115.62 193.75 115.8 193.35 115.66 192.95 115.68 192.54 115.76 192.16 115.51 191.76 115.38 191.34 115.79 190.95 115.47 190.55 115.5 190.16 115.32 189.73 115.79 189.33 115.7 188.96 115.19 188.56 115.22 188.16 115.12 187.76 115.14 187.34 115.34 186.94 115.37 186.56 115.03 186.13 115.38 185.74 115.2 185.36 114.96 184.94 115.08 184.52 115.4 184.11 115.4 183.74 114.99 183.34 114.93 182.95 114.82 182.54 114.85 182.13 114.95 181.76 114.62 181.27 115.61 180.94 114.78 180.54 114.72 180.14 114.68 179.74 114.56 179.32 114.75 178.94 114.47 178.53 114.56 178.14 114.38 177.72 114.56 177.3 114.75 176.95 114.24 176.54 114.28 176.14 114.2 175.72 114.38 175.34 114.07 174.94 114.05 174.53 114.08 174.12 114.14 173.74 113.91 173.33 113.99 172.94 113.82 172.53 113.87 172.11 113.97 171.72 113.89 171.32 113.79 170.89 114.03 170.52 113.75 170.11 113.76 169.73 113.57 169.32 113.56 168.9 113.64 168.53 113.35 168.12 113.37 167.72 113.38 167.3 113.42 166.92 113.21 166.5 113.31 166.11 113.2 165.73 113 165.32 113.03 164.93 112.9 164.41 113.73 164.13 112.79 163.72 112.74 163.24 113.29 162.82 113.4 162.48 112.84 162.09 112.72 161.72 112.48 161.31 112.44 160.83 112.95 160.45 112.74 160.08 112.45 159.65 112.63 159.27 112.44 158.82 112.65 158.45 112.38 158.08 112.16 157.64 112.35 157.31 111.83 156.89 111.86 156.46 111.99 156.1 111.64 155.6 112.18 155.29 111.56 154.88 111.58 154.46 111.57 154.05 111.59 153.65 111.5 153.25 111.4 152.83 111.43 152.33 111.91 152.07 111.09 151.68 110.92 151.17 111.43 150.85 110.94 150.47 110.76 150.08 110.63 149.69 110.49 149.26 110.53 148.87 110.39 148.47 110.32 148.05 110.35 147.65 110.23 147.15 110.67 146.86 110.04 146.48 109.85 145.9 110.58 145.5 110.52 145.24 109.77 144.86 109.58 144.44 109.54 143.98 109.73 143.63 109.43 143.25 109.21 142.82 109.27 142.39 109.29 142.02 109.04 141.66 108.8 141.21 108.88 140.84 108.67 140.37 108.84 140.04 108.47 139.65 108.3 139.04 109.04 138.82 108.24 138.39 108.25 138.03 107.98 137.6 107.97 137.04 108.47 136.72 108.06 136.37 107.73 135.84 108.11 135.45 107.94 135.12 107.57 134.49 108.27 134.4 107.07 133.97 107.04 133.35 107.67 133.06 107.19 132.8 106.57 132.33 106.68 131.95 106.48 131.51 106.5 130.98 106.77 130.72 106.21 130.42 105.76 130.01 105.64 129.57 105.65 129.19 105.45 128.78 105.34 128.33 105.35 127.86 105.43 127.54 105.06 127.12 104.98 126.72 104.83 126.34 104.64 125.69 105.23 125.5 104.46 125.07 104.39 124.67 104.25 124.35 103.86 123.87 103.95 123.49 103.75 122.88 104.16 122.69 103.44 122.14 103.68 121.82 103.3 121.48 103 121.12 102.71 120.51 103.12 120.24 102.61 119.9 102.28 119.53 102.05 119.15 101.84 118.58 102.1 118.34 101.53 117.85 101.56 117.49 101.3 116.91 101.57 116.74 100.85 116.32 100.7 115.69 101.08 114.87 101.86 114.95 100.58 114.67 100.12 113.92 100.73 113.84 99.81 113.27 100 112.89 99.76 112.69 99.13 111.84 99.91 111.74 99.08 111.45 98.65 110.91 98.74 110.6 98.37 109.77 99.04 109.74 98.08 109.31 97.94 108.81 97.93 108.33 97.89 108.07 97.41 107.87 96.79 107.35 96.81 107.07 96.37 106.55 96.39 105.98 96.5 105.8 95.86 105.45 95.56 104.89 95.63 104.51 95.36 104.1 95.16 103.59 95.12 103.07 95.11 102.91 94.45 102.2 94.76 102.14 93.94 101.82 93.56 101.25 93.62 100.88 93.32 100.27 93.45 99.84 93.26 99.47 92.94 99.39 92.17 98.96 91.97 98.57 91.7 97.93 91.84 97.77 91.2 97.27 91.11 96.95 90.74 96.16 91.08 96.03 90.39 95.43 90.45 95.29 89.78 94.68 89.84 94.15 89.76 94.07 89.01 93.04 89.67 93.24 88.5 92.74 88.38 92.5 87.86 91.61 88.3 91.58 87.48 90.95 87.53 90.52 87.28 90.11 87.01 90.1 86.17 89.58 86.03 88.17 87.15 88.65 85.63 88.4 85.12 88.09 84.7 87.01 85.32 86.71 84.89 86.37 84.5 85.95 84.21 86 83.31 85.55 83.06 84.48 83.63 84.79 82.39 84.44 82.01 83.73 82.09 83.13 82.01 83.1 81.23 82.64 80.97 82.38 80.48 81.9 80.24 81.28 80.19 80.9 79.83 80.74 79.2 80.18 79.06 78.87 79.81 79.15 78.65 78.61 78.48 78.45 77.86 78.35 77.16 77.69 77.12 77.48 76.55 76.56 76.8 76.03 76.59 75.98 75.84 75.92 75.1 75.47 74.79 75.01 74.5 74.23 74.57 73.93 74.1 73.62 73.63 73.41 73.06 72.82 72.9 72.4 72.56 71.58 72.65 71.61 71.8 71.36 71.27 71.09 70.76 70.3 70.8 69.59 70.76 69.8 69.73 68.93 69.85 68.59 69.4 68.65 68.53 67.83 68.59 67.33 68.32 67.3 67.54 66.93 67.13 66.16 67.12 65.68 66.83 64.9 66.82 64.95 65.97 64.74 65.38 64.33 65 63.27 65.29 63.47 64.28 63.36 63.59 62.98 63.19 62.44 62.94 62.12 62.46 61.39 62.41 61.37 61.62 60.81 61.4 60.55 60.87 59.94 60.69 59.31 60.53 58.75 60.31 58.89 59.36 57.12 60.38 57.83 58.86 57.73 58.16 56.97 58.14 56.32 58.02 56.46 57.08 55.5 57.29 55.18 56.83 54.39 56.87 53.78 56.73 53.7 56.03 53.33 55.63 52.79 55.42 52.88 54.51 50.76 55.99 51.66 54.21 51.29 53.76 50.84 53.34 50.45 52.8 50.83 51.99 50.7 51.99 49.95 52.51 50.5 51.92 48.25 53.69 50.49 51.81 49.89 52.17 50.43 51.61 50.44 51.47 48.72 52.67 50.23 51.39 49.48 51.81 49.17 51.89 48.63 52.16 50.16 51.05 49 51.72 49.96 50.92 49.9 50.82 48.59 51.52 49.42 50.85 48.96 50.97 49.57 50.46 48.76 50.82 48.85 50.72 49.43 50.25 49.13 50.25 49.52 49.9 48.97 50.01 49.37 49.66 48.38 49.94 48 49.92 48.46 49.63 47.58 49.9 48.43 49.38 47.63 49.49 48.17 49.09 48.91 48.64 47.46 48.93 48.05 48.52 48.03 48.32 47.54 48.37 47.81 48.16 47.87 47.91 48.19 47.59 48.57 47.26 48.28 47.09 47.25 47.06 47.99 46.63 46.94 46.55 47.51 46.36 47.76 46.1 45.99 46.11 46.92 45.61 46.33 45.37 46.68 44.95 47.59 44.44 47.77 44.03 47.16 43.7 47.03 43.66 47.9 43.18 47.46 42.78 47.76 42.28 47.3 41.82 46.7 41.35 46.99 40.76 45.93 40.25 45.89 39.63Z" fill="#6b2c98" fill-opacity="1"/>
<path d="M50.39 44.12 50.75 43.75 50.48 44.26 51.01 43.67 51.3 43.42 51.07 43.87 50.77 44.38 50.41 44.97 51.05 44.24 50.37 45.14 50.44 45.16 50.74 44.89 50.93 44.77 50.52 45.4 51.1 44.79 50.82 45.25 51.04 45.09 50.74 45.54 51.38 44.78 51.2 45.11 51.03 45.43 51.55 44.92 51.66 44.89 51 45.79 53.09 43.41 51.1 45.89 51.4 45.6 52.33 44.54 51.45 45.69 52.93 44.05 51.35 46.02 51.42 46.04 51.69 45.84 51.97 45.62 52.89 44.65 52.47 45.19 52.22 45.54 52.36 45.49 51.93 46.09 52.37 45.69 52.27 45.91 52.15 46.16 52.58 45.77 53.15 45.23 52.09 46.47 52.4 46.18 52.58 46.09 52.78 45.97 52.33 46.58 52.21 46.82 53.31 45.68 52.68 46.5 52.54 46.76 52.62 46.69 53.2 46.12 52.52 47 52.72 46.87 53.13 46.52 52.88 46.9 53.02 46.85 53.84 46.04 52.98 47.1 52.97 47.12 52.97 47.22 53.72 46.49 53.09 47.29 53.89 46.51 53.68 47.15 53.64 48.01 54.68 47.68 54.64 48.54 54.84 49.13 55.85 48.85 55.57 49.96 56.22 50.06 56.68 50.38 56.73 51.13 57.61 50.99 58.53 50.82 58.33 51.83 58.56 52.38 58.66 53.07 59.29 53.21 59.79 53.47 59.91 54.15 60.57 54.24 61.06 54.51 61.12 55.24 62.06 55.03 62.39 55.48 62.39 56.27 62.67 56.76 63.51 56.65 63.45 57.52 63.98 57.75 64.77 57.67 64.86 58.38 65.67 58.27 66.1 58.6 66.69 58.74 66.3 59.98 66.75 60.27 67.68 60.02 67.83 60.66 67.95 61.32 68.88 61.07 68.56 62.24 68.99 62.54 69.32 62.97 70.02 62.96 70.17 63.59 71.59 62.74 71.57 63.56 71.5 64.45 73.07 63.4 72.33 65.08 72.5 65.69 73.13 65.74 73.64 65.93 74.46 65.75 74.39 66.64 75.06 66.63 75.11 67.38 75.38 67.86 75.73 68.24 76.97 67.51 76.51 68.89 77.18 68.86 77.33 69.49 77.97 69.5 78.37 69.81 78.6 70.33 78.88 70.79 79.31 71.06 80.5 70.31 80.09 71.68 80.58 71.86 81.33 71.69 81.21 72.67 82.06 72.36 81.99 73.29 82.44 73.51 83.67 72.66 83.67 73.49 83.85 74.07 84.08 74.59 84.37 75.02 84.93 75.09 85.21 75.52 85.54 75.9 86.17 75.85 86.34 76.45 87.23 76.02 87.58 76.36 87.88 76.77 87.98 77.47 88.66 77.32 89.22 77.35 89.48 77.82 89.82 78.17 90 78.76 90.55 78.78 90.87 79.16 91.2 79.51 91.53 79.88 92.18 79.74 92.7 79.8 92.71 80.66 93.39 80.45 93.69 80.86 94.16 80.98 94.52 81.29 94.92 81.52 95.68 81.17 95.85 81.78 95.93 82.55 96.46 82.57 97.24 82.14 97.17 83.18 97.56 83.42 98.19 83.26 98.7 83.29 98.98 83.71 99.16 84.32 99.41 84.8 100.4 83.98 100.25 85.17 100.63 85.43 101.22 85.3 101.75 85.27 101.86 86.01 102.37 86.02 102.71 86.35 103.13 86.52 103.4 86.96 104.03 86.74 104.41 86.99 104.62 87.55 105.18 87.44 105.49 87.82 105.89 88.01 106.15 88.48 106.65 88.49 107.01 88.76 108 87.75 107.92 88.92 108.17 89.4 108.85 89.03 109.03 89.67 109.4 89.91 109.81 90.08 110.16 90.37 110.78 90.08 110.91 90.85 111.42 90.79 111.78 91.06 112.3 90.98 112.7 91.15 112.98 91.58 113.37 91.77 113.7 92.12 114.11 92.27 115.13 91.02 114.87 92.69 115.32 92.74 115.78 92.77 116.14 93.03 116.7 92.82 116.98 93.26 117.52 93.08 117.68 93.84 118.26 93.55 118.47 94.17 119.04 93.9 119.26 94.51 120.05 93.69 120.23 94.4 120.55 94.75 121.13 94.45 121.33 95.11 121.72 95.27 122.09 95.49 122.61 95.33 122.91 95.74 123.34 95.81 123.89 95.57 124.03 96.41 124.43 96.54 124.91 96.47 125.27 96.72 125.76 96.61 126.21 96.6 126.56 96.86 126.99 96.93 127.35 97.16 127.69 97.46 128.17 97.38 128.53 97.63 128.82 98.09 129.21 98.24 129.75 97.96 130.05 98.38 130.53 98.26 130.82 98.72 131.38 98.37 131.69 98.74 132.13 98.74 132.46 99.09 132.83 99.31 133.32 99.13 133.74 99.2 134.07 99.55 134.39 99.92 134.8 100.01 135.19 100.14 135.67 99.99 136.04 100.22 136.41 100.43 136.8 100.56 137.17 100.79 137.59 100.82 137.98 100.98 138.66 100.12 138.82 101.05 139.3 100.87 139.71 100.95 140.15 100.92 140.38 101.62 140.81 101.62 141.33 101.28 141.6 101.86 142.1 101.58 142.48 101.76 142.79 102.22 143.33 101.78 143.59 102.42 143.99 102.49 144.37 102.68 144.78 102.73 145.22 102.68 145.55 103.06 145.94 103.17 146.35 103.22 146.89 102.76 147.22 103.13 147.58 103.38 148.05 103.19 148.43 103.38 148.79 103.62 149.18 103.76 149.54 104.01 150.12 103.32 150.34 104.19 150.81 103.95 151.17 104.22 151.6 104.16 151.93 104.55 152.35 104.57 152.78 104.49 153.22 104.42 153.56 104.77 154.02 104.55 154.34 105.02 154.84 104.61 155.26 104.58 155.57 105.09 155.93 105.36 156.32 105.48 156.78 105.28 157.17 105.39 157.52 105.74 157.96 105.6 158.34 105.78 158.72 105.97 159.11 106.05 159.55 105.94 159.95 106.02 160.33 106.19 160.7 106.4 161.2 105.93 161.52 106.45 161.94 106.41 162.39 106.21 162.7 106.73 163.15 106.56 163.51 106.81 163.9 106.95 164.43 106.26 164.74 106.87 165.12 107.05 165.57 106.81 165.89 107.31 166.34 107.12 166.7 107.41 167.13 107.3 167.52 107.42 167.94 107.35 168.3 107.64 168.7 107.69 169.16 107.41 169.49 107.91 169.91 107.82 170.29 108 170.71 107.91 171.09 108.12 171.53 107.94 171.89 108.2 172.3 108.21 172.7 108.3 173.09 108.43 173.55 108.05 173.9 108.42 174.28 108.6 174.69 108.64 175.11 108.5 175.52 108.53 175.9 108.69 176.3 108.74 176.68 108.94 177.13 108.65 177.48 109.04 177.97 108.4 178.29 109.03 178.71 108.94 179.09 109.18 179.5 109.1 179.92 108.98 180.34 108.89 180.7 109.25 181.08 109.47 181.48 109.48 181.87 109.6 182.29 109.48 182.69 109.55 183.08 109.69 183.47 109.83 183.89 109.71 184.27 109.88 184.73 109.45 185.07 110 185.52 109.56 185.88 109.97 186.28 110.01 186.72 109.67 187.09 109.97 187.48 110.1 187.87 110.26 188.29 110.11 188.7 110.1 189.09 110.17 189.49 110.27 189.88 110.31 190.26 110.54 190.69 110.3 191.07 110.59 191.46 110.71 191.9 110.38 192.26 110.8 192.69 110.5 193.06 110.81 193.49 110.58 193.86 110.9 194.26 110.98 194.66 110.99 195.06 110.96 195.47 110.89 195.86 111.09 196.3 110.68 196.68 110.95 197.06 111.17 197.48 111 197.88 111.01 198.25 111.36 198.67 111.14 199.09 111.02 199.47 111.23 199.86 111.37 200.26 111.38 200.64 111.61 201.06 111.42 201.47 111.35 201.86 111.54 202.27 111.37 202.68 111.31 203.07 111.47 203.45 111.77 203.87 111.53 204.26 111.66 204.64 111.93 205.06 111.77 205.46 111.7 205.86 111.8 206.25 111.94 206.66 111.83 207.06 111.9 207.46 111.8 207.84 112.18 208.24 112.18 208.67 111.82 209.04 112.22 209.45 112.16 209.91 111.22 210.25 112.19 210.68 111.81 210.54 113.83 210.15 113.63 209.74 113.73 209.36 113.36 208.95 113.42 208.56 113.32 208.12 113.82 207.75 113.36 207.36 113.21 206.95 113.35 206.56 113.14 206.13 113.51 205.74 113.28 205.34 113.36 204.95 113.12 204.54 113.26 204.13 113.29 203.73 113.23 203.33 113.24 202.91 113.41 202.54 113.05 202.14 113.03 201.74 112.94 201.36 112.74 200.9 113.37 200.53 112.97 200.12 113.02 199.75 112.6 199.33 112.82 198.9 113.11 198.53 112.73 198.13 112.67 197.75 112.44 197.31 112.82 196.91 112.81 196.51 112.75 196.15 112.27 195.71 112.67 195.3 112.76 194.93 112.4 194.54 112.22 194.12 112.34 193.75 112.08 193.34 112.1 192.92 112.27 192.53 112.09 192.14 111.96 191.74 111.96 191.33 111.94 190.93 111.91 190.54 111.75 190.11 112.03 189.74 111.71 189.34 111.68 188.88 112.15 188.52 111.76 188.12 111.66 187.71 111.75 187.28 111.92 186.9 111.67 186.52 111.5 186.13 111.37 185.73 111.33 185.34 111.18 184.88 111.61 184.53 111.12 184.09 111.4 183.73 111.04 183.32 111.05 182.91 111.08 182.51 111.03 182.13 110.85 181.72 110.86 181.3 110.95 180.93 110.65 180.49 110.88 180.12 110.65 179.7 110.7 179.3 110.7 178.91 110.57 178.5 110.55 178.13 110.3 177.73 110.23 177.32 110.23 176.91 110.22 176.5 110.26 176.09 110.27 175.69 110.2 175.31 109.97 174.92 109.85 174.5 109.91 174.06 110.13 173.71 109.73 173.21 110.35 172.91 109.62 172.5 109.64 172.1 109.56 171.67 109.68 171.3 109.4 170.88 109.51 170.46 109.57 169.99 109.91 169.69 109.23 169.3 109.07 168.73 110.07 168.44 109.36 168.06 109.12 167.62 109.32 167.25 109.06 166.9 108.7 166.42 109.07 166.05 108.86 165.69 108.53 165.3 108.37 164.85 108.63 164.47 108.4 164.04 108.49 163.65 108.39 163.25 108.29 162.85 108.23 162.47 108.05 162.06 108 161.68 107.81 161.26 107.88 160.87 107.71 160.46 107.71 160.06 107.59 159.69 107.37 159.26 107.45 158.78 107.78 158.41 107.55 158.05 107.27 157.57 107.57 157.28 106.95 156.87 106.88 156.47 106.8 156.03 106.92 155.58 107.06 155.2 106.91 154.86 106.52 154.43 106.59 154 106.64 153.63 106.37 153.25 106.22 152.86 106.05 152.45 106.02 152.06 105.87 151.62 105.99 151.23 105.84 150.77 105.99 150.17 106.78 149.95 105.88 149.57 105.69 149.24 105.28 148.77 105.52 148.45 105.06 148.04 105.01 147.58 105.16 147.25 104.78 146.81 104.82 146.43 104.62 146.05 104.46 145.65 104.33 145.26 104.23 144.84 104.17 144.45 104.02 144.02 104.05 143.5 104.4 143.13 104.16 142.82 103.71 142.36 103.83 141.89 104 141.46 103.99 141.11 103.68 140.83 103.12 140.2 103.86 139.99 103.03 139.54 103.1 139.21 102.72 138.77 102.75 138.32 102.83 138.03 102.33 137.62 102.25 137.15 102.36 136.8 102.05 136.27 102.39 135.91 102.11 135.43 102.27 135.18 101.63 134.8 101.44 134.33 101.54 134 101.2 133.42 101.63 133.17 101.03 132.76 100.93 132.32 100.92 131.93 100.75 131.56 100.53 131.19 100.31 130.73 100.34 130.32 100.25 129.97 99.96 129.58 99.79 129.17 99.68 128.77 99.55 128.22 99.83 127.93 99.38 127.48 99.37 127.02 99.39 126.73 98.93 126.38 98.65 125.67 99.39 125.45 98.72 125.1 98.43 124.69 98.32 124.35 98 123.97 97.78 123.5 97.83 123.05 97.8 122.62 97.72 122.32 97.3 121.75 97.6 121.47 97.12 121.12 96.84 120.76 96.57 120.16 96.92 119.73 96.83 119.09 97.27 118.95 96.44 118.65 96.02 118.22 95.93 117.82 95.77 117.33 95.81 117.13 95.16 116.7 95.06 116.16 95.22 115.49 95.68 115.38 94.81 114.96 94.69 114.61 94.39 114.1 94.47 113.82 94 113.47 93.71 112.94 93.82 112.71 93.25 112.24 93.22 111.88 92.94 111.29 93.18 110.78 93.22 110.52 92.72 110.27 92.21 109.89 91.97 109.31 92.16 108.92 91.94 108.38 92.05 108.05 91.69 107.74 91.3 107.4 90.99 106.99 90.8 106.63 90.52 106.23 90.32 105.76 90.26 105.39 89.98 104.94 89.86 104.55 89.64 104.1 89.53 103.69 89.32 103.45 88.82 102.93 88.82 102.51 88.64 102.16 88.33 101.35 88.88 101.3 88.01 100.59 88.34 100.43 87.69 100.14 87.26 99.69 87.12 99.38 86.73 98.64 87.11 98.59 86.26 98.19 86.03 97.66 86.01 97.14 85.99 96.77 85.7 96.41 85.39 96.04 85.09 95.75 84.67 95.26 84.57 94.88 84.3 94.4 84.18 93.74 84.37 93.6 83.69 93.1 83.61 92.9 83.03 92.42 82.9 92.13 82.46 91.46 82.64 91.19 82.17 90.86 81.8 90.34 81.73 90.04 81.31 89.41 81.4 89.19 80.87 88.61 80.87 88.21 80.59 87.99 80.05 87.55 79.84 87.09 79.66 86.6 79.51 86.3 79.09 86.01 78.64 85.69 78.25 85.13 78.19 84.44 78.34 84.2 77.82 83.7 77.67 83.66 76.87 82.79 77.25 82.46 76.86 82.41 76.06 81.18 76.92 81.16 76.1 80.94 75.55 80.62 75.14 80.35 74.66 79.95 74.36 78.5 75.46 79.11 73.8 78.5 73.77 78.09 73.47 77.96 72.81 77.4 72.7 77.13 72.22 76.59 72.08 76.19 71.76 75.58 71.72 75.59 70.88 75.02 70.76 74.3 70.84 74.28 70.04 73.54 70.14 73.01 69.97 73.12 69.01 72.37 69.1 72.28 68.39 71.67 68.31 71.34 67.89 70.72 67.81 70.35 67.44 69.59 67.52 69.91 66.33 69.31 66.21 68.42 66.45 68.6 65.42 68.16 65.12 67.3 65.3 67.02 64.81 67.02 63.99 66.04 64.31 66.26 63.25 65.73 63.03 65.32 62.68 64.24 63.09 64.42 62.08 64 61.74 63.56 61.42 63.21 61.01 62.75 60.7 62.44 60.24 61.73 60.21 61.31 59.86 61.09 59.3 59.7 59.99 59.93 58.95 59.71 58.37 59.59 57.7 58.43 58.14 58.72 57.03 58.11 56.88 57.6 56.62 57.53 55.89 56.59 56.09 56.61 55.27 56.12 54.99 56.07 54.23 55.3 54.26 55.23 53.53 54.4 53.61 54.19 53.03 53.5 52.98 53.16 52.55 52.82 52.11 52.86 51.27 52.41 50.96 51.82 50.8 51.55 50.3 51 50.11 50.87 49.86 50.04 50.68 50.58 49.98 49.78 50.76 50 50.43 50.83 49.5 50.5 49.76 50.31 49.88 50.66 49.38 50.09 49.92 50.1 49.81 49.11 50.83 50.24 49.45 49.52 50.19 49.27 50.44 49.8 49.75 49.99 49.44 50.23 49.06 49.75 49.5 49.8 49.35 50.1 48.91 50.02 48.9 49.7 49.19 50.01 48.82 49.79 48.97 49.2 49.55 49.33 49.29 49.56 48.92 48.95 49.54 48.48 49.97 49.66 48.51 48.37 49.96 48.17 50.15 49.47 48.53 48.76 49.26 49.36 48.46 49.17 48.59 49.39 48.23 49.24 48.31 49.1 48.37 48.87 48.6 49.25 48.1 48.81 48.52 48.29 49.05 48.87 48.26 48.92 48.1 48.43 48.59 48.02 49 48.34 48.51 48.68 48.07 48.14 48.66 48.46 48.17 48.03 48.61 48.55 47.87 48.41 47.95 48.22 48.1 47.07 49.48 46.83 49.71 48.48 47.56 48.26 47.77 47.91 48.13 48.38 47.42 48.14 47.65 48.22 47.46 47.96 47.72 47.57 48.18 47.46 48.25Z" fill="#e8892a" fill-opacity="1"/>
<path d="M49.08 52.38 48.97 58.81 49.02 64.51 49.2 69.55 49.63 74.01 49.53 77.97 50.11 81.48 49.71 84.59 50.01 87.35 50.08 89.81 50.12 91.99 50.39 93.94 50.25 95.67 50.49 97.22 50.44 98.6 50.4 99.84 50.85 100.95 50.79 101.95 50.88 102.84 51.28 103.65 51.28 104.38 51.48 105.04 51.79 105.64 51.68 106.19 51.83 106.69 51.7 107.14 52.12 107.55 52.24 107.94 52.07 108.29 52.44 108.61 52.51 108.92 52.54 109.2 52.7 109.46 53.17 109.7 52.82 109.93 52.99 110.14 53.17 110.35 53.24 110.54 53.11 110.72 53.59 110.89" stroke="#000" stroke-width="1.2" fill="none" stroke-opacity="1" stroke-linejoin="round"/>
<path d="M48.7 45.89 49.24 46.26 49.78 46.68 50.33 47.13 50.87 47.6 51.41 48.08 51.95 48.56 52.49 49.05 53.03 49.55 53.58 50.05 54.12 50.55 54.66 51.05 55.2 51.56 55.74 52.07 56.29 52.58 56.83 53.08 57.37 53.59 57.91 54.1 58.45 54.61 58.99 55.11 59.54 55.62 60.08 56.12 60.62 56.63 61.16 57.13 61.7 57.63 62.25 58.12 62.79 58.62 63.33 59.11 63.87 59.61 64.41 60.1 64.95 60.58 65.5 61.07 66.04 61.55 66.58 62.03 67.12 62.51 67.66 62.98 68.21 63.46 68.75 63.93 69.29 64.39 69.83 64.86 70.37 65.32 70.91 65.78 71.46 66.24 72 66.69 72.54 67.14 73.08 67.59 73.62 68.03 74.16 68.47 74.71 68.91 75.25 69.35 75.79 69.78 76.33 70.21 76.87 70.64 77.42 71.06 77.96 71.48 78.5 71.9 79.04 72.31 79.58 72.72 80.12 73.13 80.67 73.54 81.21 73.94 81.75 74.34 82.29 74.74 82.83 75.13 83.38 75.52 83.92 75.91 84.46 76.29 85 76.68 85.54 77.06 86.08 77.43 86.63 77.8 87.17 78.17 87.71 78.54 88.25 78.9 88.79 79.26 89.34 79.62 89.88 79.98 90.42 80.33 90.96 80.68 91.5 81.03 92.04 81.37 92.59 81.71 93.13 82.05 93.67 82.38 94.21 82.71 94.75 83.04 95.3 83.37 95.84 83.69 96.38 84.02 96.92 84.33 97.46 84.65 98 84.96 98.55 85.27 99.09 85.58 99.63 85.88 100.17 86.19 100.71 86.49 101.26 86.78 101.8 87.08 102.34 87.37 102.88 87.66 103.42 87.94 103.96 88.23 104.51 88.51 105.05 88.79 105.59 89.07 106.13 89.34 106.67 89.61 107.22 89.88 107.76 90.15 108.3 90.41 108.84 90.67 109.38 90.93 109.92 91.19 110.47 91.44 111.01 91.7 111.55 91.95 112.09 92.19 112.63 92.44 113.17 92.68 113.72 92.92 114.26 93.16 114.8 93.4 115.34 93.63 115.88 93.86 116.43 94.09 116.97 94.32 117.51 94.55 118.05 94.77 118.59 94.99 119.13 95.21 119.68 95.43 120.22 95.64 120.76 95.86 121.3 96.07 121.84 96.28 122.39 96.48 122.93 96.69 123.47 96.89 124.01 97.09 124.55 97.29 125.09 97.49 125.64 97.69 126.18 97.88 126.72 98.07 127.26 98.26 127.8 98.45 128.35 98.64 128.89 98.82 129.43 99 129.97 99.18 130.51 99.36 131.05 99.54 131.6 99.71 132.14 99.89 132.68 100.06 133.22 100.23 133.76 100.4 134.31 100.57 134.85 100.73 135.39 100.9 135.93 101.06 136.47 101.22 137.01 101.38 137.56 101.54 138.1 101.69 138.64 101.85 139.18 102 139.72 102.15 140.27 102.3 140.81 102.45 141.35 102.59 141.89 102.74 142.43 102.88 142.97 103.03 143.52 103.17 144.06 103.31 144.6 103.44 145.14 103.58 145.68 103.72 146.23 103.85 146.77 103.98 147.31 104.11 147.85 104.24 148.39 104.37 148.93 104.5 149.48 104.63 150.02 104.75 150.56 104.87 151.1 105 151.64 105.12 152.18 105.24 152.73 105.36 153.27 105.47 153.81 105.59 154.35 105.7 154.89 105.82 155.44 105.93 155.98 106.04 156.52 106.15 157.06 106.26 157.6 106.37 158.14 106.48 158.69 106.58 159.23 106.69 159.77 106.79 160.31 106.89 160.85 106.99 161.4 107.09 161.94 107.19 162.48 107.29 163.02 107.39 163.56 107.49 164.1 107.58 164.65 107.68 165.19 107.77 165.73 107.86 166.27 107.95 166.81 108.04 167.36 108.13 167.9 108.22 168.44 108.31 168.98 108.4 169.52 108.48 170.06 108.57 170.61 108.65 171.15 108.73 171.69 108.81 172.23 108.9 172.77 108.98 173.32 109.06 173.86 109.14 174.4 109.21 174.94 109.29 175.48 109.37 176.02 109.44 176.57 109.52 177.11 109.59 177.65 109.66 178.19 109.74 178.73 109.81 179.28 109.88 179.82 109.95 180.36 110.02 180.9 110.09 181.44 110.15 181.98 110.22 182.53 110.29 183.07 110.35 183.61 110.42 184.15 110.48 184.69 110.55 185.24 110.61 185.78 110.67 186.32 110.73 186.86 110.79 187.4 110.85 187.94 110.91 188.49 110.97 189.03 111.03 189.57 111.09 190.11 111.15 190.65 111.2 191.19 111.26 191.74 111.31 192.28 111.37 192.82 111.42 193.36 111.48 193.9 111.53 194.45 111.58 194.99 111.63 195.53 111.68 196.07 111.73 196.61 111.78 197.15 111.83 197.7 111.88 198.24 111.93 198.78 111.98 199.32 112.03 199.86 112.07 200.41 112.12 200.95 112.17 201.49 112.21 202.03 112.26 202.57 112.3 203.11 112.34 203.66 112.39 204.2 112.43 204.74 112.47 205.28 112.51 205.82 112.56 206.37 112.6 206.91 112.64 207.45 112.68 207.99 112.72 208.53 112.76 209.07 112.8 209.62 112.83 210.16 112.87 210.7 112.91" stroke="#111" stroke-width="1.2" fill="none" stroke-opacity="1" stroke-linejoin="round"/>
<path d="M48.7 48.92 49.24 49.17 49.78 49.5 50.33 49.88 50.87 50.28 51.41 50.71 51.95 51.15 52.49 51.6 53.03 52.07 53.58 52.55 54.12 53.03 54.66 53.53 55.2 54.03 55.74 54.53 56.29 55.04 56.83 55.56 57.37 56.08 57.91 56.6 58.45 57.12 58.99 57.65 59.54 58.17 60.08 58.7 60.62 59.23 61.16 59.76 61.7 60.29 62.25 60.82 62.79 61.35 63.33 61.88 63.87 62.41 64.41 62.94 64.95 63.47 65.5 64 66.04 64.52 66.58 65.05 67.12 65.57 67.66 66.09 68.21 66.61 68.75 67.12 69.29 67.64 69.83 68.15 70.37 68.66 70.91 69.17 71.46 69.67 72 70.17 72.54 70.67 73.08 71.17 73.62 71.66 74.16 72.15 74.71 72.64 75.25 73.12 75.79 73.61 76.33 74.08 76.87 74.56 77.42 75.03 77.96 75.5 78.5 75.97 79.04 76.43 79.58 76.89 80.12 77.34 80.67 77.79 81.21 78.24 81.75 78.69 82.29 79.13 82.83 79.57 83.38 80 83.92 80.43 84.46 80.86 85 81.29 85.54 81.71 86.08 82.12 86.63 82.54 87.17 82.95 87.71 83.35 88.25 83.75 88.79 84.15 89.34 84.55 89.88 84.94 90.42 85.33 90.96 85.71 91.5 86.09 92.04 86.47 92.59 86.85 93.13 87.22 93.67 87.58 94.21 87.95 94.75 88.31 95.3 88.66 95.84 89.01 96.38 89.36 96.92 89.71 97.46 90.05 98 90.39 98.55 90.73 99.09 91.06 99.63 91.39 100.17 91.71 100.71 92.03 101.26 92.35 101.8 92.67 102.34 92.98 102.88 93.29 103.42 93.59 103.96 93.89 104.51 94.19 105.05 94.49 105.59 94.78 106.13 95.07 106.67 95.35 107.22 95.64 107.76 95.92 108.3 96.19 108.84 96.47 109.38 96.74 109.92 97 110.47 97.27 111.01 97.53 111.55 97.79 112.09 98.04 112.63 98.29 113.17 98.54 113.72 98.79 114.26 99.03 114.8 99.28 115.34 99.51 115.88 99.75 116.43 99.98 116.97 100.21 117.51 100.44 118.05 100.66 118.59 100.88 119.13 101.1 119.68 101.32 120.22 101.53 120.76 101.74 121.3 101.95 121.84 102.16 122.39 102.36 122.93 102.56 123.47 102.76 124.01 102.96 124.55 103.15 125.09 103.34 125.64 103.53 126.18 103.72 126.72 103.91 127.26 104.09 127.8 104.27 128.35 104.44 128.89 104.62 129.43 104.79 129.97 104.96 130.51 105.13 131.05 105.3 131.6 105.46 132.14 105.63 132.68 105.79 133.22 105.95 133.76 106.1 134.31 106.26 134.85 106.41 135.39 106.56 135.93 106.71 136.47 106.85 137.01 107 137.56 107.14 138.1 107.28 138.64 107.42 139.18 107.56 139.72 107.69 140.27 107.83 140.81 107.96 141.35 108.09 141.89 108.22 142.43 108.34 142.97 108.47 143.52 108.59 144.06 108.71 144.6 108.83 145.14 108.95 145.68 109.07 146.23 109.18 146.77 109.3 147.31 109.41 147.85 109.52 148.39 109.63 148.93 109.74 149.48 109.84 150.02 109.95 150.56 110.05 151.1 110.15 151.64 110.25 152.18 110.35 152.73 110.45 153.27 110.54 153.81 110.64 154.35 110.73 154.89 110.83 155.44 110.92 155.98 111.01 156.52 111.1 157.06 111.18 157.6 111.27 158.14 111.35 158.69 111.44 159.23 111.52 159.77 111.6 160.31 111.68 160.85 111.76 161.4 111.84 161.94 111.92 162.48 111.99 163.02 112.07 163.56 112.14 164.1 112.21 164.65 112.28 165.19 112.35 165.73 112.42 166.27 112.49 166.81 112.56 167.36 112.63 167.9 112.69 168.44 112.76 168.98 112.82 169.52 112.88 170.06 112.94 170.61 113.01 171.15 113.07 171.69 113.12 172.23 113.18 172.77 113.24 173.32 113.3 173.86 113.35 174.4 113.41 174.94 113.46 175.48 113.52 176.02 113.57 176.57 113.62 177.11 113.67 177.65 113.72 178.19 113.77 178.73 113.82 179.28 113.87 179.82 113.92 180.36 113.96 180.9 114.01 181.44 114.05 181.98 114.1 182.53 114.14 183.07 114.19 183.61 114.23 184.15 114.27 184.69 114.31 185.24 114.35 185.78 114.39 186.32 114.43 186.86 114.47 187.4 114.51 187.94 114.55 188.49 114.58 189.03 114.62 189.57 114.66 190.11 114.69 190.65 114.73 191.19 114.76 191.74 114.8 192.28 114.83 192.82 114.86 193.36 114.89 193.9 114.93 194.45 114.96 194.99 114.99 195.53 115.02 196.07 115.05 196.61 115.08 197.15 115.11 197.7 115.14 198.24 115.16 198.78 115.19 199.32 115.22 199.86 115.25 200.41 115.27 200.95 115.3 201.49 115.33 202.03 115.35 202.57 115.38 203.11 115.4 203.66 115.42 204.2 115.45 204.74 115.47 205.28 115.49 205.82 115.52 206.37 115.54 206.91 115.56 207.45 115.58 207.99 115.6 208.53 115.62 209.07 115.65 209.62 115.67 210.16 115.69 210.7 115.7" stroke="#23236e" stroke-width="1.2" fill="none" stroke-opacity="1" stroke-linejoin="round"/>
<path d="M48.7 51.93 49.24 52.14 49.78 52.45 50.33 52.81 50.87 53.19 51.41 53.61 51.95 54.05 52.49 54.51 53.03 54.98 53.58 55.46 54.12 55.96 54.66 56.47 55.2 56.99 55.74 57.52 56.29 58.05 56.83 58.59 57.37 59.13 57.91 59.68 58.45 60.24 58.99 60.79 59.54 61.35 60.08 61.92 60.62 62.48 61.16 63.05 61.7 63.62 62.25 64.18 62.79 64.75 63.33 65.32 63.87 65.89 64.41 66.46 64.95 67.03 65.5 67.59 66.04 68.16 66.58 68.72 67.12 69.29 67.66 69.85 68.21 70.41 68.75 70.96 69.29 71.52 69.83 72.07 70.37 72.62 70.91 73.16 71.46 73.71 72 74.25 72.54 74.79 73.08 75.32 73.62 75.85 74.16 76.38 74.71 76.9 75.25 77.42 75.79 77.94 76.33 78.45 76.87 78.96 77.42 79.46 77.96 79.96 78.5 80.46 79.04 80.95 79.58 81.44 80.12 81.92 80.67 82.4 81.21 82.88 81.75 83.35 82.29 83.82 82.83 84.28 83.38 84.74 83.92 85.19 84.46 85.64 85 86.09 85.54 86.53 86.08 86.97 86.63 87.4 87.17 87.83 87.71 88.25 88.25 88.67 88.79 89.08 89.34 89.49 89.88 89.9 90.42 90.3 90.96 90.69 91.5 91.09 92.04 91.47 92.59 91.86 93.13 92.24 93.67 92.61 94.21 92.98 94.75 93.35 95.3 93.71 95.84 94.06 96.38 94.42 96.92 94.76 97.46 95.11 98 95.45 98.55 95.78 99.09 96.12 99.63 96.44 100.17 96.77 100.71 97.08 101.26 97.4 101.8 97.71 102.34 98.02 102.88 98.32 103.42 98.62 103.96 98.91 104.51 99.21 105.05 99.49 105.59 99.78 106.13 100.06 106.67 100.33 107.22 100.6 107.76 100.87 108.3 101.14 108.84 101.4 109.38 101.65 109.92 101.91 110.47 102.16 111.01 102.4 111.55 102.65 112.09 102.89 112.63 103.12 113.17 103.36 113.72 103.59 114.26 103.81 114.8 104.04 115.34 104.25 115.88 104.47 116.43 104.68 116.97 104.89 117.51 105.1 118.05 105.31 118.59 105.51 119.13 105.7 119.68 105.9 120.22 106.09 120.76 106.28 121.3 106.47 121.84 106.65 122.39 106.83 122.93 107.01 123.47 107.18 124.01 107.36 124.55 107.53 125.09 107.69 125.64 107.86 126.18 108.02 126.72 108.18 127.26 108.34 127.8 108.49 128.35 108.64 128.89 108.79 129.43 108.94 129.97 109.08 130.51 109.23 131.05 109.37 131.6 109.5 132.14 109.64 132.68 109.77 133.22 109.9 133.76 110.03 134.31 110.16 134.85 110.29 135.39 110.41 135.93 110.53 136.47 110.65 137.01 110.77 137.56 110.88 138.1 110.99 138.64 111.1 139.18 111.21 139.72 111.32 140.27 111.43 140.81 111.53 141.35 111.63 141.89 111.73 142.43 111.83 142.97 111.93 143.52 112.02 144.06 112.12 144.6 112.21 145.14 112.3 145.68 112.39 146.23 112.48 146.77 112.56 147.31 112.65 147.85 112.73 148.39 112.81 148.93 112.89 149.48 112.97 150.02 113.05 150.56 113.12 151.1 113.2 151.64 113.27 152.18 113.34 152.73 113.42 153.27 113.48 153.81 113.55 154.35 113.62 154.89 113.69 155.44 113.75 155.98 113.81 156.52 113.88 157.06 113.94 157.6 114 158.14 114.06 158.69 114.11 159.23 114.17 159.77 114.23 160.31 114.28 160.85 114.34 161.4 114.39 161.94 114.44 162.48 114.49 163.02 114.54 163.56 114.59 164.1 114.64 164.65 114.69 165.19 114.73 165.73 114.78 166.27 114.82 166.81 114.87 167.36 114.91 167.9 114.95 168.44 114.99 168.98 115.03 169.52 115.07 170.06 115.11 170.61 115.15 171.15 115.19 171.69 115.23 172.23 115.26 172.77 115.3 173.32 115.33 173.86 115.37 174.4 115.4 174.94 115.43 175.48 115.47 176.02 115.5 176.57 115.53 177.11 115.56 177.65 115.59 178.19 115.62 178.73 115.65 179.28 115.68 179.82 115.7 180.36 115.73 180.9 115.76 181.44 115.78 181.98 115.81 182.53 115.83 183.07 115.86 183.61 115.88 184.15 115.91 184.69 115.93 185.24 115.95 185.78 115.97 186.32 116 186.86 116.02 187.4 116.04 187.94 116.06 188.49 116.08 189.03 116.1 189.57 116.12 190.11 116.14 190.65 116.16 191.19 116.17 191.74 116.19 192.28 116.21 192.82 116.23 193.36 116.24 193.9 116.26 194.45 116.28 194.99 116.29 195.53 116.31 196.07 116.32 196.61 116.34 197.15 116.35 197.7 116.37 198.24 116.38 198.78 116.39 199.32 116.41 199.86 116.42 200.41 116.43 200.95 116.45 201.49 116.46 202.03 116.47 202.57 116.48 203.11 116.49 203.66 116.5 204.2 116.52 204.74 116.53 205.28 116.54 205.82 116.55 206.37 116.56 206.91 116.57 207.45 116.58 207.99 116.59 208.53 116.6 209.07 116.61 209.62 116.61 210.16 116.62 210.7 116.63" stroke="#23236e" stroke-width="1.2" fill="none" stroke-opacity="1" stroke-linejoin="round"/>
<path d="M48.7 73.6 49.24 73.71 49.78 73.89 50.33 74.11 50.87 74.35 51.41 74.62 51.95 74.91 52.49 75.22 53.03 75.54 53.58 75.87 54.12 76.22 54.66 76.57 55.2 76.94 55.74 77.31 56.29 77.7 56.83 78.09 57.37 78.48 57.91 78.88 58.45 79.29 58.99 79.7 59.54 80.11 60.08 80.53 60.62 80.95 61.16 81.38 61.7 81.8 62.25 82.23 62.79 82.66 63.33 83.09 63.87 83.52 64.41 83.96 64.95 84.39 65.5 84.82 66.04 85.25 66.58 85.68 67.12 86.11 67.66 86.54 68.21 86.97 68.75 87.4 69.29 87.83 69.83 88.25 70.37 88.68 70.91 89.1 71.46 89.52 72 89.93 72.54 90.35 73.08 90.76 73.62 91.17 74.16 91.57 74.71 91.98 75.25 92.38 75.79 92.78 76.33 93.17 76.87 93.56 77.42 93.95 77.96 94.33 78.5 94.72 79.04 95.09 79.58 95.47 80.12 95.84 80.67 96.21 81.21 96.57 81.75 96.93 82.29 97.29 82.83 97.64 83.38 97.99 83.92 98.33 84.46 98.67 85 99.01 85.54 99.34 86.08 99.67 86.63 100 87.17 100.32 87.71 100.64 88.25 100.95 88.79 101.26 89.34 101.56 89.88 101.87 90.42 102.16 90.96 102.46 91.5 102.75 92.04 103.03 92.59 103.31 93.13 103.59 93.67 103.87 94.21 104.14 94.75 104.4 95.3 104.67 95.84 104.92 96.38 105.18 96.92 105.43 97.46 105.68 98 105.92 98.55 106.16 99.09 106.4 99.63 106.63 100.17 106.86 100.71 107.09 101.26 107.31 101.8 107.53 102.34 107.74 102.88 107.95 103.42 108.16 103.96 108.36 104.51 108.56 105.05 108.76 105.59 108.96 106.13 109.15 106.67 109.34 107.22 109.52 107.76 109.7 108.3 109.88 108.84 110.06 109.38 110.23 109.92 110.4 110.47 110.56 111.01 110.73 111.55 110.89 112.09 111.05 112.63 111.2 113.17 111.35 113.72 111.5 114.26 111.65 114.8 111.79 115.34 111.93 115.88 112.07 116.43 112.21 116.97 112.34 117.51 112.47 118.05 112.6 118.59 112.72 119.13 112.85 119.68 112.97 120.22 113.09 120.76 113.2 121.3 113.32 121.84 113.43 122.39 113.54 122.93 113.64 123.47 113.75 124.01 113.85 124.55 113.95 125.09 114.05 125.64 114.15 126.18 114.25 126.72 114.34 127.26 114.43 127.8 114.52 128.35 114.61 128.89 114.69 129.43 114.78 129.97 114.86 130.51 114.94 131.05 115.02 131.6 115.09 132.14 115.17 132.68 115.24 133.22 115.32 133.76 115.39 134.31 115.46 134.85 115.52 135.39 115.59 135.93 115.66 136.47 115.72 137.01 115.78 137.56 115.84 138.1 115.9 138.64 115.96 139.18 116.02 139.72 116.07 140.27 116.13 140.81 116.18 141.35 116.23 141.89 116.28 142.43 116.33 142.97 116.38 143.52 116.43 144.06 116.47 144.6 116.52 145.14 116.56 145.68 116.61 146.23 116.65 146.77 116.69 147.31 116.73 147.85 116.77 148.39 116.81 148.93 116.85 149.48 116.88 150.02 116.92 150.56 116.95 151.1 116.99 151.64 117.02 152.18 117.05 152.73 117.08 153.27 117.12 153.81 117.15 154.35 117.18 154.89 117.2 155.44 117.23 155.98 117.26 156.52 117.29 157.06 117.31 157.6 117.34 158.14 117.36 158.69 117.39 159.23 117.41 159.77 117.43 160.31 117.46 160.85 117.48 161.4 117.5 161.94 117.52 162.48 117.54 163.02 117.56 163.56 117.58 164.1 117.6 164.65 117.62 165.19 117.64 165.73 117.65 166.27 117.67 166.81 117.69 167.36 117.7 167.9 117.72 168.44 117.74 168.98 117.75 169.52 117.77 170.06 117.78 170.61 117.79 171.15 117.81 171.69 117.82 172.23 117.83 172.77 117.85 173.32 117.86 173.86 117.87 174.4 117.88 174.94 117.89 175.48 117.9 176.02 117.91 176.57 117.93 177.11 117.94 177.65 117.95 178.19 117.95 178.73 117.96 179.28 117.97 179.82 117.98 180.36 117.99 180.9 118 181.44 118.01 181.98 118.02 182.53 118.02 183.07 118.03 183.61 118.04 184.15 118.05 184.69 118.05 185.24 118.06 185.78 118.07 186.32 118.07 186.86 118.08 187.4 118.08 187.94 118.09 188.49 118.1 189.03 118.1 189.57 118.11 190.11 118.11 190.65 118.12 191.19 118.12 191.74 118.13 192.28 118.13 192.82 118.14 193.36 118.14 193.9 118.15 194.45 118.15 194.99 118.15 195.53 118.16 196.07 118.16 196.61 118.17 197.15 118.17 197.7 118.17 198.24 118.18 198.78 118.18 199.32 118.18 199.86 118.19 200.41 118.19 200.95 118.19 201.49 118.19 202.03 118.2 202.57 118.2 203.11 118.2 203.66 118.21 204.2 118.21 204.74 118.21 205.28 118.21 205.82 118.22 206.37 118.22 206.91 118.22 207.45 118.22 207.99 118.22 208.53 118.23 209.07 118.23 209.62 118.23 210.16 118.23 210.7 118.23" stroke="#111" stroke-width="1.2" fill="none" stroke-opacity="1" stroke-linejoin="round"/>
<path d="M48.7 79.66 49.24 79.77 49.78 79.93 50.33 80.13 50.87 80.36 51.41 80.61 51.95 80.87 52.49 81.15 53.03 81.44 53.58 81.74 54.12 82.05 54.66 82.37 55.2 82.7 55.74 83.03 56.29 83.37 56.83 83.72 57.37 84.07 57.91 84.43 58.45 84.79 58.99 85.15 59.54 85.52 60.08 85.89 60.62 86.26 61.16 86.63 61.7 87.01 62.25 87.38 62.79 87.76 63.33 88.14 63.87 88.52 64.41 88.9 64.95 89.27 65.5 89.65 66.04 90.03 66.58 90.41 67.12 90.78 67.66 91.16 68.21 91.53 68.75 91.9 69.29 92.27 69.83 92.64 70.37 93.01 70.91 93.37 71.46 93.74 72 94.1 72.54 94.46 73.08 94.81 73.62 95.17 74.16 95.52 74.71 95.87 75.25 96.21 75.79 96.56 76.33 96.9 76.87 97.23 77.42 97.57 77.96 97.9 78.5 98.23 79.04 98.55 79.58 98.88 80.12 99.2 80.67 99.51 81.21 99.82 81.75 100.13 82.29 100.44 82.83 100.74 83.38 101.04 83.92 101.34 84.46 101.63 85 101.92 85.54 102.2 86.08 102.48 86.63 102.76 87.17 103.04 87.71 103.31 88.25 103.58 88.79 103.84 89.34 104.11 89.88 104.36 90.42 104.62 90.96 104.87 91.5 105.12 92.04 105.36 92.59 105.6 93.13 105.84 93.67 106.07 94.21 106.3 94.75 106.53 95.3 106.76 95.84 106.98 96.38 107.19 96.92 107.41 97.46 107.62 98 107.83 98.55 108.03 99.09 108.23 99.63 108.43 100.17 108.63 100.71 108.82 101.26 109.01 101.8 109.2 102.34 109.38 102.88 109.56 103.42 109.74 103.96 109.91 104.51 110.08 105.05 110.25 105.59 110.42 106.13 110.58 106.67 110.74 107.22 110.9 107.76 111.05 108.3 111.21 108.84 111.35 109.38 111.5 109.92 111.65 110.47 111.79 111.01 111.93 111.55 112.06 112.09 112.2 112.63 112.33 113.17 112.46 113.72 112.59 114.26 112.71 114.8 112.83 115.34 112.95 115.88 113.07 116.43 113.19 116.97 113.3 117.51 113.41 118.05 113.52 118.59 113.63 119.13 113.74 119.68 113.84 120.22 113.94 120.76 114.04 121.3 114.14 121.84 114.23 122.39 114.33 122.93 114.42 123.47 114.51 124.01 114.6 124.55 114.68 125.09 114.77 125.64 114.85 126.18 114.93 126.72 115.01 127.26 115.09 127.8 115.17 128.35 115.24 128.89 115.32 129.43 115.39 129.97 115.46 130.51 115.53 131.05 115.59 131.6 115.66 132.14 115.73 132.68 115.79 133.22 115.85 133.76 115.91 134.31 115.97 134.85 116.03 135.39 116.09 135.93 116.14 136.47 116.2 137.01 116.25 137.56 116.3 138.1 116.35 138.64 116.4 139.18 116.45 139.72 116.5 140.27 116.55 140.81 116.59 141.35 116.64 141.89 116.68 142.43 116.73 142.97 116.77 143.52 116.81 144.06 116.85 144.6 116.89 145.14 116.93 145.68 116.96 146.23 117 146.77 117.04 147.31 117.07 147.85 117.1 148.39 117.14 148.93 117.17 149.48 117.2 150.02 117.23 150.56 117.26 151.1 117.29 151.64 117.32 152.18 117.35 152.73 117.38 153.27 117.41 153.81 117.43 154.35 117.46 154.89 117.48 155.44 117.51 155.98 117.53 156.52 117.55 157.06 117.58 157.6 117.6 158.14 117.62 158.69 117.64 159.23 117.66 159.77 117.68 160.31 117.7 160.85 117.72 161.4 117.74 161.94 117.76 162.48 117.78 163.02 117.8 163.56 117.81 164.1 117.83 164.65 117.85 165.19 117.86 165.73 117.88 166.27 117.89 166.81 117.91 167.36 117.92 167.9 117.94 168.44 117.95 168.98 117.96 169.52 117.97 170.06 117.99 170.61 118 171.15 118.01 171.69 118.02 172.23 118.04 172.77 118.05 173.32 118.06 173.86 118.07 174.4 118.08 174.94 118.09 175.48 118.1 176.02 118.11 176.57 118.12 177.11 118.13 177.65 118.13 178.19 118.14 178.73 118.15 179.28 118.16 179.82 118.17 180.36 118.18 180.9 118.18 181.44 118.19 181.98 118.2 182.53 118.2 183.07 118.21 183.61 118.22 184.15 118.22 184.69 118.23 185.24 118.24 185.78 118.24 186.32 118.25 186.86 118.25 187.4 118.26 187.94 118.26 188.49 118.27 189.03 118.27 189.57 118.28 190.11 118.28 190.65 118.29 191.19 118.29 191.74 118.3 192.28 118.3 192.82 118.31 193.36 118.31 193.9 118.31 194.45 118.32 194.99 118.32 195.53 118.33 196.07 118.33 196.61 118.33 197.15 118.34 197.7 118.34 198.24 118.34 198.78 118.35 199.32 118.35 199.86 118.35 200.41 118.35 200.95 118.36 201.49 118.36 202.03 118.36 202.57 118.37 203.11 118.37 203.66 118.37 204.2 118.37 204.74 118.37 205.28 118.38 205.82 118.38 206.37 118.38 206.91 118.38 207.45 118.38 207.99 118.39 208.53 118.39 209.07 118.39 209.62 118.39 210.16 118.39 210.7 118.4" stroke="#23236e" stroke-width="1.2" fill="none" stroke-opacity="1" stroke-linejoin="round"/>
<path d="M48.7 84.34 49.24 84.75 49.78 85.17 50.33 85.61 50.87 86.05 51.41 86.48 51.95 86.92 52.49 87.35 53.03 87.78 53.58 88.21 54.12 88.63 54.66 89.05 55.2 89.46 55.74 89.88 56.29 90.28 56.83 90.69 57.37 91.09 57.91 91.48 58.45 91.87 58.99 92.26 59.54 92.64 60.08 93.01 60.62 93.39 61.16 93.75 61.7 94.12 62.25 94.48 62.79 94.83 63.33 95.18 63.87 95.53 64.41 95.87 64.95 96.21 65.5 96.54 66.04 96.87 66.58 97.19 67.12 97.51 67.66 97.83 68.21 98.14 68.75 98.45 69.29 98.75 69.83 99.05 70.37 99.34 70.91 99.63 71.46 99.92 72 100.21 72.54 100.49 73.08 100.76 73.62 101.03 74.16 101.3 74.71 101.57 75.25 101.83 75.79 102.08 76.33 102.34 76.87 102.59 77.42 102.84 77.96 103.08 78.5 103.32 79.04 103.56 79.58 103.79 80.12 104.02 80.67 104.25 81.21 104.47 81.75 104.69 82.29 104.91 82.83 105.12 83.38 105.33 83.92 105.54 84.46 105.75 85 105.95 85.54 106.15 86.08 106.34 86.63 106.54 87.17 106.73 87.71 106.92 88.25 107.1 88.79 107.29 89.34 107.47 89.88 107.64 90.42 107.82 90.96 107.99 91.5 108.16 92.04 108.33 92.59 108.49 93.13 108.66 93.67 108.82 94.21 108.97 94.75 109.13 95.3 109.28 95.84 109.43 96.38 109.58 96.92 109.73 97.46 109.87 98 110.02 98.55 110.16 99.09 110.29 99.63 110.43 100.17 110.56 100.71 110.7 101.26 110.83 101.8 110.95 102.34 111.08 102.88 111.21 103.42 111.33 103.96 111.45 104.51 111.57 105.05 111.68 105.59 111.8 106.13 111.91 106.67 112.03 107.22 112.14 107.76 112.25 108.3 112.35 108.84 112.46 109.38 112.56 109.92 112.66 110.47 112.77 111.01 112.86 111.55 112.96 112.09 113.06 112.63 113.15 113.17 113.25 113.72 113.34 114.26 113.43 114.8 113.52 115.34 113.61 115.88 113.69 116.43 113.78 116.97 113.86 117.51 113.95 118.05 114.03 118.59 114.11 119.13 114.19 119.68 114.26 120.22 114.34 120.76 114.42 121.3 114.49 121.84 114.56 122.39 114.64 122.93 114.71 123.47 114.78 124.01 114.85 124.55 114.91 125.09 114.98 125.64 115.05 126.18 115.11 126.72 115.17 127.26 115.24 127.8 115.3 128.35 115.36 128.89 115.42 129.43 115.48 129.97 115.54 130.51 115.59 131.05 115.65 131.6 115.71 132.14 115.76 132.68 115.81 133.22 115.87 133.76 115.92 134.31 115.97 134.85 116.02 135.39 116.07 135.93 116.12 136.47 116.17 137.01 116.22 137.56 116.26 138.1 116.31 138.64 116.35 139.18 116.4 139.72 116.44 140.27 116.49 140.81 116.53 141.35 116.57 141.89 116.61 142.43 116.65 142.97 116.69 143.52 116.73 144.06 116.77 144.6 116.81 145.14 116.85 145.68 116.88 146.23 116.92 146.77 116.96 147.31 116.99 147.85 117.03 148.39 117.06 148.93 117.09 149.48 117.13 150.02 117.16 150.56 117.19 151.1 117.22 151.64 117.26 152.18 117.29 152.73 117.32 153.27 117.35 153.81 117.37 154.35 117.4 154.89 117.43 155.44 117.46 155.98 117.49 156.52 117.51 157.06 117.54 157.6 117.57 158.14 117.59 158.69 117.62 159.23 117.64 159.77 117.67 160.31 117.69 160.85 117.72 161.4 117.74 161.94 117.76 162.48 117.79 163.02 117.81 163.56 117.83 164.1 117.85 164.65 117.87 165.19 117.89 165.73 117.91 166.27 117.93 166.81 117.95 167.36 117.97 167.9 117.99 168.44 118.01 168.98 118.03 169.52 118.05 170.06 118.07 170.61 118.09 171.15 118.1 171.69 118.12 172.23 118.14 172.77 118.16 173.32 118.17 173.86 118.19 174.4 118.2 174.94 118.22 175.48 118.24 176.02 118.25 176.57 118.27 177.11 118.28 177.65 118.3 178.19 118.31 178.73 118.32 179.28 118.34 179.82 118.35 180.36 118.36 180.9 118.38 181.44 118.39 181.98 118.4 182.53 118.42 183.07 118.43 183.61 118.44 184.15 118.45 184.69 118.47 185.24 118.48 185.78 118.49 186.32 118.5 186.86 118.51 187.4 118.52 187.94 118.53 188.49 118.54 189.03 118.55 189.57 118.56 190.11 118.57 190.65 118.58 191.19 118.59 191.74 118.6 192.28 118.61 192.82 118.62 193.36 118.63 193.9 118.64 194.45 118.65 194.99 118.66 195.53 118.67 196.07 118.67 196.61 118.68 197.15 118.69 197.7 118.7 198.24 118.71 198.78 118.71 199.32 118.72 199.86 118.73 200.41 118.74 200.95 118.74 201.49 118.75 202.03 118.76 202.57 118.77 203.11 118.77 203.66 118.78 204.2 118.79 204.74 118.79 205.28 118.8 205.82 118.81 206.37 118.81 206.91 118.82 207.45 118.82 207.99 118.83 208.53 118.84 209.07 118.84 209.62 118.85 210.16 118.85 210.7 118.86" stroke="#111" stroke-width="1.2" fill="none" stroke-opacity="1" stroke-linejoin="round"/>
</g>
<rect x="48.7" y="32.3" width="162" height="99.2" fill="none" stroke="#1a1a1a" stroke-width="1.1"/>
<path d="M48.5 131.5v-3.2M48.5 32.3v3.2M64.5 131.5v-1.8M64.5 32.3v1.8M81.5 131.5v-3.2M81.5 32.3v3.2M97.5 131.5v-1.8M97.5 32.3v1.8M113.5 131.5v-3.2M113.5 32.3v3.2M129.5 131.5v-1.8M129.5 32.3v1.8M145.5 131.5v-3.2M145.5 32.3v3.2M162.5 131.5v-1.8M162.5 32.3v1.8M178.5 131.5v-3.2M178.5 32.3v3.2M194.5 131.5v-1.8M194.5 32.3v1.8M210.5 131.5v-3.2M210.5 32.3v3.2M48.7 120.5h3.2M210.7 120.5h-3.2M48.7 108.5h1.8M210.7 108.5h-1.8M48.7 96.5h3.2M210.7 96.5h-3.2M48.7 85.5h1.8M210.7 85.5h-1.8M48.7 74.5h3.2M210.7 74.5h-3.2M48.7 62.5h1.8M210.7 62.5h-1.8M48.7 50.5h3.2M210.7 50.5h-3.2M48.7 39.5h1.8M210.7 39.5h-1.8" stroke="#1a1a1a" stroke-width="0.9" fill="none"/>
<text transform="translate(48.7 143.8) scale(1 1.08)" font-size="11" text-anchor="middle" >0.0</text>
<text transform="translate(81.1 143.8) scale(1 1.08)" font-size="11" text-anchor="middle" >0.1</text>
<text transform="translate(113.5 143.8) scale(1 1.08)" font-size="11" text-anchor="middle" >0.2</text>
<text transform="translate(145.9 143.8) scale(1 1.08)" font-size="11" text-anchor="middle" >0.3</text>
<text transform="translate(178.3 143.8) scale(1 1.08)" font-size="11" text-anchor="middle" >0.4</text>
<text transform="translate(210.7 143.8) scale(1 1.08)" font-size="11" text-anchor="middle" >0.5</text>
<text transform="translate(129.7 157.8) scale(1 1.08)" font-size="11" text-anchor="middle" >time (s)</text>
<text transform="translate(39.9,82) rotate(-90)" font-size="11.3" text-anchor="middle">Light Scattering</text>
<text transform="translate(110.9 85.4) scale(1 1.08)" font-size="8.5" text-anchor="start" >[ADP] = 25 μM</text>
<text transform="translate(64.8 128.1) scale(1 1.08)" font-size="8.5" text-anchor="start" >[ADP] = 0 μM</text>
<path d="M270 77.51 270.81 77.76 271.62 78.02 272.43 78.27 273.25 78.52 274.06 78.76 274.87 79.01 275.68 79.25 276.49 79.49 277.3 79.73 278.12 79.97 278.93 80.2 279.74 80.43 280.55 80.66 281.36 80.89 282.17 81.12 282.98 81.35 283.8 81.57 284.61 81.79 285.42 82.01 286.23 82.23 287.04 82.45 287.85 82.66 288.67 82.88 289.48 83.09 290.29 83.3 291.1 83.51 291.91 83.72 292.72 83.92 293.54 84.12 294.35 84.33 295.16 84.53 295.97 84.72 296.78 84.92 297.59 85.12 298.4 85.31 299.22 85.5 300.03 85.69 300.84 85.88 301.65 86.07 302.46 86.26 303.27 86.44 304.09 86.63 304.9 86.81 305.71 86.99 306.52 87.17 307.33 87.35 308.14 87.52 308.95 87.7 309.77 87.87 310.58 88.04 311.39 88.21 312.2 88.38 313.01 88.55 313.82 88.72 314.64 88.88 315.45 89.05 316.26 89.21 317.07 89.37 317.88 89.53 318.69 89.69 319.51 89.85 320.32 90 321.13 90.16 321.94 90.31 322.75 90.47 323.56 90.62 324.37 90.77 325.19 90.92 326 91.06 326.81 91.21 327.62 91.36 328.43 91.5 329.24 91.64 330.06 91.79 330.87 91.93 331.68 92.07 332.49 92.21 333.3 92.34 334.11 92.48 334.92 92.62 335.74 92.75 336.55 92.88 337.36 93.02 338.17 93.15 338.98 93.28 339.79 93.41 340.61 93.53 341.42 93.66 342.23 93.79 343.04 93.91 343.85 94.04 344.66 94.16 345.47 94.28 346.29 94.4 347.1 94.52 347.91 94.64 348.72 94.76 349.53 94.88 350.34 94.99 351.16 95.11 351.97 95.22 352.78 95.34 353.59 95.45 354.4 95.56 355.21 95.67 356.03 95.78 356.84 95.89 357.65 96 358.46 96.11 359.27 96.22 360.08 96.32 360.89 96.43 361.71 96.53 362.52 96.63 363.33 96.74 364.14 96.84 364.95 96.94 365.76 97.04 366.58 97.14 367.39 97.24 368.2 97.33 369.01 97.43 369.82 97.53 370.63 97.62 371.44 97.72 372.26 97.81 373.07 97.9 373.88 98 374.69 98.09 375.5 98.18 376.31 98.27 377.13 98.36 377.94 98.45 378.75 98.53 379.56 98.62 380.37 98.71 381.18 98.79 381.99 98.88 382.81 98.96 383.62 99.05 384.43 99.13 385.24 99.21 386.05 99.3 386.86 99.38 387.68 99.46 388.49 99.54 389.3 99.62 390.11 99.7 390.92 99.77 391.73 99.85 392.55 99.93 393.36 100 394.17 100.08 394.98 100.16 395.79 100.23 396.6 100.3 397.41 100.38 398.23 100.45 399.04 100.52 399.85 100.59 400.66 100.66 401.47 100.73 402.28 100.8 403.1 100.87 403.91 100.94 404.72 101.01 405.53 101.08 406.34 101.15 407.15 101.21 407.96 101.28 408.78 101.34 409.59 101.41 410.4 101.47 411.21 101.54 412.02 101.6 412.83 101.66 413.65 101.73 414.46 101.79 415.27 101.85 416.08 101.91 416.89 101.97 417.7 102.03 418.52 102.09 419.33 102.15 420.14 102.21 420.95 102.27 421.76 102.32 422.57 102.38 423.38 102.44 424.2 102.49 425.01 102.55 425.82 102.61 426.63 102.66 427.44 102.71 428.25 102.77 429.07 102.82 429.88 102.88 430.69 102.93 431.5 102.98" stroke="#111" stroke-width="1.1" fill="none" stroke-opacity="1" stroke-linejoin="round"/>
<path d="M267.6 79.16L270 77.29L272.4 79.16L270 81.03Z" fill="#111"/>
<path d="M267 79.16H273" stroke="#111" stroke-width="1.1"/>
<path d="M267.9 82.13L270.3 80.26L272.7 82.13L270.3 84Z" fill="#111"/>
<path d="M267.3 82.13H273.3" stroke="#111" stroke-width="1.1"/>
<path d="M268.2 80.48L270.6 78.61L273 80.48L270.6 82.35Z" fill="#111"/>
<path d="M267.6 80.48H273.6" stroke="#111" stroke-width="1.1"/>
<path d="M268.8 78.83L271.2 76.96L273.6 78.83L271.2 80.7Z" fill="#111"/>
<path d="M268.2 78.83H274.2" stroke="#111" stroke-width="1.1"/>
<path d="M269.39 77.84L271.79 75.97L274.19 77.84L271.79 79.71Z" fill="#111"/>
<path d="M268.79 77.84H274.79" stroke="#111" stroke-width="1.1"/>
<path d="M270.59 75.86L272.99 73.99L275.39 75.86L272.99 77.73Z" fill="#111"/>
<path d="M269.99 75.86H275.99" stroke="#111" stroke-width="1.1"/>
<path d="M277.17 78.5L279.57 76.63L281.97 78.5L279.57 80.37Z" fill="#111"/>
<path d="M276.57 78.5H282.57" stroke="#111" stroke-width="1.1"/>
<path d="M282.55 81.8L284.95 79.93L287.35 81.8L284.95 83.67Z" fill="#111"/>
<path d="M281.95 81.8H287.95" stroke="#111" stroke-width="1.1"/>
<path d="M314.55 87.08L316.95 85.21L319.35 87.08L316.95 88.95Z" fill="#111"/>
<path d="M313.95 87.08H319.95" stroke="#111" stroke-width="1.1"/>
<path d="M361.51 96.65L363.91 94.78L366.31 96.65L363.91 98.52Z" fill="#111"/>
<path d="M360.91 96.65H366.91" stroke="#111" stroke-width="1.1"/>
<path d="M417.14 100.94L419.54 99.07L421.94 100.94L419.54 102.81Z" fill="#111"/>
<path d="M416.54 100.94H422.54" stroke="#111" stroke-width="1.1"/>
<rect x="270" y="32.3" width="161.5" height="99" fill="none" stroke="#1a1a1a" stroke-width="1.1"/>
<path d="M270.5 131.3v-3.2M270.5 32.3v3.2M284.5 131.3v-1.8M284.5 32.3v1.8M299.5 131.3v-3.2M299.5 32.3v3.2M314.5 131.3v-1.8M314.5 32.3v1.8M329.5 131.3v-3.2M329.5 32.3v3.2M344.5 131.3v-1.8M344.5 32.3v1.8M359.5 131.3v-3.2M359.5 32.3v3.2M374.5 131.3v-1.8M374.5 32.3v1.8M389.5 131.3v-3.2M389.5 32.3v3.2M404.5 131.3v-1.8M404.5 32.3v1.8M419.5 131.3v-3.2M419.5 32.3v3.2M270 124.5h1.8M431.5 124.5h-1.8M270 118.5h3.2M431.5 118.5h-3.2M270 111.5h1.8M431.5 111.5h-1.8M270 104.5h3.2M431.5 104.5h-3.2M270 98.5h1.8M431.5 98.5h-1.8M270 91.5h3.2M431.5 91.5h-3.2M270 85.5h1.8M431.5 85.5h-1.8M270 78.5h3.2M431.5 78.5h-3.2M270 71.5h1.8M431.5 71.5h-1.8M270 65.5h3.2M431.5 65.5h-3.2M270 58.5h1.8M431.5 58.5h-1.8M270 52.5h3.2M431.5 52.5h-3.2M270 45.5h1.8M431.5 45.5h-1.8M270 38.5h3.2M431.5 38.5h-3.2" stroke="#1a1a1a" stroke-width="0.9" fill="none"/>
<text transform="translate(267.5 135.3) scale(1 1.08)" font-size="11" text-anchor="end" >0</text>
<text transform="translate(267.5 122.1) scale(1 1.08)" font-size="11" text-anchor="end" >2</text>
<text transform="translate(267.5 108.9) scale(1 1.08)" font-size="11" text-anchor="end" >4</text>
<text transform="translate(267.5 95.7) scale(1 1.08)" font-size="11" text-anchor="end" >6</text>
<text transform="translate(267.5 82.5) scale(1 1.08)" font-size="11" text-anchor="end" >8</text>
<text transform="translate(267.5 69.3) scale(1 1.08)" font-size="11" text-anchor="end" >10</text>
<text transform="translate(267.5 56.1) scale(1 1.08)" font-size="11" text-anchor="end" >12</text>
<text transform="translate(267.5 42.9) scale(1 1.08)" font-size="11" text-anchor="end" >14</text>
<text transform="translate(270 143.8) scale(1 1.08)" font-size="11" text-anchor="middle" >0</text>
<text transform="translate(299.91 143.8) scale(1 1.08)" font-size="11" text-anchor="middle" >5</text>
<text transform="translate(329.81 143.8) scale(1 1.08)" font-size="11" text-anchor="middle" >10</text>
<text transform="translate(359.72 143.8) scale(1 1.08)" font-size="11" text-anchor="middle" >15</text>
<text transform="translate(389.63 143.8) scale(1 1.08)" font-size="11" text-anchor="middle" >20</text>
<text transform="translate(419.54 143.8) scale(1 1.08)" font-size="11" text-anchor="middle" >25</text>
<text transform="translate(350.7 157.8) scale(1 1.08)" font-size="11" text-anchor="middle" >[ADP] μM</text>
<text transform="translate(249,82) rotate(-90)" font-size="11" text-anchor="middle"><tspan font-style="italic">k</tspan><tspan font-size="6.8" dy="3.3">obs, slow</tspan><tspan dy="-3.3"> (s</tspan><tspan font-size="6.5" dy="-4.5">-1</tspan><tspan dy="4.5">)</tspan></text>
<path d="M491 131.3 491.03 128.86 491.05 126.57 491.08 124.41 491.1 122.37 491.13 120.43 491.15 118.6 491.18 116.87 491.2 115.22 491.23 113.64 491.25 112.15 491.28 110.72 491.3 109.36 491.33 108.06 491.35 106.81 491.38 105.62 491.4 104.48 491.43 103.38 491.45 102.33 491.48 101.32 491.5 100.34 491.53 99.41 491.55 98.51 491.58 97.64 491.6 96.8 491.63 95.99 491.65 95.21 491.68 94.46 491.7 93.73 491.73 93.02 491.75 92.34 491.78 91.68 491.81 91.04 491.83 90.42 491.86 89.82 491.88 89.23 491.91 88.67 491.93 88.12 491.96 87.58 491.98 87.06 492.01 86.56 492.03 86.06 492.06 85.59 492.08 85.12 492.11 84.67 492.13 84.23 492.16 83.8 492.18 83.38 492.21 82.97 492.23 82.57 492.26 82.18 492.28 81.8 492.31 81.43 492.33 81.07 492.36 80.71 492.38 80.37 492.41 80.03 492.43 79.7 492.46 79.38 492.48 79.06 492.51 78.75 492.53 78.45 492.56 78.16 492.59 77.87 492.61 77.58 492.64 77.31 492.66 77.03 492.69 76.77 492.71 76.51 492.74 76.25 492.76 76 492.79 75.75 492.81 75.51 492.84 75.27 492.86 75.04 492.89 74.81 492.91 74.59 492.94 74.37 492.96 74.15 492.99 73.94 493.01 73.73 493.04 73.53 493.06 73.33 493.09 73.13 493.11 72.94 493.14 72.75 493.16 72.56 493.19 72.38 493.21 72.2 493.24 72.02 493.26 71.84 493.29 71.67 493.32 71.5 493.34 71.33 493.37 71.17 493.39 71.01 493.42 70.85 493.44 70.69 493.47 70.54 493.49 70.38 493.52 70.24 493.54 70.09 493.57 69.94 493.59 69.8 493.62 69.66 493.64 69.52 493.67 69.38 493.69 69.25 493.72 69.12 493.74 68.98 493.77 68.85 493.79 68.73 493.82 68.6 493.84 68.48 493.87 68.36 493.89 68.23 493.92 68.12 493.94 68 493.97 67.88 493.99 67.77 493.99 67.77 494.79 64.79 495.59 62.7 496.39 61.14 497.18 59.94 497.98 58.99 498.78 58.21 499.58 57.57 500.37 57.02 501.17 56.56 501.97 56.15 502.77 55.8 503.56 55.49 504.36 55.22 505.16 54.97 505.96 54.75 506.75 54.55 507.55 54.37 508.35 54.21 509.15 54.06 509.94 53.92 510.74 53.79 511.54 53.67 512.34 53.56 513.13 53.46 513.93 53.36 514.73 53.27 515.53 53.19 516.32 53.11 517.12 53.04 517.92 52.97 518.72 52.9 519.51 52.84 520.31 52.78 521.11 52.72 521.91 52.67 522.7 52.62 523.5 52.57 524.3 52.53 525.1 52.48 525.9 52.44 526.69 52.4 527.49 52.36 528.29 52.33 529.09 52.29 529.88 52.26 530.68 52.23 531.48 52.2 532.28 52.17 533.07 52.14 533.87 52.11 534.67 52.08 535.47 52.06 536.26 52.03 537.06 52.01 537.86 51.98 538.66 51.96 539.45 51.94 540.25 51.92 541.05 51.9 541.85 51.88 542.64 51.86 543.44 51.84 544.24 51.82 545.04 51.8 545.83 51.79 546.63 51.77 547.43 51.75 548.23 51.74 549.02 51.72 549.82 51.71 550.62 51.69 551.42 51.68 552.21 51.67 553.01 51.65 553.81 51.64 554.61 51.63 555.4 51.62 556.2 51.6 557 51.59 557.8 51.58 558.59 51.57 559.39 51.56 560.19 51.55 560.99 51.54 561.78 51.53 562.58 51.52 563.38 51.51 564.18 51.5 564.97 51.49 565.77 51.48 566.57 51.47 567.37 51.46 568.16 51.45 568.96 51.44 569.76 51.43 570.56 51.43 571.35 51.42 572.15 51.41 572.95 51.4 573.75 51.4 574.54 51.39 575.34 51.38 576.14 51.37 576.94 51.37 577.73 51.36 578.53 51.35 579.33 51.35 580.13 51.34 580.92 51.33 581.72 51.33 582.52 51.32 583.32 51.32 584.11 51.31 584.91 51.3 585.71 51.3 586.51 51.29 587.3 51.29 588.1 51.28 588.9 51.28 589.7 51.27 590.49 51.27 591.29 51.26 592.09 51.26 592.89 51.25 593.68 51.25 594.48 51.24 595.28 51.24 596.08 51.23 596.87 51.23 597.67 51.22 598.47 51.22 599.27 51.21 600.06 51.21 600.86 51.2 601.66 51.2 602.46 51.2 603.25 51.19 604.05 51.19 604.85 51.18 605.65 51.18 606.44 51.18 607.24 51.17 608.04 51.17 608.84 51.16 609.63 51.16 610.43 51.16 611.23 51.15 612.03 51.15 612.82 51.15 613.62 51.14 614.42 51.14 615.22 51.14 616.01 51.13 616.81 51.13 617.61 51.13 618.41 51.12 619.2 51.12 620 51.12 620.8 51.11 621.6 51.11 622.39 51.11 623.19 51.11 623.99 51.1 624.79 51.1 625.58 51.1 626.38 51.09 627.18 51.09 627.98 51.09 628.77 51.09 629.57 51.08 630.37 51.08 631.17 51.08 631.96 51.08 632.76 51.07 633.56 51.07 634.36 51.07 635.15 51.07 635.95 51.06 636.75 51.06 637.55 51.06 638.34 51.06 639.14 51.05 639.94 51.05 640.74 51.05 641.53 51.05 642.33 51.04 643.13 51.04 643.93 51.04 644.72 51.04 645.52 51.03 646.32 51.03 647.12 51.03 647.91 51.03 648.71 51.03 649.51 51.02 650.31 51.02 651.1 51.02 651.9 51.02 652.7 51.02" stroke="#111" stroke-width="1.1" fill="none" stroke-opacity="1" stroke-linejoin="round"/>
<path d="M488.6 131.3L491 129.43L493.4 131.3L491 133.17Z" fill="#111"/>
<path d="M488 131.3H494" stroke="#111" stroke-width="1.1"/>
<path d="M489.2 95L491.6 93.13L494 95L491.6 96.87Z" fill="#111"/>
<path d="M488.6 95H494.6" stroke="#111" stroke-width="1.1"/>
<path d="M489.8 84.28L492.2 82.4L494.6 84.28L492.2 86.15Z" fill="#111"/>
<path d="M489.2 84.28H495.2" stroke="#111" stroke-width="1.1"/>
<path d="M490.1 74.38L492.5 72.5L494.9 74.38L492.5 76.25Z" fill="#111"/>
<path d="M489.5 74.38H495.5" stroke="#111" stroke-width="1.1"/>
<path d="M491 70.25L493.4 68.38L495.8 70.25L493.4 72.12Z" fill="#111"/>
<path d="M490.4 70.25H496.4" stroke="#111" stroke-width="1.1"/>
<path d="M496.98 51.27L499.38 49.4L501.78 51.27L499.38 53.15Z" fill="#111"/>
<path d="M496.38 51.27H502.38" stroke="#111" stroke-width="1.1"/>
<path d="M503.57 49.62L505.97 47.75L508.37 49.62L505.97 51.5Z" fill="#111"/>
<path d="M502.97 49.62H508.97" stroke="#111" stroke-width="1.1"/>
<path d="M535.61 48.8L538.01 46.93L540.41 48.8L538.01 50.67Z" fill="#111"/>
<path d="M535.01 48.8H541.01" stroke="#111" stroke-width="1.1"/>
<path d="M582.63 52.51L585.03 50.64L587.43 52.51L585.03 54.38Z" fill="#111"/>
<path d="M582.03 52.51H588.03" stroke="#111" stroke-width="1.1"/>
<path d="M638.32 55.4L640.72 53.53L643.12 55.4L640.72 57.27Z" fill="#111"/>
<path d="M637.72 55.4H643.72" stroke="#111" stroke-width="1.1"/>
<rect x="491" y="32.3" width="161.7" height="99" fill="none" stroke="#1a1a1a" stroke-width="1.1"/>
<path d="M490.5 131.3v-3.2M490.5 32.3v3.2M505.5 131.3v-1.8M505.5 32.3v1.8M520.5 131.3v-3.2M520.5 32.3v3.2M535.5 131.3v-1.8M535.5 32.3v1.8M550.5 131.3v-3.2M550.5 32.3v3.2M565.5 131.3v-1.8M565.5 32.3v1.8M580.5 131.3v-3.2M580.5 32.3v3.2M595.5 131.3v-1.8M595.5 32.3v1.8M610.5 131.3v-3.2M610.5 32.3v3.2M625.5 131.3v-1.8M625.5 32.3v1.8M640.5 131.3v-3.2M640.5 32.3v3.2M491 123.5h1.8M652.7 123.5h-1.8M491 114.5h3.2M652.7 114.5h-3.2M491 106.5h1.8M652.7 106.5h-1.8M491 98.5h3.2M652.7 98.5h-3.2M491 90.5h1.8M652.7 90.5h-1.8M491 81.5h3.2M652.7 81.5h-3.2M491 73.5h1.8M652.7 73.5h-1.8M491 65.5h3.2M652.7 65.5h-3.2M491 57.5h1.8M652.7 57.5h-1.8M491 48.5h3.2M652.7 48.5h-3.2M491 40.5h1.8M652.7 40.5h-1.8" stroke="#1a1a1a" stroke-width="0.9" fill="none"/>
<text transform="translate(488.3 135.3) scale(1 1.08)" font-size="11" text-anchor="end" >0.0</text>
<text transform="translate(488.3 118.8) scale(1 1.08)" font-size="11" text-anchor="end" >0.2</text>
<text transform="translate(488.3 102.3) scale(1 1.08)" font-size="11" text-anchor="end" >0.4</text>
<text transform="translate(488.3 85.8) scale(1 1.08)" font-size="11" text-anchor="end" >0.6</text>
<text transform="translate(488.3 69.3) scale(1 1.08)" font-size="11" text-anchor="end" >0.8</text>
<text transform="translate(488.3 52.8) scale(1 1.08)" font-size="11" text-anchor="end" >1.0</text>
<text transform="translate(488.3 36.3) scale(1 1.08)" font-size="11" text-anchor="end" >1.2</text>
<text transform="translate(491 143.8) scale(1 1.08)" font-size="11" text-anchor="middle" >0</text>
<text transform="translate(520.94 143.8) scale(1 1.08)" font-size="11" text-anchor="middle" >5</text>
<text transform="translate(550.89 143.8) scale(1 1.08)" font-size="11" text-anchor="middle" >10</text>
<text transform="translate(580.83 143.8) scale(1 1.08)" font-size="11" text-anchor="middle" >15</text>
<text transform="translate(610.78 143.8) scale(1 1.08)" font-size="11" text-anchor="middle" >20</text>
<text transform="translate(640.72 143.8) scale(1 1.08)" font-size="11" text-anchor="middle" >25</text>
<text transform="translate(571.9 157.8) scale(1 1.08)" font-size="11" text-anchor="middle" >[ADP] μM</text>
<text transform="translate(467.9,82.3) rotate(-90)" font-size="11" text-anchor="middle">Normalized A<tspan font-size="6.8" dy="3">slow</tspan></text>
<path d="M48.5 312.3 49.31 309.25 50.13 306.42 50.94 303.81 51.75 301.37 52.57 299.11 53.38 296.99 54.19 295.01 55.01 293.15 55.82 291.41 56.64 289.76 57.45 288.21 58.26 286.74 59.08 285.35 59.89 284.04 60.7 282.79 61.52 281.6 62.33 280.47 63.14 279.4 63.96 278.37 64.77 277.39 65.58 276.45 66.4 275.56 67.21 274.7 68.03 273.87 68.84 273.08 69.65 272.33 70.47 271.6 71.28 270.9 72.09 270.22 72.91 269.57 73.72 268.94 74.53 268.34 75.35 267.76 76.16 267.19 76.97 266.65 77.79 266.12 78.6 265.62 79.42 265.12 80.23 264.65 81.04 264.18 81.86 263.74 82.67 263.3 83.48 262.88 84.3 262.47 85.11 262.07 85.92 261.69 86.74 261.31 87.55 260.95 88.36 260.59 89.18 260.25 89.99 259.91 90.81 259.58 91.62 259.26 92.43 258.95 93.25 258.65 94.06 258.35 94.87 258.07 95.69 257.79 96.5 257.51 97.31 257.24 98.13 256.98 98.94 256.73 99.75 256.48 100.57 256.23 101.38 255.99 102.2 255.76 103.01 255.53 103.82 255.31 104.64 255.09 105.45 254.88 106.26 254.67 107.08 254.46 107.89 254.26 108.7 254.06 109.52 253.87 110.33 253.68 111.14 253.5 111.96 253.32 112.77 253.14 113.59 252.96 114.4 252.79 115.21 252.62 116.03 252.46 116.84 252.3 117.65 252.14 118.47 251.98 119.28 251.83 120.09 251.68 120.91 251.53 121.72 251.38 122.53 251.24 123.35 251.1 124.16 250.96 124.98 250.83 125.79 250.69 126.6 250.56 127.42 250.43 128.23 250.31 129.04 250.18 129.86 250.06 130.67 249.94 131.48 249.82 132.3 249.7 133.11 249.59 133.92 249.47 134.74 249.36 135.55 249.25 136.37 249.14 137.18 249.04 137.99 248.93 138.81 248.83 139.62 248.73 140.43 248.63 141.25 248.53 142.06 248.43 142.87 248.33 143.69 248.24 144.5 248.14 145.31 248.05 146.13 247.96 146.94 247.87 147.76 247.78 148.57 247.7 149.38 247.61 150.2 247.52 151.01 247.44 151.82 247.36 152.64 247.28 153.45 247.2 154.26 247.12 155.08 247.04 155.89 246.96 156.7 246.88 157.52 246.81 158.33 246.73 159.15 246.66 159.96 246.59 160.77 246.51 161.59 246.44 162.4 246.37 163.21 246.3 164.03 246.24 164.84 246.17 165.65 246.1 166.47 246.03 167.28 245.97 168.09 245.91 168.91 245.84 169.72 245.78 170.54 245.72 171.35 245.65 172.16 245.59 172.98 245.53 173.79 245.47 174.6 245.41 175.42 245.36 176.23 245.3 177.04 245.24 177.86 245.19 178.67 245.13 179.48 245.07 180.3 245.02 181.11 244.97 181.93 244.91 182.74 244.86 183.55 244.81 184.37 244.76 185.18 244.71 185.99 244.65 186.81 244.6 187.62 244.55 188.43 244.51 189.25 244.46 190.06 244.41 190.87 244.36 191.69 244.31 192.5 244.27 193.32 244.22 194.13 244.18 194.94 244.13 195.76 244.09 196.57 244.04 197.38 244 198.2 243.95 199.01 243.91 199.82 243.87 200.64 243.82 201.45 243.78 202.26 243.74 203.08 243.7 203.89 243.66 204.71 243.62 205.52 243.58 206.33 243.54 207.15 243.5 207.96 243.46 208.77 243.42 209.59 243.38 210.4 243.35" stroke="#111" stroke-width="1.1" fill="none" stroke-opacity="1" stroke-linejoin="round"/>
<path d="M46.1 312.3L48.5 310.43L50.9 312.3L48.5 314.17Z" fill="#111"/>
<path d="M45.5 312.3H51.5" stroke="#111" stroke-width="1.1"/>
<path d="M50.37 297.12L52.77 295.25L55.17 297.12L52.77 298.99Z" fill="#111"/>
<path d="M49.77 297.12H55.77" stroke="#111" stroke-width="1.1"/>
<path d="M55.67 285.41L58.07 283.53L60.47 285.41L58.07 287.28Z" fill="#111"/>
<path d="M55.07 285.41H61.07" stroke="#111" stroke-width="1.1"/>
<path d="M64.79 275.75L67.19 273.88L69.59 275.75L67.19 277.62Z" fill="#111"/>
<path d="M64.19 275.75H70.19" stroke="#111" stroke-width="1.1"/>
<path d="M82.9 262.8L85.3 260.93L87.7 262.8L85.3 264.67Z" fill="#111"/>
<path d="M82.3 262.8H88.3" stroke="#111" stroke-width="1.1"/>
<path d="M101.73 256.2L104.13 254.33L106.53 256.2L104.13 258.07Z" fill="#111"/>
<path d="M101.13 256.2H107.13" stroke="#111" stroke-width="1.1"/>
<path d="M120.13 251.66L122.53 249.79L124.93 251.66L122.53 253.53Z" fill="#111"/>
<path d="M119.53 251.66H125.53" stroke="#111" stroke-width="1.1"/>
<path d="M157.96 245.48L160.36 243.6L162.76 245.48L160.36 247.35Z" fill="#111"/>
<path d="M157.36 245.48H163.36" stroke="#111" stroke-width="1.1"/>
<path d="M193.28 237.23L195.68 235.35L198.08 237.23L195.68 239.1Z" fill="#111"/>
<path d="M192.68 237.23H198.68" stroke="#111" stroke-width="1.1"/>
<rect x="48.5" y="213.3" width="161.9" height="99" fill="none" stroke="#1a1a1a" stroke-width="1.1"/>
<path d="M48.5 312.3v-3.2M48.5 213.3v3.2M63.5 312.3v-1.8M63.5 213.3v1.8M77.5 312.3v-3.2M77.5 213.3v3.2M92.5 312.3v-1.8M92.5 213.3v1.8M107.5 312.3v-3.2M107.5 213.3v3.2M122.5 312.3v-1.8M122.5 213.3v1.8M136.5 312.3v-3.2M136.5 213.3v3.2M151.5 312.3v-1.8M151.5 213.3v1.8M166.5 312.3v-3.2M166.5 213.3v3.2M180.5 312.3v-1.8M180.5 213.3v1.8M195.5 312.3v-3.2M195.5 213.3v3.2M210.5 312.3v-1.8M210.5 213.3v1.8M48.5 304.5h1.8M210.4 304.5h-1.8M48.5 295.5h3.2M210.4 295.5h-3.2M48.5 287.5h1.8M210.4 287.5h-1.8M48.5 279.5h3.2M210.4 279.5h-3.2M48.5 271.5h1.8M210.4 271.5h-1.8M48.5 262.5h3.2M210.4 262.5h-3.2M48.5 254.5h1.8M210.4 254.5h-1.8M48.5 246.5h3.2M210.4 246.5h-3.2M48.5 238.5h1.8M210.4 238.5h-1.8M48.5 229.5h3.2M210.4 229.5h-3.2M48.5 221.5h1.8M210.4 221.5h-1.8" stroke="#1a1a1a" stroke-width="0.9" fill="none"/>
<text transform="translate(46 316.3) scale(1 1.08)" font-size="11" text-anchor="end" >0</text>
<text transform="translate(46 299.8) scale(1 1.08)" font-size="11" text-anchor="end" >2</text>
<text transform="translate(46 283.3) scale(1 1.08)" font-size="11" text-anchor="end" >4</text>
<text transform="translate(46 266.8) scale(1 1.08)" font-size="11" text-anchor="end" >6</text>
<text transform="translate(46 250.3) scale(1 1.08)" font-size="11" text-anchor="end" >8</text>
<text transform="translate(46 233.8) scale(1 1.08)" font-size="11" text-anchor="end" >10</text>
<text transform="translate(46 217.3) scale(1 1.08)" font-size="11" text-anchor="end" >12</text>
<text transform="translate(48.5 324.9) scale(1 1.08)" font-size="11" text-anchor="middle" >0.0</text>
<text transform="translate(77.94 324.9) scale(1 1.08)" font-size="11" text-anchor="middle" >0.2</text>
<text transform="translate(107.37 324.9) scale(1 1.08)" font-size="11" text-anchor="middle" >0.4</text>
<text transform="translate(136.81 324.9) scale(1 1.08)" font-size="11" text-anchor="middle" >0.6</text>
<text transform="translate(166.25 324.9) scale(1 1.08)" font-size="11" text-anchor="middle" >0.8</text>
<text transform="translate(195.68 324.9) scale(1 1.08)" font-size="11" text-anchor="middle" >1.0</text>
<text transform="translate(129.5 338.9) scale(1 1.08)" font-size="11" text-anchor="middle" >[ATP] mM</text>
<text transform="translate(27.7,263) rotate(-90)" font-size="11" text-anchor="middle"><tspan font-style="italic">k</tspan><tspan font-size="6.8" dy="3.3">obs, slow</tspan><tspan dy="-3.3"> (s</tspan><tspan font-size="6.5" dy="-4.5">-1</tspan><tspan dy="4.5">)</tspan></text>
<g clip-path="url(#cE)">
<path d="M270.39 219.65 270.48 217.85 270.48 220.37 270.56 218.82 270.58 220.26 270.69 217.41 270.65 221.64 270.72 220.75 270.76 221.31 270.78 220.66 270.84 220.18 270.9 219.61 271.01 216.45 270.99 220.01 271.04 220.28 271.1 219.53 271.12 221.26 271.3 214 271.2 219.85 271.27 218.67 271.31 219.61 271.36 219.3 271.39 220.53 271.41 221.72 271.5 220.07 271.63 216.11 271.64 217.09 271.57 221.6 271.71 217.39 271.69 220.67 271.78 218.82 271.78 221.48 271.9 218.13 271.88 221.33 271.97 219.4 272 219.38 272 220.34 272.05 220.47 272.09 220.97 272.13 221.54 272.22 219.48 272.42 212.53 272.4 216.02 272.38 219.11 272.45 216.77 272.41 220.42 272.46 220.54 272.5 220.93 272.54 221.31 272.61 220.61 272.64 221.63 272.76 218.34 272.78 219.84 272.78 220.04 272.95 213.93 272.89 219.41 272.9 221.44 272.97 220.11 273.03 219.99 273.08 219.71 273.1 221.2 273.16 220.99 273.15 221.38 273.26 218.73 273.26 221.19 273.32 220.37 273.35 221.68 273.61 218.55 274.07 215.65 274.39 219.51 274.77 220.84 275.28 215.49 275.61 218.76 275.99 219.7 276.44 217.29 276.77 220.91 277.15 221.91 277.58 220.28 277.96 221.09 278.41 218.79 278.77 220.91 279.19 219.68 279.6 219.15 280.02 218.52 280.36 221.33 280.81 218.62 281.17 221.01 281.63 217.7 281.97 220.88 282.35 221.66 282.74 222.08 283.22 218.49 283.55 221.99 283.98 220.51 284.37 220.72 284.79 219.73 285.19 219.88 285.56 221.36 286.03 218.05 286.35 221.79 286.75 221.77 287.16 221.64 287.59 219.96 287.97 221.03 288.35 221.99 288.75 221.96 289.14 222.47 289.58 220.42 289.94 222.36 290.38 220.4 290.77 220.86 291.15 222.13 291.54 222.41 291.96 221.51 292.35 222.02 292.76 221.76 293.16 221.39 293.55 222.05 293.99 220.24 294.34 222.4 294.76 221.73 295.14 222.51 295.56 221.49 296 219.65 296.38 220.4 296.77 221.27 297.14 222.63 297.54 222.55 297.99 220.28 298.34 222.44 298.75 222 299.17 221.2 299.54 222.8 299.95 221.95 300.41 219.2 300.75 222.26 301.15 222.22 301.55 221.98 301.99 220.13 302.34 222.73 302.74 222.51 303.14 222.57 303.62 218.83 303.94 222.67 304.33 223.07 304.79 220.45 305.15 222.28 305.55 222.45 305.95 222.18 306.33 223.22 306.77 221.17 307.21 219.38 307.53 223.22 307.96 222.01 308.36 221.68 308.75 222.42 309.14 222.76 309.53 223.38 309.95 222.21 310.34 223.04 310.77 221.65 311.15 222.41 311.57 221.19 311.94 222.7 312.34 222.95 312.73 223.52 313.15 222.43 313.55 222.41 313.94 223.06 314.36 222.08 314.74 223.19 315.19 220.44 315.54 222.84 315.96 221.83 316.35 222.31 316.73 223.43 317.17 221.73 317.57 221.75 317.98 221.11 318.36 222.24 318.76 222.23 319.18 221.26 319.56 222.14 319.94 223.11 320.36 222.18 320.76 222.1 321.15 222.54 321.54 223.27 321.93 223.63 322.36 222.03 322.74 223.1 323.14 223.36 323.53 223.75 323.93 223.53 324.32 223.91 324.77 221.71 325.24 218.21 325.54 223.22 325.93 223.82 326.37 221.94 326.73 223.55 327.15 222.91 327.53 223.51 327.95 222.63 328.32 224.02 328.72 224 329.12 224.08 329.53 223.79 329.95 222.93 330.34 223.23 330.81 219.71 331.14 223.2 331.55 223.06 331.93 223.75 332.32 224.08 332.76 222.33 333.12 224.13 333.52 224.15 333.93 223.96 334.34 223.3 334.73 223.91 335.13 224.01 335.54 223.37 335.97 222.01 336.36 222.54 336.75 222.7 337.13 223.79 337.52 224.21 337.92 224.17 338.36 222.59 338.76 222.54 339.17 222.21 339.53 223.96 339.95 223.14 340.36 222.55 340.74 223.56 341.13 223.89 341.54 223.6 341.93 223.83 342.34 223.5 342.72 224.46 343.12 224.37 343.55 223.23 343.97 221.98 344.33 224.26 344.75 223.24 345.16 222.73 345.53 223.86 345.93 223.87 346.34 223.6 346.76 222.7 347.13 224.01 347.53 223.94 347.92 224.52 348.33 224.27 348.76 222.66 349.17 222.06 349.56 222.81 349.93 224.1 350.33 224.25 350.73 224.23 351.12 224.53 351.55 223.38 352.02 220 352.34 223.88 352.74 223.85 353.14 223.79 353.52 224.77 353.93 224.45 354.34 223.86 354.73 224.06 355.14 223.6 355.54 223.78 355.92 224.58 356.33 224.07 356.76 222.85 357.13 224.29 357.52 224.57 357.93 224.47 358.33 224.27 358.74 223.73 359.14 223.73 359.53 224.45 359.92 224.85 360.33 224.27 360.72 224.95 361.21 220.63 361.52 224.8 361.93 224.62 362.32 224.74 362.72 225 363.23 219.79 363.52 224.79 363.92 224.95 364.4 221.13 364.72 224.91 365.15 223.36 365.53 224.33 365.96 223.25 366.33 224.49 366.72 224.8 367.14 223.84 367.53 224.53 367.93 224.51 368.32 224.79 368.72 225.04 369.14 224.19 369.53 224.6 369.93 224.52 370.32 224.94 370.72 225.23 371.13 224.51 371.52 225.06 371.93 224.83 372.35 223.72 372.74 224.32 373.13 224.58 373.54 223.98 373.93 224.88 374.33 224.63 374.73 224.54 375.13 224.66 375.53 224.7 375.92 225.13 376.32 224.96 376.72 225.11 377.14 224.11 377.54 224 377.94 224.3 378.35 223.9 378.74 224.07 379.13 224.73 379.54 224.5 379.94 224.52 380.32 225.16 380.72 225.16 381.12 225.16 381.54 224.28 381.94 224.49 382.35 223.79 382.72 225.43 383.14 224.5 383.54 224.57 383.93 224.81 384.32 225.5 384.72 225.19 385.13 224.81 385.53 224.77 385.94 224.25 386.33 225 386.74 224.37 387.13 224.89 387.53 225.14 387.93 224.73 388.35 224.17 388.73 224.89 389.12 225.32 389.53 224.91 389.92 225.54 390.37 223.07 390.72 225.35 391.12 225.28 391.54 224.43 391.93 225.13 392.34 224.63 392.74 224.76 393.14 224.79 393.53 224.92 393.93 225.18 394.34 224.75 394.72 225.37 395.13 225.04 395.52 225.55 395.93 224.95 396.33 225.26 396.73 225.34 397.13 225.12 397.53 225.23 397.93 225.37 398.34 224.81 398.72 225.67 399.15 224.24 399.53 225.37 399.92 225.62 400.34 224.62 400.73 225.39 401.13 225.14 401.53 225.06 401.92 225.59 402.32 225.78 402.73 225.35 403.12 225.63 403.54 224.87 403.92 225.74 404.33 225.06 404.76 223.9 405.13 225.07 405.52 225.84 405.92 225.69 406.36 223.93 406.72 226.01 407.12 225.85 407.52 226 407.92 226.02 408.34 224.85 408.73 225.3 409.13 225.39 409.53 225.63 409.94 224.95 410.33 225.31 410.73 225.33 411.13 225.36 411.54 225.11 411.95 224.51 412.33 225.21 412.72 225.77 413.12 225.84 413.55 224.61 413.93 225.45 414.33 225.3 414.72 225.76 415.12 226.05 415.55 224.66 415.92 225.84 416.32 225.95 416.72 226.05 417.12 225.84 417.56 224.26 417.94 225.09 418.34 225.02 418.72 226.16 419.15 224.85 419.53 225.42 419.92 225.96 420.34 225.06 420.74 225.23 421.12 225.89 421.53 225.71 421.97 223.77 422.32 225.97 422.73 225.86 423.14 225.11 423.54 225.29 423.92 226.22 424.32 226.38 424.74 225.16 425.12 226.25 425.52 226.13 425.93 225.83 426.34 225.29 426.72 226.38 427.11 226.51 427.52 226.2 427.93 225.83 428.33 225.81 428.73 225.95 429.16 224.24 429.54 225.27 429.93 225.73 430.32 226.18 430.72 226.21 431.14 225.44 431.08 228.03 430.69 228.01 430.28 228.5 429.87 228.76 429.48 228.38 429.08 228.12 428.68 228.04 428.26 229.38 427.88 228.09 427.48 228.3 427.08 228.1 426.67 228.69 426.28 228.25 425.87 228.77 425.48 228.06 425.06 229 424.67 228.47 424.26 229.06 423.88 228.33 423.48 228.17 423.07 228.55 422.67 228.53 422.25 229.7 421.87 228.77 421.48 227.91 421.08 228.1 420.68 228.15 420.27 228.6 419.88 228.05 419.48 228.09 419.07 228.54 418.68 227.91 418.27 228.57 417.87 228.35 417.48 227.83 417.07 228.61 416.63 230.27 416.27 228.54 415.86 228.78 415.47 228.67 415.04 229.95 414.66 228.88 414.28 228.02 413.89 227.68 413.46 228.72 413.07 228.19 412.66 228.76 412.28 227.71 411.86 228.65 411.44 229.94 411.07 228.3 410.67 228.5 410.27 228.49 409.87 228.23 409.46 228.99 409.08 227.85 408.67 228.31 408.24 229.94 407.87 228.11 407.46 228.83 407.07 228.03 406.66 228.55 406.28 227.62 405.85 229.26 405.48 227.84 405.08 227.65 404.68 227.89 404.25 229.04 403.86 228.59 403.47 228.03 403.08 227.9 402.67 228.02 402.26 228.64 401.88 227.6 401.47 228.11 401.05 228.92 400.65 229.01 400.25 229 399.88 227.8 399.42 230.47 399.06 228.64 398.63 229.85 398.28 227.6 397.88 227.62 397.47 228.18 397.07 227.82 396.68 227.46 396.24 229.64 395.87 228.1 395.48 227.74 395.08 227.41 394.66 228.64 394.27 227.99 393.87 227.9 393.47 227.81 393.06 228.32 392.68 227.55 392.28 227.39 391.87 227.83 391.47 227.71 391.06 228.6 390.66 228.3 390.25 228.81 389.87 228.04 389.47 227.68 389.08 227.28 388.68 227.44 388.28 227.42 387.87 227.81 387.48 227.42 387.07 227.87 386.68 227.58 386.28 227.48 385.87 227.65 385.47 227.66 385.07 227.59 384.68 227.45 384.26 228.41 383.86 228.08 383.48 227.36 383.06 228.19 382.68 227.39 382.27 227.72 381.88 227.39 381.46 228.14 381.07 227.89 380.67 227.91 380.27 227.92 379.88 227.33 379.48 227.45 379.02 229.91 378.66 227.94 378.28 227.26 377.87 227.78 377.48 227.33 377.03 229.56 376.67 227.62 376.28 227.36 375.87 227.72 375.47 227.56 375.07 227.53 374.68 227.32 374.28 227.02 373.88 227.07 373.46 227.93 373.08 227 372.65 228.57 372.27 227.75 371.88 227.1 371.47 227.32 371.07 227.68 370.68 226.98 370.27 227.35 369.86 228.22 369.46 228.13 369.07 227.4 368.68 226.96 368.25 228.22 367.81 230.34 367.48 227 367.06 227.82 366.66 228.11 366.28 226.85 365.88 226.89 365.46 227.91 365.08 227.13 364.67 227.43 364.27 227.62 363.87 227.17 363.46 228.07 363.07 227.25 362.67 227.38 362.28 227.06 361.87 227.47 361.45 228.35 361.07 227.18 360.68 226.97 360.26 227.85 359.88 227 359.47 227.17 359.08 226.84 358.67 227.19 358.28 227.01 357.87 227.3 357.46 227.59 357.08 226.9 356.64 228.49 356.23 229.07 355.88 226.91 355.46 227.55 355.07 227.04 354.65 227.93 354.24 228.6 353.87 227.03 353.47 227.12 353.06 227.89 352.66 227.73 352.27 227.16 351.87 227.38 351.48 226.83 351.07 226.98 350.66 227.39 350.24 228.81 349.87 227.33 349.48 226.64 349.04 228.33 348.66 227.41 348.28 226.78 347.86 227.59 347.46 227.75 347.04 228.49 346.65 227.79 346.24 228.34 345.88 226.62 345.46 227.29 345.04 228.29 344.67 226.96 344.23 228.76 343.85 227.81 343.48 226.71 343.06 227.43 342.66 227.51 342.25 228.03 341.87 227.03 341.48 226.49 341.07 226.99 340.67 226.67 340.26 227.46 339.86 227.56 339.46 227.53 339.07 226.95 338.66 227.32 338.26 227.27 337.88 226.54 337.47 227.04 337.07 226.71 336.68 226.54 336.27 226.75 335.86 227.06 335.44 228.29 335.07 226.62 334.67 226.61 334.24 228.02 333.85 227.95 333.4 230.35 333.07 226.65 332.67 226.8 332.28 226.41 331.86 227.05 331.44 228.28 331.07 226.47 330.62 229.32 330.26 227.22 329.87 226.56 329.46 227.33 329.07 226.43 328.65 227.67 328.27 226.8 327.85 227.58 327.46 227.11 327.07 226.66 326.67 226.62 326.24 228.31 325.87 226.72 325.42 228.9 325.05 227.49 324.67 226.55 324.26 227.04 323.84 228.02 323.46 227.17 323.05 227.76 322.66 227.05 322.26 226.94 321.85 227.71 321.46 226.99 321.06 227.05 320.61 229.68 320.27 226.37 319.82 228.93 319.46 226.82 319.05 227.28 318.64 227.69 318.26 227.04 317.87 226.4 317.47 226.32 317.07 226.36 316.67 226.5 316.26 226.9 315.85 227.49 315.46 226.84 315.03 228.12 314.62 228.94 314.24 227.78 313.84 227.61 313.46 226.63 313.05 227.52 312.64 227.82 312.25 227.39 311.86 226.64 311.46 226.57 311.06 226.76 310.66 226.95 310.27 226.53 309.85 227.33 309.47 226.4 309.05 227.11 308.61 229.3 308.24 227.82 307.87 226.24 307.45 227.08 307.06 226.51 306.66 226.88 306.25 226.98 305.79 230.12 305.4 229.52 305.06 226.87 304.64 227.56 304.26 226.45 303.71 234.03 303.45 226.96 303.05 226.93 302.66 226.46 302.27 226.35 301.85 227.09 301.42 228.69 301.05 227.2 300.63 227.87 300.25 226.93 299.84 227.61 299.46 226.51 299.06 226.78 298.6 229.66 298.22 228.28 297.84 227.52 297.43 228.14 297.06 226.35 296.67 226.16 296.23 228.12 295.84 227.41 295.45 227.14 295.03 228.1 294.66 226.51 294.26 226.61 293.81 228.74 293.46 226.63 293 229.21 292.66 226.35 292.24 227.56 291.84 227.15 291.42 228.39 291.06 226.31 290.64 227.18 290.21 228.77 289.84 227.57 289.45 226.73 289.05 226.86 288.62 228.36 288.23 227.73 287.82 228.09 287.43 227.77 287.04 227.35 286.64 227.35 286.25 226.87 285.85 226.57 285.44 227.35 285.02 228.33 284.66 226.24 284.24 227.27 283.86 226.21 283.45 226.77 283.01 228.61 282.58 230.3 282.21 228.6 281.85 226.52 281.35 231.33 281.01 228.52 280.63 227.41 280.22 227.88 279.84 227.04 279.33 232.38 278.98 230.23 278.46 235.97 278.23 227.63 277.8 229.17 277.36 231.05 277.05 226.51 276.65 226.46 276.18 229.79 275.82 228.1 275.44 227.23 275.01 228.73 274.62 227.98 274.19 229.67 273.83 227.57 273.42 228.08 273.2 228.95 273.2 226.32 273.05 231.43 273.06 228.29 273.05 226.36 272.99 229.13 272.99 226.9 272.95 226.37 272.88 227.37 272.84 226.81 272.72 229.89 272.69 228.79 272.68 227.17 272.64 227.06 272.59 229.12 272.57 227.39 272.46 230.14 272.48 226.64 272.4 228.3 272.38 226.96 272.3 228.3 272.27 227.07 272.2 229.1 272.19 228.4 272.15 227.9 272.1 228.18 272.07 227.09 272.02 226.72 271.97 226.86 271.92 226.67 271.84 228.18 271.79 229.25 271.75 230.14 271.68 231 271.67 228.94 271.61 229.35 271.62 226.43 271.56 227.04 271.46 229.67 271.47 226.34 271.4 228.89 271.38 228.38 271.26 231.56 271.31 226.65 271.21 229.44 271.15 229.83 271.09 229.9 271.12 226.34 271.04 227.85 271.04 226.97 270.97 228.64 270.95 227.26 270.9 227.13 270.84 227.62 270.75 229.28 270.73 227.71 270.71 226.34 270.66 226.4 270.65 226.37 270.59 227.27 270.55 226.95 270.45 229.26 270.44 226.95 270.38 227.59 270.24 232.03 270.26 228.27 270.22 227.69Z" fill="#4853b4" fill-opacity="1"/>
<path d="M270.3 230.77 270.35 229.22 270.4 225.41 270.45 231.32 270.5 228.12 270.55 230.81 270.61 231.24 270.66 230.44 270.7 228.99 270.71 229.1 270.76 229.86 270.81 228.26 270.86 228.76 270.91 228.52 270.96 223.03 271.01 231.3 271.06 225.21 271.1 230.7 271.11 229.75 271.16 230.13 271.22 229.06 271.27 227.38 271.32 225.9 271.37 230.92 271.42 229.98 271.47 230.19 271.5 231.38 271.52 231.24 271.57 230.67 271.62 229.74 271.67 228.86 271.72 229.68 271.77 229.92 271.83 228.49 271.88 228.01 271.9 230.87 271.93 231.01 271.98 228.62 272.03 231.35 272.08 231.13 272.13 230.22 272.18 230.34 272.23 229.97 272.28 229.62 272.3 230.05 272.33 229.39 272.38 230.44 272.44 227.07 272.49 229.48 272.54 228.58 272.59 230.45 272.64 225.71 272.69 230.01 272.7 231.39 272.74 226.22 272.79 228.95 272.84 230.01 272.89 230.15 272.94 229.86 272.99 231.45 273.05 229.37 273.1 227.79 273.1 229.38 273.15 228.13 273.2 228.87 273.25 226.8 273.3 230.06 273.5 229.77 273.9 230.21 274.3 230.15 274.7 230.73 275.1 229.5 275.5 230.06 275.9 230.92 276.3 230.31 276.7 229.32 277.1 229.67 277.5 229.98 277.9 231.05 278.3 230.68 278.7 228.25 279.1 230.66 279.5 231.39 279.9 229.07 280.3 231.28 280.7 230.62 281.1 230.71 281.5 229.81 281.9 230.05 282.3 230.97 282.7 231.32 283.1 229.79 283.5 230.4 283.9 230.72 284.3 230.71 284.7 229.81 285.1 229 285.5 229.21 285.91 231.74 286.39 230.02 286.84 230.21 287.27 229.58 287.6 231.46 288 231.56 288.49 229.79 288.8 231.69 289.2 231.86 289.9 226.02 290.05 230.97 290.48 230.51 290.92 229.82 291.22 231.74 291.65 231.23 292.18 228.85 292.47 231.03 292.86 231.17 293.32 230.17 293.63 231.73 294.09 230.84 294.45 231.58 294.82 232.09 295.23 232.04 295.75 229.97 296.09 231.02 296.45 231.68 296.93 230.44 297.27 231.47 297.71 230.85 298.02 232.39 298.51 230.9 298.92 230.89 299.4 229.51 299.71 231.12 300.08 231.55 300.53 230.84 300.83 232.43 301.26 232.01 301.78 230.22 302.14 230.89 302.41 232.96 302.93 231.15 303.34 230.97 303.83 229.55 304.16 230.69 304.42 232.92 304.87 232.25 305.31 231.54 305.69 231.9 306.2 230.29 306.45 232.66 306.83 232.9 307.3 231.98 307.6 233.5 308.07 232.42 308.85 226.91 308.81 233.33 309.24 233.06 309.63 233.14 310.06 232.78 310.71 229.12 311 230.79 311.25 233.03 311.71 232.14 312.3 229.46 312.57 231.42 312.87 232.89 313.24 233.29 313.63 233.47 314.06 233.06 314.55 231.84 314.81 233.84 315.31 232.48 315.61 233.98 315.99 234.19 316.43 233.75 316.81 233.97 317.3 232.84 317.72 232.59 318.11 232.66 318.41 234.15 318.93 232.51 319.36 232.19 319.79 231.69 320.06 233.64 320.42 234.24 320.8 234.55 321.2 234.57 321.59 234.71 322.12 232.94 322.39 234.73 322.87 233.74 323.2 234.7 323.64 234.14 324.15 232.75 324.52 233.2 324.89 233.61 325.24 234.35 325.6 234.81 326.12 233.3 326.42 234.63 326.9 233.65 327.41 232.18 327.77 232.76 328.06 234.25 328.4 235.08 328.94 233.27 329.24 234.59 329.72 233.6 330.02 234.92 330.52 233.59 330.82 234.97 331.21 235.22 331.58 235.54 332.08 234.35 332.46 234.61 332.83 235.01 333.39 233.01 333.68 234.48 334.04 235.06 334.55 233.61 334.93 233.92 335.25 234.92 335.69 234.41 336.08 234.6 336.54 233.93 336.89 234.51 337.26 235.06 337.67 234.94 338.07 234.93 338.44 235.38 338.79 236.1 339.36 233.84 339.58 236.23 340.09 234.9 340.41 235.9 340.85 235.39 341.22 235.87 341.61 236.07 342.05 235.56 342.66 232.81 342.86 235.46 343.32 234.78 343.68 235.28 344.17 234.2 344.43 235.93 344.79 236.57 345.44 233.42 345.62 236.26 346.12 235.01 346.47 235.62 346.85 235.98 347.18 236.83 347.6 236.58 348.02 236.42 348.51 235.32 348.8 236.69 349.26 236 349.6 236.82 349.98 237.12 350.44 236.32 350.8 236.9 351.26 236.13 351.61 236.87 352.12 235.53 352.49 235.88 352.84 236.51 353.23 236.66 353.59 237.23 354.03 236.78 354.59 234.84 354.97 235.15 355.23 236.83 355.62 237.06 356.14 235.57 356.5 236.16 357.03 234.48 357.2 237.45 357.63 237.13 358.02 237.2 358.4 237.56 358.82 237.27 359.24 237.03 359.58 237.9 359.99 237.81 360.41 237.58 360.84 237.26 361.18 237.94 361.68 236.81 362.01 237.73 362.4 237.85 362.78 238.17 363.19 238.04 363.63 237.58 364.19 235.65 364.51 236.71 364.94 236.37 365.28 237.13 365.63 237.72 366.02 237.87 366.4 238.2 366.9 236.94 367.19 238.34 367.68 237.28 368.02 238.1 368.53 236.74 368.81 238.31 369.26 237.73 369.58 238.74 369.99 238.58 370.39 238.67 370.83 238.23 371.27 237.75 371.57 238.95 372 238.69 372.38 238.99 372.79 238.84 373.23 238.42 373.64 238.26 374.02 238.57 374.39 238.95 374.77 239.29 375.22 238.73 375.64 238.51 376.05 238.4 376.43 238.72 376.84 238.62 377.2 239.1 377.67 238.26 378.04 238.71 378.47 238.39 378.89 238.12 379.23 238.9 379.73 237.8 380.02 239.15 380.4 239.36 380.81 239.27 381.33 237.84 381.6 239.47 382 239.51 382.4 239.59 382.81 239.42 383.43 236.93 383.73 238.08 384 239.74 384.44 239.28 384.83 239.42 385.27 238.97 385.59 239.94 386.04 239.42 386.44 239.39 386.9 238.72 387.18 240.19 387.58 240.23 388.04 239.55 388.39 240.21 388.79 240.28 389.23 239.79 389.63 239.83 389.97 240.58 390.46 239.48 390.79 240.43 391.17 240.65 391.59 240.5 392.04 239.96 392.45 239.79 392.88 239.46 393.2 240.48 393.61 240.37 393.99 240.66 394.41 240.47 394.8 240.62 395.24 240.19 395.57 241.05 395.99 240.8 396.38 240.95 396.83 240.43 397.22 240.63 397.65 240.25 398.11 239.59 398.45 240.4 398.83 240.62 399.19 241.08 399.57 241.44 400.03 240.7 400.56 239.28 400.76 241.56 401.24 240.75 401.57 241.59 401.98 241.54 402.44 240.83 402.85 240.78 403.2 241.38 403.58 241.62 404.04 240.97 404.45 240.89 404.78 241.69 405.25 241 405.58 241.84 406.19 239.39 406.52 240.23 406.82 241.42 407.29 240.64 407.6 241.74 407.97 242.09 408.44 241.4 408.77 242.19 409.17 242.18 409.6 241.98 410 241.97 410.41 241.87 410.85 241.41 411.18 242.31 411.82 239.62 412.02 241.88 412.38 242.45 412.78 242.41 413.23 241.91 413.62 242.08 414.06 241.68 414.38 242.55 414.91 241.1 415.22 242.25 415.57 242.82 416.05 241.97 416.51 241.29 416.81 242.47 417.17 242.99 417.65 242.05 417.99 242.76 418.37 243.06 418.82 242.55 419.22 242.54 419.6 242.81 420.03 242.46 420.41 242.74 420.78 243.21 421.23 242.57 421.57 243.31 422.15 241.29 422.37 243.43 422.77 243.47 423.19 243.22 423.59 243.3 424.08 242.29 424.41 243.17 424.8 243.25 425.18 243.55 425.6 243.4 425.99 243.48 426.4 243.46 426.79 243.59 427.22 243.23 427.64 243.14 428.11 242.37 428.39 243.72 428.8 243.7 429.18 243.92 429.65 243.2 430.05 243.16 430.46 243.17 430.79 243.98 431.21 243.73 430.84 247.84 430.52 246.93 430.07 247.46 429.74 246.71 429.39 246.05 429.04 245.52 428.62 245.68 428.21 245.78 427.71 246.8 427.42 245.53 426.8 247.94 426.52 246.66 426.23 245.39 425.77 245.96 425.43 245.26 424.96 246 424.52 246.49 424.19 245.66 423.76 245.9 423.31 246.45 422.98 245.63 422.51 246.32 422.05 247.01 421.75 245.81 421.32 246.11 420.99 245.31 420.51 246.2 420.2 245.21 419.8 245.15 419.43 244.75 418.99 245.17 418.6 245 418.18 245.23 417.71 245.94 417.27 246.36 416.94 245.53 416.59 244.94 416.16 245.27 415.78 244.97 415.35 245.31 415 244.68 414.64 244.25 414.17 244.95 413.76 245.02 413.32 245.46 412.98 244.8 412.6 244.51 412.19 244.58 411.81 244.34 411.4 244.39 410.99 244.42 410.62 244.08 410.16 244.79 409.83 243.92 409.36 244.71 409.03 243.83 408.53 244.91 408.22 243.93 407.73 244.85 407.32 244.92 406.95 244.61 406.59 244.1 406.2 243.99 405.81 243.76 405.36 244.37 405.03 243.51 404.61 243.68 404.19 243.93 403.77 244.07 403.43 243.32 402.95 244.24 402.59 243.73 402.22 243.42 401.74 244.25 401.37 243.9 400.94 244.2 400.57 243.78 400.2 243.47 399.79 243.5 399.36 243.88 399.03 242.95 398.52 244.21 398.22 243.03 397.77 243.61 397.28 244.58 397.02 242.88 396.42 245.26 396.23 242.73 395.8 243.07 395.3 244.17 394.94 243.74 394.59 243.06 394.18 243.12 393.75 243.43 393.38 243.08 392.89 244.13 392.56 243.28 392.21 242.67 391.77 243.02 391.39 242.85 391.03 242.28 390.59 242.72 390.22 242.36 389.82 242.3 389.33 243.3 388.95 243.03 388.63 242.13 388.15 243.01 387.77 242.71 387.36 242.88 386.83 244.32 386.61 242.16 386.19 242.32 385.69 243.49 385.31 243.24 384.94 242.84 384.62 241.88 384.23 241.76 383.8 242.11 383.41 241.85 383 241.96 382.5 243.16 382.15 242.58 381.81 241.81 381.37 242.28 380.91 242.92 380.61 241.71 380.22 241.5 379.83 241.41 379.43 241.38 379 241.69 378.57 241.95 378.16 242.03 377.74 242.25 377.41 241.41 376.98 241.74 376.55 242.04 376.16 241.87 375.78 241.65 375.34 242.15 374.95 241.91 374.61 241.18 374.14 241.99 373.76 241.66 373.42 240.91 372.9 242.35 372.62 240.87 372.21 240.98 371.77 241.5 371.41 240.92 370.98 241.2 370.52 241.99 370.14 241.66 369.83 240.61 369.34 241.56 369.02 240.62 368.6 240.79 368.06 242.48 367.62 242.91 367.41 240.62 366.98 240.9 366.47 242.29 366.03 242.76 365.77 240.94 365.43 240.21 364.99 240.72 364.57 240.88 364.17 240.86 363.82 240.21 363.4 240.46 362.99 240.48 362.53 241.18 362.18 240.52 361.83 239.93 361.38 240.46 360.89 241.58 360.63 239.83 360.19 240.34 359.8 240.15 359.41 239.95 358.98 240.3 358.54 240.72 358.19 240.14 357.73 240.82 357.42 239.64 356.87 241.5 356.61 239.69 356.15 240.42 355.7 241.05 355.19 242.36 354.99 239.9 354.6 239.76 354.17 240.03 353.66 241.42 353.37 239.98 352.94 240.33 352.55 240.16 352.18 239.84 351.68 240.96 351.39 239.6 350.88 241.02 350.63 239.09 350.14 240.15 349.73 240.18 349.27 241.01 348.98 239.53 348.62 238.99 348.21 239.05 347.69 240.58 347.38 239.39 347.01 239.03 346.62 238.81 346.18 239.38 345.78 239.3 345.19 241.76 344.8 241.51 344.52 239.99 344.18 239.21 343.76 239.36 343.4 238.84 342.98 239.11 342.58 239.02 342.2 238.82 341.8 238.81 341.41 238.6 341 238.75 340.59 238.84 340.21 238.51 339.8 238.58 339.21 241.04 338.92 239.65 338.61 238.44 338.09 239.86 337.71 239.63 337.34 239.21 337 238.44 336.59 238.44 336.19 238.43 335.64 240.38 335.34 239.05 335 238.3 334.57 238.61 334.21 238 333.66 239.96 333.39 238.21 332.9 239.46 332.45 240.03 332.12 239.13 331.81 237.83 331.4 238.01 330.93 238.91 330.61 237.81 330.13 238.82 329.7 239.19 329.26 239.73 328.9 239.1 328.61 237.63 328.11 238.98 327.82 237.52 327.26 239.58 327 237.75 326.58 237.96 326.08 239.27 325.43 242.67 325.3 238.99 324.96 238.07 324.48 239.16 324.14 238.37 323.6 240.19 323.36 237.93 322.95 238.03 322.53 238.37 322.18 237.66 321.68 239 321.37 237.71 320.95 238 320.58 237.54 320.06 239.2 319.73 238.19 319.24 239.47 318.88 238.84 318.54 237.99 318.19 237.21 317.69 238.58 317.4 237.1 316.95 237.66 316.43 239.34 316.19 237.14 315.72 238.04 315.32 238.09 314.82 239.47 314.33 240.76 314.18 237.16 313.72 238 313.3 238.23 312.97 237.17 312.55 237.46 312.1 238.2 311.71 238.03 311.27 238.56 310.99 236.81 310.6 236.57 310.15 237.4 309.8 236.58 309.31 237.91 309 236.5 308.59 236.69 308.17 236.98 307.79 236.66 307.36 236.96 306.98 236.74 306.55 237.08 306.13 237.35 305.77 236.79 305.18 239.63 304.98 236.6 304.44 238.67 304.07 238.25 303.64 238.64 303.23 238.76 302.95 236.94 302.53 237.32 302.14 237.03 301.78 236.4 301.3 237.68 300.93 237.25 300.51 237.44 300.16 236.77 299.77 236.54 299.37 236.58 298.85 238.36 298.45 238.42 298.15 236.7 297.7 237.58 297.23 238.77 296.97 236.5 296.58 236.24 296.07 238.03 295.7 237.55 295.1 240.87 294.93 237.04 294.42 238.87 294.17 236.37 293.77 236.28 293.3 237.56 292.95 236.74 292.44 238.67 292.03 238.85 291.73 236.97 291.34 236.97 290.91 237.4 290.55 236.64 290.09 237.88 289.72 237.43 289.36 236.61 289.01 235.7 288.53 237.37 288.15 236.99 287.7 238.13 287.39 236.31 287.02 235.7 286.61 236.08 286.18 238.54 285.89 235.77 285.5 235.56 285.1 242.46 284.7 236.58 284.3 237.19 283.9 242.7 283.5 237.48 283.1 238.51 282.7 238.71 282.3 237.55 281.9 236.14 281.5 237.71 281.1 237.78 280.7 240.12 280.3 238.36 279.9 235.75 279.5 235.88 279.1 239.74 278.7 236.56 278.3 237.35 277.9 235.9 277.5 240.42 277.1 237.1 276.7 238.12 276.3 240.11 275.9 237 275.5 237.15 275.1 237.09 274.7 238.37 274.3 238.14 273.9 237.98 273.5 243.81 273.3 237.28 273.25 237.8 273.2 238.47 273.15 238.75 273.1 240.21 273.1 236.02 273.05 236.05 272.99 237.06 272.94 236.24 272.89 238.78 272.84 240.91 272.79 236.66 272.74 239.13 272.7 236.82 272.69 238.08 272.64 237.89 272.59 236.45 272.54 237.56 272.49 236.29 272.44 236.61 272.38 239.96 272.33 237.55 272.3 237.47 272.28 236.79 272.23 240.88 272.18 240.9 272.13 238.02 272.08 238.27 272.03 239.57 271.98 237.74 271.93 237.55 271.9 237.68 271.88 241.15 271.83 236.99 271.77 236.27 271.72 238.41 271.67 238.18 271.62 237.7 271.57 239.99 271.52 236.68 271.5 238.45 271.47 238.62 271.42 237.21 271.37 236.14 271.32 237.63 271.27 237.17 271.22 237.63 271.16 237 271.11 236.97 271.1 236.28 271.06 236.52 271.01 237.18 270.96 239.06 270.91 237.07 270.86 238.31 270.81 236.07 270.76 236.3 270.71 237.39 270.7 239.46 270.66 239.94 270.61 239.47 270.55 236.44 270.5 237.89 270.45 236.62 270.4 237.27 270.35 236.68 270.3 236.99Z" fill="#4853b4" fill-opacity="1"/>
<path d="M270.3 240.62 270.35 241.47 270.4 236 270.45 240.46 270.5 237.43 270.55 237.51 270.61 241.81 270.66 239.76 270.7 238.92 270.71 232.41 270.76 241.49 270.81 239.67 270.86 239.06 270.91 240.39 270.96 241.38 271.01 240.76 271.06 239.39 271.1 235.36 271.11 237.14 271.16 241.35 271.22 237.32 271.27 241.32 271.32 240.03 271.37 241.86 271.42 241.67 271.47 236.31 271.5 237.88 271.52 240.29 271.57 239.42 271.62 239.05 271.67 238.49 271.72 240.18 271.77 240.72 271.83 237.73 271.88 241.62 271.9 240.86 271.93 238.44 271.98 241.39 272.03 240.43 272.08 241.2 272.13 241.54 272.18 238.47 272.23 240.34 272.28 240.64 272.3 241.73 272.33 241.68 272.38 240.05 272.44 241.86 272.49 240.43 272.54 241 272.59 241.16 272.64 240.8 272.69 238.71 272.7 236.18 272.74 240.12 272.79 240.59 272.84 240.2 272.89 239.63 272.94 241.77 272.99 241.62 273.05 240.51 273.1 240.89 273.1 240.59 273.15 241.21 273.2 240.48 273.25 241.89 273.3 240.78 273.5 239.24 273.9 241.9 274.3 241.76 274.7 241.89 275.1 235.89 275.5 239.94 275.9 242.02 276.3 240.1 276.7 238.25 277.1 242.07 277.5 240.66 277.9 241.89 278.3 237.54 278.7 239.82 279.1 239.91 279.5 238.31 279.9 241.91 280.3 240.52 280.7 237.5 281.1 241.3 281.5 240.3 281.9 242.21 282.3 240.17 282.7 240.96 283.1 241.27 283.5 241.44 283.9 238.69 284.3 240.91 284.7 241.13 285.1 241.7 285.5 239.42 285.96 240.99 286.45 242.05 287.02 241.11 287.47 240.71 287.91 240.43 288.21 241.53 288.65 241.23 289.01 241.65 289.49 240.94 289.84 241.51 290.14 242.41 290.78 240.38 291.14 240.79 291.49 241.28 291.75 242.59 292.28 241.49 292.49 243.2 293 242.29 293.38 242.51 293.7 243.26 294.32 241.43 294.79 240.86 295.01 242.52 295.34 243.17 295.78 242.83 296.17 243 296.7 241.93 297.23 240.89 297.51 241.9 297.8 242.89 298.23 242.75 298.76 241.71 298.9 243.93 299.57 241.71 299.92 242.18 300.44 241.2 300.74 242.09 301.14 242.21 301.55 242.16 301.8 243.42 302.65 239.71 302.6 243.51 302.96 243.9 303.38 243.78 303.89 242.94 304.08 244.75 304.63 243.56 304.93 244.45 305.42 243.77 305.71 244.72 306.51 241.46 306.55 244.48 306.92 244.74 307.44 243.83 307.88 243.53 308.41 242.55 308.51 245.05 308.95 244.74 309.7 241.99 309.94 243.35 310.32 243.57 310.48 245.54 310.91 245.36 311.32 245.31 311.76 245.08 312.42 242.97 312.63 244.6 312.91 245.58 313.26 246.04 313.83 244.76 314.4 243.43 314.72 244.14 315.03 244.89 315.43 244.94 315.69 246.13 316.13 245.82 316.77 243.95 316.97 245.59 317.51 244.57 317.77 245.69 318.09 246.45 318.58 245.77 319.03 245.39 319.59 244.19 319.72 246.38 320.29 245.09 320.66 245.37 321.16 244.64 321.28 246.9 321.7 246.81 322.2 246.01 322.47 247.13 323.03 245.94 323.32 246.82 323.74 246.73 324.12 246.93 324.54 246.8 324.95 246.82 325.54 245.35 325.68 247.43 326.08 247.55 326.55 246.99 326.85 247.88 327.38 246.84 327.87 246.24 328.06 247.94 328.53 247.44 329.01 246.84 329.55 245.77 329.69 247.92 330.13 247.66 330.46 248.27 331 247.18 331.42 247.09 331.67 248.28 332.09 248.19 332.77 246.07 333.12 246.48 333.25 248.71 333.94 246.4 334.12 248.24 334.44 248.89 334.85 248.89 335.39 247.86 335.78 247.93 336.1 248.6 336.43 249.23 336.92 248.55 337.47 247.42 337.7 248.87 338.06 249.19 338.59 248.22 338.88 249.13 339.33 248.82 339.7 249.13 340.09 249.26 340.44 249.71 341.04 248.16 341.41 248.46 341.85 248.19 342.1 249.44 342.75 247.48 342.87 249.72 343.55 247.63 343.68 249.74 344.2 248.87 344.47 249.92 344.83 250.32 345.29 249.91 345.63 250.42 346.03 250.44 346.6 249.2 346.85 250.44 347.38 249.42 347.7 250.12 348.06 250.46 348.51 250.17 348.89 250.38 349.34 250.04 349.62 251.01 350.03 251.01 350.48 250.63 351.02 249.62 351.27 250.8 351.74 250.31 352.03 251.24 352.44 251.23 352.97 250.28 353.33 250.59 353.66 251.25 354.09 251.05 354.92 247.74 355.14 249.17 355.26 251.41 355.77 250.59 356.06 251.53 356.49 251.38 357.04 250.26 357.24 251.81 357.64 251.93 358.19 250.78 358.58 250.94 358.91 251.52 359.36 251.16 359.67 251.92 360.09 251.85 360.47 252.03 360.83 252.37 361.32 251.71 361.77 251.45 362.1 252.04 362.43 252.58 362.83 252.67 363.31 252.05 363.79 251.49 364.05 252.65 364.49 252.43 364.99 251.71 365.75 248.92 365.72 252.34 366.04 253.02 366.44 253.04 366.99 251.95 367.31 252.64 367.68 252.92 368.02 253.42 368.58 252.2 368.85 253.24 369.23 253.46 369.65 253.41 370.16 252.59 370.45 253.49 370.82 253.8 371.4 252.42 371.75 252.91 372.07 253.54 372.51 253.28 372.81 254.09 373.27 253.68 373.88 252.13 374.1 253.58 374.41 254.29 374.87 253.92 375.33 253.52 375.64 254.26 376.3 252.34 376.45 254.27 376.86 254.26 377.37 253.44 377.8 253.27 378.23 253.07 378.44 254.58 378.89 254.29 379.29 254.35 379.65 254.71 380.09 254.4 380.68 253.01 380.89 254.52 381.22 255.14 381.62 255.22 382.07 254.86 382.41 255.33 382.8 255.46 383.24 255.24 383.79 254.14 384.03 255.43 384.56 254.47 384.81 255.66 385.31 254.97 385.74 254.78 386.02 255.79 386.42 255.8 386.81 255.97 387.25 255.67 387.6 256.11 388.07 255.62 388.62 254.52 388.82 256.14 389.43 254.56 389.67 255.89 390.13 255.45 390.51 255.65 390.87 255.99 391.3 255.83 391.6 256.64 392.15 255.53 392.56 255.54 392.93 255.82 393.28 256.23 393.65 256.52 394.01 256.89 394.49 256.32 394.91 256.24 395.21 257.07 395.63 256.94 396.33 254.7 396.41 257.22 397.01 255.72 397.3 256.62 397.74 256.41 398.04 257.19 398.5 256.82 398.89 256.89 399.43 255.92 399.75 256.58 400.17 256.51 400.54 256.8 400.82 257.74 401.29 257.22 401.6 257.99 402.13 257.02 402.54 257.02 402.84 257.8 403.2 258.21 403.77 256.96 404.1 257.56 404.4 258.36 404.85 258.06 405.24 258.14 405.74 257.42 406.05 258.2 406.46 258.14 406.94 257.65 407.28 258.15 407.72 257.88 408.06 258.37 408.48 258.27 408.97 257.68 409.37 257.71 409.62 258.86 410.11 258.26 410.5 258.38 410.8 259.22 411.43 257.55 411.6 259.28 412.06 258.92 412.4 259.4 412.8 259.45 413.24 259.25 413.62 259.43 414.13 258.66 414.46 259.21 414.93 258.75 415.31 258.93 415.67 259.3 416.03 259.67 416.43 259.73 416.86 259.57 417.2 260.05 417.78 258.75 418.03 259.91 418.43 259.97 418.98 258.92 419.23 260.1 419.62 260.19 420.25 258.55 420.47 259.97 420.92 259.61 421.26 260.11 421.65 260.23 422.07 260.17 422.48 260.16 423.03 259.11 423.31 260.05 423.83 259.18 424.02 260.84 424.54 259.98 424.82 260.95 425.31 260.31 425.6 261.15 426.11 260.39 426.44 260.99 426.86 260.87 427.28 260.79 427.66 260.97 428 261.53 428.4 261.54 428.92 260.72 429.29 260.95 429.7 260.98 430.09 261.09 430.44 261.54 430.9 261.16 431.22 261.76 430.88 264.35 430.6 263.38 430.12 263.9 429.78 263.44 429.22 264.57 428.9 263.88 428.55 263.47 428.13 263.53 427.75 263.35 427.3 263.7 426.94 263.32 426.56 263.1 426.16 263.12 425.77 262.93 425.4 262.69 424.94 263.1 424.49 263.4 424.2 262.54 423.66 263.52 423.27 263.41 423 262.34 422.58 262.46 422.01 263.64 421.64 263.39 421.3 262.88 420.95 262.47 420.58 262.16 420.19 262.08 419.76 262.25 419.34 262.3 418.91 262.46 418.43 263.06 418.17 261.92 417.74 262.08 417.4 261.6 416.95 261.93 416.55 261.87 416.18 261.63 415.79 261.46 415.23 262.65 414.97 261.49 414.42 262.56 414.1 261.93 413.71 261.82 413.4 261.1 412.88 261.94 412.43 262.26 412.02 262.26 411.63 262.18 411.28 261.74 410.99 260.8 410.59 260.75 410.14 261.11 409.74 261.02 409.34 260.99 409 260.51 408.55 260.79 408.13 260.94 407.64 261.51 407.35 260.62 406.93 260.77 406.59 260.22 406.17 260.36 405.65 261.22 405.21 261.43 404.99 260.07 404.59 260 404.07 260.81 403.66 260.85 403.25 260.85 402.77 261.42 402.4 261.13 402.11 260.26 401.79 259.61 401.3 260.25 400.96 259.74 400.5 260.11 400.08 260.24 399.8 259.27 399.39 259.27 398.91 259.88 398.4 260.61 398.18 259.24 397.63 260.29 397.26 260.03 396.95 259.31 396.52 259.46 396.13 259.37 395.71 259.45 395.22 260.03 394.86 259.7 394.31 260.76 394.13 259.08 393.68 259.38 393.34 258.91 392.99 258.49 392.43 259.59 392.09 259.08 391.75 258.59 391.35 258.52 390.92 258.74 390.42 259.46 390.18 258.19 389.66 259.03 389.39 257.99 388.58 261.03 388.58 257.96 388.01 259.21 387.76 258.02 387.2 259.15 386.98 257.72 386.55 257.93 386.17 257.73 385.77 257.67 385.39 257.49 384.95 257.7 384.57 257.52 384.09 258.1 383.77 257.43 383.26 258.2 382.82 258.42 382.54 257.46 382.18 257.12 381.61 258.34 380.94 260.4 380.99 256.89 380.25 259.39 380.15 257.07 379.78 256.79 379.29 257.46 378.99 256.6 378.49 257.3 378.07 257.48 377.53 258.46 377.36 256.65 376.73 258.36 376.54 256.74 376.18 256.33 375.59 257.71 375.26 257.12 374.83 257.35 374.59 256.09 374.16 256.26 373.75 256.26 373.33 256.38 372.84 256.97 372.43 257.05 372.11 256.38 371.77 255.83 371.29 256.38 370.73 257.6 370.55 255.87 369.94 257.41 369.56 257.22 369.15 257.25 368.89 256.09 368.5 255.98 368.17 255.38 367.29 259.03 367.31 255.72 366.94 255.47 366.42 256.36 366.04 256.1 365.78 254.96 365.25 255.98 364.59 257.87 364.52 255.28 363.95 256.55 363.75 254.93 363.26 255.58 362.98 254.6 362.55 254.83 362.02 255.77 361.57 256.12 361.31 254.99 360.96 254.55 360.57 254.41 360.18 254.25 359.6 255.6 359.33 254.55 358.98 254.14 358.47 254.89 358.12 254.5 357.6 255.37 357.35 254.12 356.75 255.63 356.55 254.03 356.12 254.22 355.6 255.07 355.19 255.1 354.81 254.95 354.54 253.82 354.07 254.35 353.76 253.6 353.31 253.91 352.84 254.44 352.56 253.49 352.16 253.38 351.68 253.99 351.18 254.67 350.87 253.96 350.4 254.44 350.11 253.56 349.16 257.78 349.11 254.96 348.95 253.04 348.21 255.64 347.9 254.91 347.62 253.94 347.24 253.69 346.75 254.36 346.52 253.01 346.17 252.55 345.71 252.96 345.35 252.57 344.77 253.94 344.53 252.65 344.16 252.39 343.55 253.96 343.23 253.31 342.79 253.58 342.28 254.36 342.13 252.35 341.56 253.6 341.31 252.38 340.89 252.55 340.44 252.89 339.82 254.54 339.74 251.99 339.33 252.03 338.83 252.72 338.53 251.94 338.04 252.59 337.77 251.51 337.32 251.8 336.85 252.32 336.41 252.6 336.15 251.45 335.7 251.78 335.31 251.64 334.95 251.28 334.47 251.91 334.09 251.67 333.6 252.36 333.33 251.25 332.95 251.07 332.4 252.16 332.08 251.52 331.71 251.19 331.27 251.51 330.69 252.82 330.54 250.81 330.16 250.63 329.76 250.58 329.35 250.59 328.65 252.96 328.36 251.99 328.13 250.58 327.67 251 327.09 252.44 326.79 251.56 326.5 250.61 326.16 250.14 325.59 251.41 325.14 251.74 324.87 250.68 324.42 251.03 323.88 252.12 323.71 250.26 323.27 250.48 322.85 250.59 322.46 250.44 322.07 250.34 321.67 250.27 321.27 250.23 320.65 251.99 320.43 250.49 319.97 250.91 319.74 249.46 319.06 251.72 318.94 249.38 318.45 250.06 317.96 250.75 316.96 255.5 317.31 249.44 316.9 249.43 316.42 250.1 315.92 250.86 315.72 249.16 314.94 252.21 314.55 252.09 314.5 249.19 314.06 249.43 313.66 249.41 313.31 248.94 312.94 248.7 312.43 249.47 311.98 249.87 311.67 249.12 311.06 250.74 310.91 248.66 310.35 249.95 309.97 249.74 309.45 250.63 309.22 249.22 308.72 249.96 308.42 249.11 308.06 248.77 307.59 249.28 307.11 249.87 306.87 248.49 306.32 249.69 306.01 248.94 305.64 248.66 305.31 247.97 304.54 250.98 304.21 250.37 304.06 248.28 303.7 247.91 303.28 248.02 302.86 248.12 302.47 247.99 301.88 249.57 301.63 248.25 301.24 248.12 300.73 249 300.5 247.51 299.93 248.95 299.61 248.21 299.27 247.61 298.21 253.18 298.43 247.9 298.11 247.14 297.67 247.45 297.31 247.11 296.8 248.02 296.33 248.51 295.93 248.52 295.61 247.8 295.28 247.16 294.75 248.22 294.31 248.47 293.94 248.25 293.39 249.44 292.85 250.61 292.76 247.9 292.41 247.43 292.04 247.14 291.54 248.03 291.27 246.81 290.79 247.48 290.26 248.59 289.58 251.03 289.53 247.9 289.22 247.11 288.86 246.65 288.47 246.61 287.71 249.88 287.34 249.6 286.87 250.25 286.21 252.84 286.43 246.94 286.12 246.88 285.84 247.35 285.5 248.09 285.1 246.39 284.7 248.87 284.3 247.17 283.9 246.16 283.5 247.26 283.1 248.03 282.7 248.25 282.3 246.77 281.9 247.92 281.5 247.04 281.1 251.49 280.7 246.27 280.3 248.21 279.9 247.15 279.5 250.64 279.1 246.62 278.7 246.64 278.3 247.03 277.9 248.23 277.5 248.51 277.1 250.21 276.7 255.38 276.3 246.45 275.9 247.02 275.5 248.56 275.1 246.41 274.7 248.02 274.3 248.51 273.9 246.94 273.5 249.07 273.3 246.65 273.25 246.47 273.2 247.39 273.15 248.72 273.1 250.54 273.1 250.16 273.05 250.54 272.99 247.21 272.94 248.5 272.89 249.54 272.84 246.74 272.79 248.79 272.74 249.13 272.7 247.63 272.69 251.16 272.64 249.27 272.59 246.92 272.54 247.19 272.49 247.6 272.44 247.92 272.38 247.45 272.33 247.77 272.3 247.51 272.28 249.35 272.23 247.48 272.18 247.45 272.13 248.67 272.08 249.45 272.03 251.06 271.98 248.77 271.93 248.5 271.9 246.66 271.88 247.98 271.83 246.72 271.77 246.53 271.72 247.96 271.67 246.84 271.62 246.52 271.57 247.2 271.52 248.17 271.5 246.79 271.47 248.34 271.42 247.19 271.37 247.18 271.32 248.53 271.27 247.02 271.22 247.57 271.16 251.14 271.11 255.05 271.1 252.04 271.06 248.27 271.01 247.71 270.96 247.48 270.91 247.6 270.86 248 270.81 249.28 270.76 248.8 270.71 247.22 270.7 250.54 270.66 248.8 270.61 246.97 270.55 249.99 270.5 249.24 270.45 248.56 270.4 251.43 270.35 247.03 270.3 248.53Z" fill="#4853b4" fill-opacity="1"/>
<path d="M270.64 248.58 270.92 247.3 270.84 248.19 271.19 246.77 271.29 246.66 271.06 248.15 271.07 248.45 271.83 245.33 271.13 248.72 271.85 245.6 271.38 247.96 271.38 248.28 271.4 248.43 271.63 247.79 271.65 247.98 272.03 246.81 271.83 247.81 271.68 248.57 272.24 246.56 271.96 247.82 272.03 247.81 272.2 247.48 271.86 248.87 272.44 247.1 272.32 247.76 272.68 246.79 272.51 247.48 272.24 248.47 272.51 247.8 272.67 247.49 272.39 248.61 272.4 248.76 272.65 248.18 273.05 247.15 273.46 246.11 273.13 247.2 272.7 248.63 273.12 247.57 272.65 249.16 273.13 247.93 273.28 247.67 273.38 247.58 273.25 248.15 273.87 246.56 273.6 247.4 273.29 248.4 273.86 247 273.32 248.67 273.63 248.01 273.99 247.2 274.09 247.11 273.92 247.74 273.61 248.76 273.46 249.19 273.78 248.47 274.37 247.08 274.41 247.17 273.75 249.07 275.07 245.8 273.81 249.25 274.69 247.15 274.91 246.76 274.22 248.54 274.69 247.5 274 249.4 274.64 247.96 274.41 248.7 274.61 248.84 274.7 249.83 275.07 250.13 275.98 249.23 276.28 249.7 277 249.3 276.87 250.64 277.37 250.67 277.78 250.9 278.24 251.02 278.35 251.82 278.99 251.61 281.24 248.43 279.68 252.29 280.07 252.56 280.49 252.77 281.69 251.6 281.17 253.46 281.56 253.73 282.1 253.74 282.9 253.3 282.98 254.1 283.85 253.56 284.13 254.02 284.17 254.86 285.09 254.27 285.05 255.25 285.13 256.03 286.14 255.3 286.54 255.57 287.09 255.57 287.24 256.23 287.12 257.32 287.78 257.16 287.96 257.78 290.01 255.46 289.97 256.41 289.47 258.08 290.22 257.79 290.9 257.61 290.66 258.88 291.13 259.02 291.08 259.98 291.85 259.67 291.94 260.41 292.61 260.26 292.8 260.84 293.86 260.09 294.05 260.67 293.91 261.77 295.71 259.89 295.1 261.7 296.11 261.02 295.63 262.63 296.24 262.56 297.21 261.96 297.15 262.92 297.54 263.19 298.02 263.32 298.64 263.26 298.42 264.46 299.03 264.39 299.82 264.05 299.41 265.55 299.91 265.66 301.23 264.49 301.31 265.24 301.73 265.47 301.91 266.07 302.28 266.36 302.52 266.86 303.41 266.35 303.58 266.96 303.82 267.45 304.48 267.29 304.25 268.54 304.91 268.38 305.37 268.54 305.83 268.69 305.77 269.66 307.16 268.32 306.74 269.88 307.78 269.1 307.85 269.87 307.91 270.66 310.1 267.99 308.48 271.52 309.11 271.38 310.02 270.78 309.71 272.19 310.39 271.96 310.95 271.93 311.06 272.65 312 271.98 312.01 272.86 312.49 272.96 312.5 273.85 313.36 273.3 313.27 274.37 313.62 274.67 314.79 273.59 314.8 274.47 315.39 274.37 315.3 275.46 316.1 274.97 316.28 275.58 316.54 276.04 317.06 276.05 317.48 276.24 318.27 275.75 318.11 276.97 318.51 277.18 318.85 277.52 319.47 277.33 320.23 276.88 320.35 277.59 320.68 277.93 321.09 278.13 321.2 278.86 321.93 278.46 322.24 278.83 322.7 278.91 323.23 278.87 323.33 279.64 323.83 279.65 324.48 279.36 324.47 280.36 324.94 280.41 325.15 280.99 325.72 280.84 326.4 280.47 326.51 281.25 326.86 281.54 327.11 282.04 328.03 281.15 328.22 281.78 328.44 282.34 328.85 282.5 329.43 282.3 329.69 282.77 329.97 283.21 330.28 283.6 330.81 283.48 331.22 283.64 331.73 283.57 332.13 283.76 332.59 283.79 332.93 284.1 333.1 284.78 333.49 284.98 333.84 285.25 334.57 284.67 335 284.77 335.28 285.22 336.3 283.94 335.9 285.95 336.33 286.04 336.83 285.97 338.52 283.04 337.44 286.76 338.13 286.2 338.3 286.91 338.67 287.14 339.21 286.96 339.46 287.47 339.93 287.46 340.25 287.81 340.63 288.01 341.06 288.08 341.46 288.24 341.99 288.04 342.18 288.74 342.63 288.74 343.48 287.69 343.5 288.86 343.89 289.03 344.42 288.81 344.76 289.12 345.23 289.04 345.57 289.37 345.81 289.92 346.23 290.01 346.66 290.06 346.98 290.43 347.41 290.48 348.02 290 348.31 290.43 348.98 289.76 348.96 291.13 349.91 289.6 349.97 290.76 350.36 290.91 350.68 291.28 350.99 291.65 351.74 290.69 352.03 291.17 352.36 291.49 352.66 291.91 352.94 292.41 353.49 292.07 353.85 292.29 354.4 291.92 354.58 292.77 354.93 293.02 355.37 293.02 355.71 293.34 356.1 293.47 356.54 293.46 356.96 293.49 357.31 293.78 357.81 293.52 358.34 293.16 358.61 293.73 358.97 293.95 359.29 294.36 359.82 293.99 360.08 294.59 360.49 294.67 360.92 294.65 361.41 294.38 361.87 294.26 362.09 295.06 362.53 294.98 362.98 294.89 363.36 295.06 363.73 295.27 364.21 295.06 364.49 295.61 364.88 295.76 365.28 295.83 365.7 295.84 366.07 296.08 366.49 296.05 366.85 296.32 367.27 296.31 367.81 295.8 368.05 296.59 368.5 296.43 368.93 296.39 369.32 296.49 369.65 296.89 370.11 296.7 370.59 296.38 370.93 296.76 371.31 296.94 371.63 297.37 372.13 296.99 372.47 297.35 372.9 297.25 373.34 297.16 373.66 297.62 374.03 297.84 374.47 297.68 374.88 297.74 375.25 297.92 375.63 298.11 376.09 297.85 376.58 297.46 376.9 297.92 377.24 298.34 377.64 298.42 378.2 297.56 378.61 297.56 378.95 297.99 379.24 298.64 379.61 298.88 380.03 298.83 380.52 298.38 380.84 298.88 381.32 298.46 381.7 298.61 382.01 299.25 382.5 298.72 382.91 298.71 383.23 299.31 383.62 299.44 384.04 299.34 384.41 299.59 384.86 299.32 385.25 299.41 385.64 299.56 386.04 299.62 386.39 299.99 386.87 299.51 387.19 300.11 387.6 300.08 387.98 300.24 388.45 299.81 388.89 299.53 389.19 300.34 389.59 300.4 390.02 300.22 390.42 300.27 390.84 300.16 391.2 300.52 391.59 300.63 392.02 300.43 392.43 300.4 392.88 299.98 393.2 300.68 393.6 300.76 394.03 300.52 394.39 300.87 394.81 300.8 395.19 301.02 395.61 300.84 396.06 300.43 396.51 300 396.8 301.09 397.19 301.17 397.59 301.25 397.99 301.28 398.4 301.15 398.87 300.56 399.18 301.42 399.69 300.45 400.08 300.5 400.37 301.62 400.76 301.77 401.19 301.49 401.56 301.79 401.97 301.74 402.37 301.83 402.79 301.57 403.27 300.81 403.58 301.81 404.04 301.2 404.47 300.83 404.76 302.06 405.16 302.15 405.57 301.99 405.97 302.02 406.36 302.24 406.78 302.03 407.16 302.2 407.56 302.33 407.99 301.95 408.38 302.07 408.79 301.97 409.17 302.3 409.56 302.47 410.04 301.45 410.37 302.39 410.76 302.49 411.2 301.93 411.58 302.3 411.95 302.62 412.34 302.81 412.76 302.6 413.17 302.52 413.56 302.69 413.95 302.77 414.35 302.87 414.75 302.78 415.17 302.49 415.55 302.91 415.95 302.87 416.34 303.07 416.74 303.02 417.16 302.76 417.56 302.82 417.96 302.83 418.34 303.19 418.74 303.2 419.16 302.91 419.54 303.25 419.94 303.16 420.36 302.92 420.73 303.37 421.13 303.37 421.54 303.2 421.96 302.9 422.33 303.4 422.73 303.49 423.14 303.41 423.54 303.26 423.95 303.14 424.36 302.99 424.77 302.87 425.14 303.44 425.54 303.45 425.95 303.21 426.35 303.25 426.73 303.65 427.13 303.66 427.53 303.57 427.94 303.54 428.34 303.53 428.75 303.21 429.13 303.65 429.55 303.3 429.93 303.67 430.33 303.81 430.74 303.62 431.13 303.78 431.08 305.02 430.67 305.2 430.27 305.12 429.88 304.95 429.45 305.41 429.07 304.92 428.65 305.38 428.26 305.14 427.86 305.12 427.46 305.11 427.07 304.93 426.67 304.93 426.26 305.08 425.84 305.46 425.45 305.26 425.04 305.36 424.66 304.87 424.26 304.87 423.86 304.77 423.45 305.04 422.99 306.15 422.66 304.73 422.25 304.87 421.86 304.68 421.45 304.91 421.04 305.01 420.64 304.92 420.22 305.3 419.86 304.52 419.44 304.8 419.06 304.43 418.63 304.88 418.26 304.44 417.83 304.82 417.46 304.39 417.06 304.29 416.63 304.68 416.25 304.44 415.82 304.81 415.44 304.49 415.05 304.24 414.63 304.49 414.18 305.27 413.85 304.18 413.43 304.44 413.04 304.24 412.62 304.56 412.21 304.55 411.84 304.14 411.45 304.04 411.03 304.17 410.6 304.49 410.24 303.93 409.85 303.82 409.43 304.01 409.04 303.92 408.62 304.06 408.24 303.75 407.83 303.87 407.4 304.23 407.03 303.76 406.6 304.1 406.23 303.68 405.77 304.33 405.44 303.5 405.05 303.37 404.61 303.75 404.18 304.04 403.84 303.27 403.42 303.49 403.03 303.35 402.55 304.14 402.23 303.28 401.83 303.24 401.4 303.43 400.99 303.49 400.63 303.08 400.22 303.13 399.83 302.94 399.44 302.84 399.01 303.06 398.61 302.99 398.22 302.9 397.82 302.79 397.39 303.06 397.02 302.69 396.61 302.7 396.2 302.77 395.8 302.75 395.4 302.68 395.03 302.37 394.62 302.35 394.21 302.39 393.74 302.96 393.42 302.21 392.99 302.4 392.62 302.07 392.15 302.63 391.79 302.22 391.41 302.04 390.92 302.68 390.58 302.15 390.17 302.18 389.79 301.94 389.39 301.85 389 301.74 388.6 301.69 388.17 301.84 387.58 303.14 387.32 302.04 386.95 301.75 386.56 301.61 386.2 301.31 385.78 301.34 385.34 301.55 385.01 301.03 384.55 301.35 384.15 301.29 383.73 301.34 383.36 301.07 382.95 301.08 382.49 301.35 382.2 300.61 381.79 300.62 381.37 300.65 380.95 300.73 380.54 300.7 380.16 300.49 379.77 300.37 379.26 300.92 378.92 300.5 378.54 300.29 378.18 300.01 377.77 299.96 377.15 301.15 376.98 299.75 376.46 300.34 376.04 300.36 375.43 301.37 375.34 299.63 374.89 299.83 374.51 299.66 374.14 299.41 373.75 299.29 373.26 299.61 372.95 299.07 372.45 299.51 372.07 299.3 371.73 298.95 371.35 298.72 370.89 298.92 370.54 298.62 370.07 298.86 369.54 299.36 369.31 298.49 368.9 298.41 368.48 298.39 368.13 298.11 367.63 298.43 367.03 299.2 366.94 297.75 366.46 298 366.11 297.68 365.45 298.72 365.28 297.6 364.87 297.54 364.49 297.37 363.98 297.72 363.33 298.61 363.15 297.6 362.86 297.06 362.37 297.29 362.03 296.98 361.6 296.98 361.15 297.04 360.78 296.82 360.41 296.6 359.93 296.76 359.68 296.11 359.21 296.25 358.8 296.17 358.19 296.83 358.04 295.78 357.54 296.01 357.28 295.39 356.73 295.81 356.31 295.77 356.02 295.24 355.63 295.09 355.29 294.76 354.78 295.02 354.33 295.07 354.09 294.38 353.63 294.48 353.28 294.18 352.78 294.37 352.33 294.4 351.95 294.2 351.48 294.29 351.06 294.23 350.72 293.88 350.47 293.27 349.77 294.06 349.58 293.3 349.06 293.52 348.69 293.28 348.46 292.64 347.96 292.78 347.65 292.37 346.84 293.42 346.76 292.35 346.12 292.89 345.98 292.01 345.61 291.77 345.22 291.58 344.78 291.56 344.2 291.91 343.88 291.52 343.47 291.4 343.02 291.37 342.63 291.2 342.22 291.07 341.92 290.64 341.39 290.82 341.07 290.44 340.78 290 340.29 290.08 339.9 289.88 339.57 289.54 339.16 289.41 338.44 290.03 338.23 289.39 337.86 289.14 337.58 288.69 337.15 288.58 336.23 289.68 336.12 288.8 335.75 288.55 335.54 287.92 335.04 287.98 334.51 288.1 334.16 287.81 333.81 287.52 333.18 287.85 333.14 286.85 332.56 287.07 332.31 286.55 331.83 286.56 331.45 286.31 330.98 286.28 330.5 286.26 330.12 286.03 329.92 285.41 329.11 286.09 329.13 285.01 328.24 285.86 328.23 284.83 327.81 284.67 327.41 284.47 326.8 284.7 326.54 284.22 325.78 284.76 325.2 284.92 324.22 285.87 324.59 284.12 324.22 283.85 324.2 282.87 323.62 283.02 323 283.25 322.39 283.44 321.84 283.51 322 282.22 321.6 282 321.37 281.46 321.02 281.14 320.52 281.11 319.93 281.25 319.75 280.62 318.75 281.53 318.42 281.17 318.56 279.94 317.55 280.85 317.62 279.76 317.26 279.45 316.75 279.42 316.46 279 314.81 281 315.77 278.35 315.32 278.21 314.9 278.02 314.46 277.84 314.04 277.65 313.75 277.23 313.36 276.97 312.65 277.28 312.28 276.99 312 276.53 310.88 277.52 311.04 276.33 310.93 275.6 310.08 276.11 310.1 275.17 309.07 275.98 309.19 274.87 308.56 274.99 308.49 274.2 307.95 274.19 307.18 274.55 307.22 273.58 306.75 273.45 306.43 273.06 305.46 273.74 305.46 272.84 304.19 273.99 304.49 272.61 303.75 272.9 303.74 272.01 303.55 271.43 303.1 271.26 302.46 271.38 301.89 271.38 301.43 271.22 301.35 270.46 300.92 270.25 300.62 269.83 300.27 269.49 299.71 269.49 299.43 269.04 297.99 270.4 298.47 268.77 298.3 268.16 297.56 268.42 296.84 268.65 297.17 267.26 296.73 267.07 296.38 266.73 295.76 266.8 295.19 266.8 294.66 266.73 294.09 266.74 294.04 265.93 292.05 268.11 293.53 264.96 293.06 264.81 292.33 265.07 291.99 264.72 291.52 264.56 291.12 264.3 290.48 264.4 290.62 263.32 289.96 263.45 289.55 263.21 289.52 262.39 288.89 262.48 287.61 263.59 287.7 262.58 286.6 263.42 287.47 261.2 286.9 261.19 286.43 261.07 285.79 261.18 285.71 260.43 284.74 261.09 284.97 259.84 282.16 263.44 284.17 259.35 283.86 258.98 282.07 260.98 282.95 258.68 281.51 260.14 281.71 258.93 281.77 257.94 279.65 260.58 280.64 258.04 280.41 257.52 279.35 258.43 278.79 258.52 278.41 258.28 278.81 256.67 277.85 257.47 278.17 255.98 277.48 256.31 277.45 255.44 276.83 255.65 276.28 255.77 276 255.36 275.14 256.1 275.41 254.62 272.73 259.13 274.16 255.24 274.08 254.44 271.7 258.7 273.06 254.71 272.92 254.03 272.3 254.48 272.48 253.51 271.63 255.5 272.47 253.26 271.47 255.64 272.19 253.7 272.26 253.53 271.78 254.62 271.1 256.23 272.14 253.42 271.98 253.69 272 253.49 271.67 254.22 271.59 254.31 271.61 254.14 270.89 256.06 271.37 254.63 271.9 253.06 271.63 253.64 271.86 252.89 271.76 253.01 271.12 254.65 270.88 255.2 271.1 254.5 271.28 253.93 270.8 255.17 271.38 253.37 270.67 255.28 270.91 254.45 271.16 253.56 271.34 252.87 270.69 254.68 270.65 254.75 270.75 254.36 271 253.47 270.3 255.51 270.91 253.46 270.91 253.31 271.07 252.63 270.96 252.84 270.28 254.92 270.33 254.69 270.68 253.43 270.15 255.09 270.32 254.38 269.91 255.66 270.66 252.9 270.48 253.38 270.65 252.6 270.51 252.92 270.24 253.88 270.23 253.84 270.31 253.36 270.04 254.25 270.42 252.59 270.21 253.28 270.31 252.71 269.94 254.08 269.59 255.5 269.91 254.06 269.82 254.35 269.87 253.99 269.69 254.69 269.98 253.13 270.06 252.56 269.7 254.32 270.02 252.41 269.93 252.66Z" fill="#4853b4" fill-opacity="1"/>
<path d="M273.21 257.69 274.19 257.75 274.06 258 273.32 258.39 274.55 258.33 274.36 258.58 274.21 258.83 273.19 259.28 272.85 259.54 273.14 259.5 273.08 259.71 272.63 260.03 278.09 258.79 276.31 259.44 273.92 260.27 272.92 260.73 273.24 260.83 273.51 260.89 273.07 261.06 273.15 261.22 276.89 260.31 274.19 261.28 277.81 260.36 278.73 260.24 275.19 261.48 276.99 261.09 275.96 261.51 273.52 262.34 274.38 262.24 277.84 261.29 278.76 261.13 275.05 262.51 274.66 262.8 274.69 262.94 275.41 262.86 273.93 263.43 274.52 263.32 274.97 263.32 276.19 263.04 274.62 263.75 278.55 262.5 274.12 264.23 275.59 263.86 278.51 262.94 274.36 264.5 275.24 264.28 275.75 264.24 274.18 264.97 276.09 264.4 274.32 265.22 274.85 265.16 275.48 265.06 274.51 265.58 275.27 265.31 276.17 265.07 275.97 265.29 276.18 265.35 275.32 265.83 276.28 265.58 276.04 265.82 278.28 265.04 276.46 265.92 274.97 266.54 275.75 266.35 276.01 266.37 276.39 266.35 276.26 266.54 275.17 267.53 277.59 267.47 276.88 268.78 278.09 269.15 278.68 269.77 277.75 271.17 278.06 271.9 279.6 271.9 278.85 273.21 279.56 273.63 279.48 274.52 281.51 274.02 280.24 275.68 280.54 276.29 281.46 276.43 281.6 277.13 282.32 277.37 284.53 276.42 282.24 279 282.37 279.68 284.09 279.01 283.87 279.96 283.79 280.8 285.71 279.82 284.99 281.23 284.64 282.33 284.99 282.76 285.46 283.07 286.06 283.24 286.29 283.77 286.77 284.03 288.17 283.26 287.36 284.94 289.67 283.07 289.3 284.24 289.09 285.26 289.72 285.26 290.4 285.19 290.26 286.14 291.94 284.74 291.76 285.74 290.8 287.82 291.77 287.3 291.8 288.07 292.16 288.37 292.66 288.48 293.2 288.49 293.47 288.92 294.48 288.2 293.83 290.07 294.93 289.16 295.38 289.28 295.99 289.13 296.61 288.94 296.73 289.61 296.35 291.15 296.8 291.26 298.19 289.64 297.62 291.61 298.02 291.79 298.28 292.22 300.61 288.6 299.32 292.1 299.61 292.49 300.22 292.21 300.52 292.58 300.85 292.87 301.31 292.9 301.86 292.71 302.04 293.35 301.99 294.51 302.54 294.32 303.07 294.16 303.17 295.01 303.8 294.58 304.21 294.7 304.48 295.16 305.07 294.81 305.42 295.05 305.97 294.77 306.05 295.75 306.37 296.09 306.86 295.98 307.09 296.56 307.96 295.33 308.03 296.41 308.34 296.77 308.72 296.95 309.1 297.13 309.62 296.87 310.07 296.8 310.45 296.96 310.66 297.69 311.21 297.31 311.48 297.83 311.94 297.7 312.32 297.89 312.71 298 313.04 298.35 313.58 297.95 313.78 298.74 314.26 298.56 314.85 297.93 315.09 298.61 315.52 298.55 315.82 299.04 316.43 298.27 316.57 299.42 317.14 298.79 317.45 299.21 317.9 299.11 318.27 299.3 318.56 299.84 319.09 299.31 319.43 299.67 319.75 300.08 320.13 300.28 320.54 300.3 321.06 299.78 321.33 300.45 321.73 300.54 322.18 300.38 322.72 299.7 322.93 300.7 323.41 300.38 323.93 299.79 324.16 300.73 324.59 300.62 324.98 300.72 325.35 300.96 325.66 301.51 326.14 301.12 326.65 300.52 326.98 301 327.59 299.75 327.76 301.18 328.11 301.52 328.47 301.83 328.9 301.72 329.27 301.95 329.69 301.87 330.2 301.2 330.53 301.67 330.94 301.66 331.44 301.03 331.62 302.53 332.06 302.36 332.56 301.63 333.03 301.19 333.4 301.46 333.61 302.83 334.05 302.57 334.44 302.7 334.88 302.41 335.3 302.29 335.66 302.67 336.05 302.79 336.47 302.67 336.84 302.91 337.23 303.09 337.66 302.81 338.02 303.2 338.42 303.25 338.92 302.36 339.28 302.76 339.63 303.25 339.99 303.59 340.46 303.04 340.81 303.53 341.19 303.76 341.63 303.34 342.04 303.33 342.44 303.29 342.87 303.1 343.2 303.82 343.71 302.73 344.07 303.12 344.4 303.87 344.82 303.63 345.25 303.34 345.62 303.71 345.99 304.07 346.43 303.66 346.82 303.8 347.22 303.8 347.62 303.77 347.99 304.17 348.36 304.5 348.82 303.81 349.25 303.54 349.57 304.55 349.97 304.58 350.42 303.88 350.77 304.51 351.17 304.6 351.58 304.53 351.97 304.67 352.37 304.59 352.76 304.8 353.19 304.41 353.6 304.32 353.95 304.96 354.4 304.34 354.76 304.95 355.18 304.65 355.57 304.81 356.04 303.71 356.35 305.05 356.79 304.58 357.2 304.35 357.67 303.27 357.98 304.77 358.34 305.28 358.79 304.57 359.15 305.26 359.56 305.15 359.99 304.55 360.43 303.83 360.75 305.35 361.17 304.98 361.57 305.01 361.95 305.23 362.35 305.24 362.75 305.3 363.18 304.75 363.6 304.38 363.96 305.12 364.39 304.58 364.85 303.43 365.15 305.37 365.54 305.66 365.96 305.16 366.36 305.31 366.75 305.47 367.16 305.19 367.6 304.45 367.97 305.07 368.34 305.58 368.76 305.34 369.16 305.34 369.54 305.8 369.93 305.87 370.33 305.93 370.73 305.85 371.16 305.26 371.55 305.53 371.94 305.75 372.33 305.94 372.74 305.87 373.15 305.5 373.53 306.12 373.95 305.5 374.33 305.99 374.77 304.96 375.14 305.91 375.55 305.64 375.92 306.2 376.33 306.14 376.73 305.98 377.14 305.77 377.54 305.81 377.92 306.23 378.34 305.93 378.76 305.24 379.15 305.5 379.52 306.3 379.92 306.34 380.33 306.05 380.72 306.29 381.12 306.28 381.54 305.95 381.92 306.34 382.32 306.41 382.73 306.04 383.13 306.23 383.52 306.49 383.94 305.77 384.32 306.31 384.73 306.06 385.14 305.94 385.54 305.88 385.93 306.04 386.33 306.29 386.74 305.64 387.14 305.76 387.52 306.39 387.94 305.92 388.32 306.43 388.73 306 389.12 306.45 389.53 306.3 389.92 306.6 390.32 306.69 390.72 306.64 391.12 306.43 391.51 306.73 391.92 306.33 392.32 306.65 392.72 306.55 393.12 306.62 393.52 306.61 393.92 306.5 394.32 306.65 394.73 305.99 395.12 306.47 395.53 306.15 395.92 306.68 396.33 306.11 396.72 306.61 397.12 306.65 397.52 306.52 397.92 306.73 398.32 306.32 398.71 306.75 399.12 306.65 399.53 306.06 399.92 306.23 400.31 306.85 400.72 306.29 401.11 306.89 401.51 306.91 401.92 306.53 402.33 305.99 402.72 306.73 403.11 306.78 403.52 306.55 403.91 306.82 404.32 306.65 404.72 306.33 405.11 306.74 405.52 306.53 405.91 306.91 406.31 306.88 406.72 306.46 407.11 306.88 407.51 307.01 407.91 306.76 408.31 306.93 408.71 306.83 409.11 306.95 409.51 306.89 409.91 306.84 410.31 306.99 410.71 307.04 411.11 306.82 411.51 306.94 411.91 307.09 412.31 307.04 412.71 306.88 413.11 306.96 413.51 306.87 413.91 307.01 414.31 307.16 414.71 307.13 415.13 305.6 415.51 306.97 415.91 307.1 416.31 306.6 416.72 305.81 417.11 307.13 417.51 307.2 417.91 307.15 418.31 307.08 418.71 306.86 419.11 306.92 419.51 307.04 419.91 306.99 420.31 307.14 420.71 307.13 421.12 306.47 421.51 306.93 421.91 307.27 422.31 306.89 422.71 307.07 423.11 307.21 423.51 307.19 423.91 306.93 424.31 307.23 424.71 306.8 425.11 307.04 425.51 307.25 425.91 307.21 426.31 306.39 426.71 307.22 427.11 307.04 427.51 307.03 427.91 307.15 428.31 307.1 428.71 307.27 429.11 306.8 429.51 307.19 429.91 307.07 430.31 307.18 430.71 307.15 431.11 306.57 431.09 308.6 430.69 308.69 430.29 308.5 429.89 308.65 429.49 308.51 429.09 308.57 428.69 308.52 428.29 308.71 427.89 308.69 427.49 308.65 427.09 308.56 426.69 308.74 426.29 308.81 425.89 308.48 425.49 308.74 425.09 308.77 424.69 308.51 424.28 309.71 423.89 308.53 423.49 308.83 423.09 308.53 422.69 308.59 422.29 308.68 421.89 308.59 421.49 308.39 421.09 308.68 420.69 309.06 420.29 308.42 419.89 308.37 419.49 308.49 419.09 308.73 418.69 308.49 418.29 308.6 417.89 308.48 417.49 308.76 417.09 308.77 416.69 308.38 416.29 308.44 415.89 308.58 415.49 308.32 415.09 308.72 414.68 309.15 414.29 308.48 413.89 308.61 413.49 308.44 413.09 308.63 412.69 308.35 412.29 308.62 411.89 308.28 411.48 308.84 411.08 308.74 410.69 308.57 410.28 308.91 409.89 308.46 409.49 308.38 409.09 308.48 408.69 308.36 408.28 309.22 407.89 308.47 407.48 308.81 407.08 308.7 406.69 308.34 406.29 308.35 405.89 308.41 405.49 308.37 405.08 308.56 404.69 308.32 404.28 308.53 403.89 308.28 403.49 308.35 403.07 308.99 402.68 308.74 402.29 308.3 401.89 308.32 401.49 308.21 401.08 308.39 400.68 308.32 400.28 308.36 399.89 308.24 399.49 308.17 399.08 308.5 398.67 308.79 398.28 308.69 397.87 308.89 397.49 308.08 397.09 308.13 396.67 308.62 396.27 308.62 395.85 309.5 395.48 308.2 395.08 308.44 394.68 308.42 394.29 308.05 393.88 308.21 393.47 308.77 393.05 309.5 392.68 308 392.28 308.16 391.88 307.98 391.48 307.95 391.07 308.49 390.68 308.09 390.27 308.46 389.86 308.74 389.47 308.4 389.08 308.06 388.68 307.91 388.27 308.55 387.88 308.1 387.47 308.16 387.07 308.32 386.67 308.33 386.26 308.74 385.87 308.27 385.48 307.83 385.07 308.16 384.67 308.17 384.27 308.08 383.87 307.96 383.46 308.41 383.07 307.98 382.67 308.18 382.28 307.78 381.87 307.85 381.48 307.75 381.06 308.28 380.67 307.96 380.23 309.19 379.87 308.01 379.48 307.61 379.06 308.25 378.68 307.58 378.28 307.64 377.87 307.69 377.47 307.85 377.05 308.24 376.67 307.61 376.27 307.61 375.87 307.69 375.47 307.63 375.05 308.04 374.67 307.67 374.25 307.97 373.84 308.18 373.46 307.76 373.07 307.57 372.67 307.5 372.26 307.73 371.85 307.83 371.44 308.07 371.04 308 370.67 307.36 370.24 307.91 369.86 307.44 369.44 307.82 369.07 307.24 368.66 307.32 368.23 307.97 367.86 307.3 367.46 307.33 367.05 307.44 366.67 307.13 366.26 307.15 365.85 307.5 365.46 307.27 365.05 307.27 364.63 307.8 364.26 307.16 363.86 306.99 363.45 307.24 363.06 307.08 362.66 306.95 362.26 306.96 361.84 307.29 361.46 306.89 361.04 307.27 360.65 307.02 360.22 307.45 359.83 307.24 359.42 307.44 359.04 306.96 358.63 307.08 358.24 306.94 357.77 307.98 357.45 306.77 357.03 307.06 356.62 307.11 356.24 306.71 355.84 306.75 355.39 307.41 355.03 306.84 354.63 306.72 354.22 306.88 353.8 307.06 353.39 307.18 353.04 306.42 352.61 306.83 352.23 306.53 351.78 307.14 351.4 306.8 351.02 306.51 350.61 306.66 350.14 307.41 349.8 306.57 349.4 306.64 348.99 306.63 348.58 306.67 348.21 306.3 347.81 306.28 347.41 306.29 346.99 306.39 346.6 306.24 346.18 306.38 345.8 306.12 345.39 306.21 345.02 305.81 344.53 306.77 344.22 305.7 343.77 306.17 343.34 306.5 342.99 305.94 342.53 306.42 342.02 307.41 341.79 305.73 341.38 305.8 340.97 305.83 340.61 305.37 340.17 305.67 339.78 305.53 339.37 305.54 338.98 305.4 338.53 305.81 338.18 305.31 337.76 305.44 337.4 305.04 336.97 305.2 336.6 304.92 336.15 305.21 335.69 305.68 335.33 305.29 334.92 305.29 334.53 305.1 333.87 307.01 333.77 304.66 333.17 306.09 332.97 304.58 332.58 304.4 332.06 305.2 331.68 304.98 331.35 304.39 330.92 304.58 330.53 304.4 330.12 304.39 329.73 304.25 329.36 304 328.88 304.42 328.51 304.15 328.14 303.88 327.71 304.01 327.19 304.66 326.9 303.88 326.45 304.1 326.01 304.25 325.66 303.87 325.11 304.63 324.85 303.75 324.53 303.22 324.04 303.61 323.65 303.49 323.32 302.99 322.81 303.49 322.36 303.66 322.1 302.83 321.62 303.16 321.28 302.76 320.89 302.62 320.5 302.44 320.04 302.66 319.65 302.49 319.26 302.33 318.71 302.94 318.39 302.46 318.05 302.09 317.38 303.15 317.17 302.21 316.86 301.69 316.37 301.98 315.79 302.6 315.47 302.13 315.15 301.71 314.53 302.44 314.44 301.1 313.99 301.19 313.48 301.45 312.86 302.13 312.72 301.05 312.3 301 311.72 301.5 310.38 304.59 310.91 301.24 310.72 300.39 310.23 300.53 309.7 300.83 309.56 299.82 309.08 299.93 308.57 300.14 308.3 299.57 307.79 299.75 307.45 299.43 306.89 299.75 306.66 299.1 306.13 299.31 305.65 299.36 304.96 299.97 304 301.3 304.09 299.77 303.79 299.33 303.54 298.75 303.24 298.31 303.05 297.61 301.97 299.08 302.05 297.71 301.67 297.47 301.18 297.49 300.49 297.95 300.37 297.12 299.5 297.95 299.54 296.77 298.93 296.99 298.57 296.7 298.04 296.73 297.56 296.67 297.72 295.3 296.97 295.77 296.81 295.08 296.35 294.95 295.81 294.98 295.15 295.2 295.16 294.21 294.73 294.02 293.89 294.54 293.54 294.18 293.05 294.05 292.99 293.22 292.41 293.24 292.31 292.47 291.9 292.21 290.93 292.8 290.29 292.84 290.6 291.49 288.67 293.39 289.28 291.62 288.91 291.25 288.69 290.68 288.25 290.4 287.34 290.73 287.39 289.8 287.3 289.06 286.83 288.79 284.5 290.75 285.57 288.61 285.32 288.06 282.68 290.19 282.91 289.04 283.5 287.55 284.01 286.16 282.96 286.43 282.44 286.1 282.77 284.95 280.88 285.93 281.58 284.42 281.46 283.71 279.77 284.38 279.44 283.81 280.1 282.39 279.45 282.09 277.44 282.86 278.41 281.22 277.21 281.27 276.44 280.96 276.4 280.08 275.93 279.52 275.06 279.2 275.77 277.8 274.96 277.41 275.27 276.28 274.08 276.06 274.11 275.08 273.69 274.34 272.9 273.78 269.65 274.44 273.11 271.63 271.98 271.12 271.35 270.32 267.63 270.81 267.94 270.06 270.33 268.9 270.53 268.67 267.97 269.58 270.64 268.33 271.32 268.04 270.78 268.11 270.46 268.09 270.69 267.84 271.18 267.49 270.17 267.74 268.75 268.15 270.57 267.27 270.53 267.16 269.86 267.39 270.86 266.85 269.38 267.26 268.7 267.36 267.64 267.59 269.08 266.88 269.87 266.42 270.07 266.19 268.39 266.69 268.33 266.66 270.49 265.71 269.83 265.78 270.19 265.48 268.76 265.82 268.12 265.87 268.87 265.43 267.74 265.64 267.8 265.53 268.39 265.24 269.95 264.54 268.64 264.8 269.83 264.23 268.85 264.37 268.86 264.18 269.16 263.9 268.88 263.81 269.55 263.52 268.4 263.77 268.16 263.65 261.82 265.4 267.33 263.51 269.19 262.76 268.81 262.68 268.81 262.48 264.72 263.45 268.4 262.34 268.22 262.24 265.49 262.79 265.28 262.62 262.66 263.1 268.46 261.33 266.62 261.58 267.26 261.19 268.25 260.71 268.74 260.56 268.24 260.48 268.49 260.18 268.18 260.01 267.97 259.81 268.01 259.55 268.09 259.26 267.08 259.2 267.51 258.84Z" fill="#4853b4" fill-opacity="1"/>
<defs><linearGradient id="gE" gradientUnits="userSpaceOnUse" x1="270" y1="0" x2="330" y2="0"><stop offset="0" stop-color="#232368" stop-opacity="0.35"/><stop offset="1" stop-color="#232368" stop-opacity="1"/></linearGradient></defs>
<path d="M270 224.6 270.54 224.61 271.08 224.62 271.62 224.63 272.16 224.64 272.7 224.66 273.24 224.67 273.78 224.68 274.32 224.69 274.86 224.7 275.39 224.71 275.93 224.72 276.47 224.73 277.01 224.74 277.55 224.75 278.09 224.77 278.63 224.78 279.17 224.79 279.71 224.8 280.25 224.81 280.79 224.82 281.33 224.83 281.87 224.84 282.41 224.85 282.95 224.86 283.49 224.88 284.03 224.89 284.57 224.9 285.11 224.91 285.64 224.92 286.18 224.93 286.72 224.94 287.26 224.95 287.8 224.96 288.34 224.98 288.88 224.99 289.42 225 289.96 225.01 290.5 225.02 291.04 225.03 291.58 225.04 292.12 225.05 292.66 225.06 293.2 225.07 293.74 225.09 294.28 225.1 294.82 225.11 295.35 225.12 295.89 225.13 296.43 225.14 296.97 225.15 297.51 225.16 298.05 225.17 298.59 225.18 299.13 225.2 299.67 225.21 300.21 225.22 300.75 225.23 301.29 225.24 301.83 225.25 302.37 225.26 302.91 225.27 303.45 225.28 303.99 225.3 304.53 225.31 305.07 225.32 305.6 225.33 306.14 225.34 306.68 225.35 307.22 225.36 307.76 225.37 308.3 225.38 308.84 225.39 309.38 225.41 309.92 225.42 310.46 225.43 311 225.44 311.54 225.45 312.08 225.46 312.62 225.47 313.16 225.48 313.7 225.49 314.24 225.51 314.78 225.52 315.32 225.53 315.85 225.54 316.39 225.55 316.93 225.56 317.47 225.57 318.01 225.58 318.55 225.59 319.09 225.6 319.63 225.62 320.17 225.63 320.71 225.64 321.25 225.65 321.79 225.66 322.33 225.67 322.87 225.68 323.41 225.69 323.95 225.7 324.49 225.71 325.03 225.73 325.56 225.74 326.1 225.75 326.64 225.76 327.18 225.77 327.72 225.78 328.26 225.79 328.8 225.8 329.34 225.81 329.88 225.83 330.42 225.84 330.96 225.85 331.5 225.86 332.04 225.87 332.58 225.88 333.12 225.89 333.66 225.9 334.2 225.91 334.74 225.92 335.28 225.94 335.81 225.95 336.35 225.96 336.89 225.97 337.43 225.98 337.97 225.99 338.51 226 339.05 226.01 339.59 226.02 340.13 226.03 340.67 226.05 341.21 226.06 341.75 226.07 342.29 226.08 342.83 226.09 343.37 226.1 343.91 226.11 344.45 226.12 344.99 226.13 345.53 226.15 346.06 226.16 346.6 226.17 347.14 226.18 347.68 226.19 348.22 226.2 348.76 226.21 349.3 226.22 349.84 226.23 350.38 226.24 350.92 226.26 351.46 226.27 352 226.28 352.54 226.29 353.08 226.3 353.62 226.31 354.16 226.32 354.7 226.33 355.24 226.34 355.77 226.35 356.31 226.37 356.85 226.38 357.39 226.39 357.93 226.4 358.47 226.41 359.01 226.42 359.55 226.43 360.09 226.44 360.63 226.45 361.17 226.47 361.71 226.48 362.25 226.49 362.79 226.5 363.33 226.51 363.87 226.52 364.41 226.53 364.95 226.54 365.49 226.55 366.02 226.56 366.56 226.58 367.1 226.59 367.64 226.6 368.18 226.61 368.72 226.62 369.26 226.63 369.8 226.64 370.34 226.65 370.88 226.66 371.42 226.67 371.96 226.69 372.5 226.7 373.04 226.71 373.58 226.72 374.12 226.73 374.66 226.74 375.2 226.75 375.74 226.76 376.27 226.77 376.81 226.79 377.35 226.8 377.89 226.81 378.43 226.82 378.97 226.83 379.51 226.84 380.05 226.85 380.59 226.86 381.13 226.87 381.67 226.88 382.21 226.9 382.75 226.91 383.29 226.92 383.83 226.93 384.37 226.94 384.91 226.95 385.45 226.96 385.98 226.97 386.52 226.98 387.06 226.99 387.6 227.01 388.14 227.02 388.68 227.03 389.22 227.04 389.76 227.05 390.3 227.06 390.84 227.07 391.38 227.08 391.92 227.09 392.46 227.11 393 227.12 393.54 227.13 394.08 227.14 394.62 227.15 395.16 227.16 395.7 227.17 396.23 227.18 396.77 227.19 397.31 227.2 397.85 227.22 398.39 227.23 398.93 227.24 399.47 227.25 400.01 227.26 400.55 227.27 401.09 227.28 401.63 227.29 402.17 227.3 402.71 227.32 403.25 227.33 403.79 227.34 404.33 227.35 404.87 227.36 405.41 227.37 405.95 227.38 406.48 227.39 407.02 227.4 407.56 227.41 408.1 227.43 408.64 227.44 409.18 227.45 409.72 227.46 410.26 227.47 410.8 227.48 411.34 227.49 411.88 227.5 412.42 227.51 412.96 227.52 413.5 227.54 414.04 227.55 414.58 227.56 415.12 227.57 415.66 227.58 416.19 227.59 416.73 227.6 417.27 227.61 417.81 227.62 418.35 227.64 418.89 227.65 419.43 227.66 419.97 227.67 420.51 227.68 421.05 227.69 421.59 227.7 422.13 227.71 422.67 227.72 423.21 227.73 423.75 227.75 424.29 227.76 424.83 227.77 425.37 227.78 425.91 227.79 426.44 227.8 426.98 227.81 427.52 227.82 428.06 227.83 428.6 227.84 429.14 227.86 429.68 227.87 430.22 227.88 430.76 227.89 431.3 227.9" stroke="url(#gE)" stroke-width="1.2" fill="none" stroke-opacity="1" stroke-linejoin="round"/>
<path d="M270 234.3 270.54 234.3 271.08 234.3 271.62 234.3 272.16 234.3 272.7 234.3 273.24 234.3 273.78 234.3 274.32 234.3 274.86 234.3 275.39 234.3 275.93 234.3 276.47 234.3 277.01 234.3 277.55 234.3 278.09 234.3 278.63 234.3 279.17 234.3 279.71 234.3 280.25 234.3 280.79 234.3 281.33 234.3 281.87 234.3 282.41 234.3 282.95 234.3 283.49 234.3 284.03 234.3 284.57 234.3 285.11 234.3 285.64 234.3 286.18 234.3 286.72 234.32 287.26 234.34 287.8 234.37 288.34 234.39 288.88 234.42 289.42 234.45 289.96 234.47 290.5 234.5 291.04 234.53 291.58 234.56 292.12 234.59 292.66 234.62 293.2 234.65 293.74 234.68 294.28 234.71 294.82 234.74 295.35 234.77 295.89 234.81 296.43 234.84 296.97 234.87 297.51 234.9 298.05 234.94 298.59 234.97 299.13 235 299.67 235.04 300.21 235.07 300.75 235.11 301.29 235.14 301.83 235.18 302.37 235.21 302.91 235.24 303.45 235.28 303.99 235.32 304.53 235.35 305.07 235.39 305.6 235.42 306.14 235.46 306.68 235.49 307.22 235.53 307.76 235.57 308.3 235.6 308.84 235.64 309.38 235.68 309.92 235.71 310.46 235.75 311 235.79 311.54 235.82 312.08 235.86 312.62 235.9 313.16 235.93 313.7 235.97 314.24 236.01 314.78 236.05 315.32 236.09 315.85 236.12 316.39 236.16 316.93 236.2 317.47 236.24 318.01 236.28 318.55 236.32 319.09 236.35 319.63 236.39 320.17 236.43 320.71 236.47 321.25 236.51 321.79 236.55 322.33 236.59 322.87 236.63 323.41 236.67 323.95 236.71 324.49 236.75 325.03 236.78 325.56 236.82 326.1 236.86 326.64 236.9 327.18 236.94 327.72 236.98 328.26 237.02 328.8 237.06 329.34 237.1 329.88 237.14 330.42 237.19 330.96 237.23 331.5 237.27 332.04 237.31 332.58 237.35 333.12 237.39 333.66 237.43 334.2 237.47 334.74 237.51 335.28 237.55 335.81 237.59 336.35 237.63 336.89 237.68 337.43 237.72 337.97 237.76 338.51 237.8 339.05 237.84 339.59 237.88 340.13 237.92 340.67 237.97 341.21 238.01 341.75 238.05 342.29 238.09 342.83 238.13 343.37 238.17 343.91 238.22 344.45 238.26 344.99 238.3 345.53 238.34 346.06 238.39 346.6 238.43 347.14 238.47 347.68 238.51 348.22 238.56 348.76 238.6 349.3 238.64 349.84 238.68 350.38 238.73 350.92 238.77 351.46 238.81 352 238.85 352.54 238.9 353.08 238.94 353.62 238.98 354.16 239.03 354.7 239.07 355.24 239.11 355.77 239.16 356.31 239.2 356.85 239.24 357.39 239.29 357.93 239.33 358.47 239.37 359.01 239.42 359.55 239.46 360.09 239.5 360.63 239.55 361.17 239.59 361.71 239.63 362.25 239.68 362.79 239.72 363.33 239.77 363.87 239.81 364.41 239.85 364.95 239.9 365.49 239.94 366.02 239.99 366.56 240.03 367.1 240.07 367.64 240.12 368.18 240.16 368.72 240.21 369.26 240.25 369.8 240.3 370.34 240.34 370.88 240.39 371.42 240.43 371.96 240.47 372.5 240.52 373.04 240.56 373.58 240.61 374.12 240.65 374.66 240.7 375.2 240.74 375.74 240.79 376.27 240.83 376.81 240.88 377.35 240.92 377.89 240.97 378.43 241.01 378.97 241.06 379.51 241.1 380.05 241.15 380.59 241.19 381.13 241.24 381.67 241.28 382.21 241.33 382.75 241.38 383.29 241.42 383.83 241.47 384.37 241.51 384.91 241.56 385.45 241.6 385.98 241.65 386.52 241.69 387.06 241.74 387.6 241.79 388.14 241.83 388.68 241.88 389.22 241.92 389.76 241.97 390.3 242.01 390.84 242.06 391.38 242.11 391.92 242.15 392.46 242.2 393 242.25 393.54 242.29 394.08 242.34 394.62 242.38 395.16 242.43 395.7 242.48 396.23 242.52 396.77 242.57 397.31 242.62 397.85 242.66 398.39 242.71 398.93 242.75 399.47 242.8 400.01 242.85 400.55 242.89 401.09 242.94 401.63 242.99 402.17 243.03 402.71 243.08 403.25 243.13 403.79 243.17 404.33 243.22 404.87 243.27 405.41 243.31 405.95 243.36 406.48 243.41 407.02 243.46 407.56 243.5 408.1 243.55 408.64 243.6 409.18 243.64 409.72 243.69 410.26 243.74 410.8 243.79 411.34 243.83 411.88 243.88 412.42 243.93 412.96 243.97 413.5 244.02 414.04 244.07 414.58 244.12 415.12 244.16 415.66 244.21 416.19 244.26 416.73 244.31 417.27 244.35 417.81 244.4 418.35 244.45 418.89 244.5 419.43 244.54 419.97 244.59 420.51 244.64 421.05 244.69 421.59 244.74 422.13 244.78 422.67 244.83 423.21 244.88 423.75 244.93 424.29 244.97 424.83 245.02 425.37 245.07 425.91 245.12 426.44 245.17 426.98 245.21 427.52 245.26 428.06 245.31 428.6 245.36 429.14 245.41 429.68 245.46 430.22 245.5 430.76 245.55 431.3 245.6" stroke="url(#gE)" stroke-width="1.2" fill="none" stroke-opacity="1" stroke-linejoin="round"/>
<path d="M270 244.8 270.54 244.8 271.08 244.8 271.62 244.8 272.16 244.8 272.7 244.8 273.24 244.8 273.78 244.8 274.32 244.8 274.86 244.8 275.39 244.8 275.93 244.8 276.47 244.8 277.01 244.8 277.55 244.8 278.09 244.8 278.63 244.8 279.17 244.8 279.71 244.8 280.25 244.8 280.79 244.8 281.33 244.8 281.87 244.8 282.41 244.8 282.95 244.8 283.49 244.8 284.03 244.8 284.57 244.8 285.11 244.8 285.64 244.8 286.18 244.8 286.72 244.86 287.26 244.91 287.8 244.97 288.34 245.03 288.88 245.09 289.42 245.15 289.96 245.21 290.5 245.27 291.04 245.33 291.58 245.39 292.12 245.45 292.66 245.51 293.2 245.57 293.74 245.64 294.28 245.7 294.82 245.76 295.35 245.82 295.89 245.89 296.43 245.95 296.97 246.01 297.51 246.08 298.05 246.14 298.59 246.2 299.13 246.27 299.67 246.33 300.21 246.4 300.75 246.46 301.29 246.53 301.83 246.59 302.37 246.65 302.91 246.72 303.45 246.78 303.99 246.85 304.53 246.91 305.07 246.98 305.6 247.04 306.14 247.11 306.68 247.18 307.22 247.24 307.76 247.31 308.3 247.37 308.84 247.44 309.38 247.5 309.92 247.57 310.46 247.64 311 247.7 311.54 247.77 312.08 247.83 312.62 247.9 313.16 247.97 313.7 248.03 314.24 248.1 314.78 248.17 315.32 248.23 315.85 248.3 316.39 248.37 316.93 248.43 317.47 248.5 318.01 248.57 318.55 248.63 319.09 248.7 319.63 248.77 320.17 248.83 320.71 248.9 321.25 248.97 321.79 249.04 322.33 249.1 322.87 249.17 323.41 249.24 323.95 249.31 324.49 249.37 325.03 249.44 325.56 249.51 326.1 249.58 326.64 249.64 327.18 249.71 327.72 249.78 328.26 249.85 328.8 249.92 329.34 249.98 329.88 250.05 330.42 250.12 330.96 250.19 331.5 250.26 332.04 250.32 332.58 250.39 333.12 250.46 333.66 250.53 334.2 250.6 334.74 250.66 335.28 250.73 335.81 250.8 336.35 250.87 336.89 250.94 337.43 251.01 337.97 251.08 338.51 251.14 339.05 251.21 339.59 251.28 340.13 251.35 340.67 251.42 341.21 251.49 341.75 251.56 342.29 251.62 342.83 251.69 343.37 251.76 343.91 251.83 344.45 251.9 344.99 251.97 345.53 252.04 346.06 252.11 346.6 252.18 347.14 252.25 347.68 252.31 348.22 252.38 348.76 252.45 349.3 252.52 349.84 252.59 350.38 252.66 350.92 252.73 351.46 252.8 352 252.87 352.54 252.94 353.08 253.01 353.62 253.08 354.16 253.15 354.7 253.22 355.24 253.29 355.77 253.36 356.31 253.42 356.85 253.49 357.39 253.56 357.93 253.63 358.47 253.7 359.01 253.77 359.55 253.84 360.09 253.91 360.63 253.98 361.17 254.05 361.71 254.12 362.25 254.19 362.79 254.26 363.33 254.33 363.87 254.4 364.41 254.47 364.95 254.54 365.49 254.61 366.02 254.68 366.56 254.75 367.1 254.82 367.64 254.89 368.18 254.96 368.72 255.03 369.26 255.1 369.8 255.17 370.34 255.24 370.88 255.31 371.42 255.38 371.96 255.45 372.5 255.52 373.04 255.59 373.58 255.67 374.12 255.74 374.66 255.81 375.2 255.88 375.74 255.95 376.27 256.02 376.81 256.09 377.35 256.16 377.89 256.23 378.43 256.3 378.97 256.37 379.51 256.44 380.05 256.51 380.59 256.58 381.13 256.65 381.67 256.72 382.21 256.79 382.75 256.86 383.29 256.94 383.83 257.01 384.37 257.08 384.91 257.15 385.45 257.22 385.98 257.29 386.52 257.36 387.06 257.43 387.6 257.5 388.14 257.57 388.68 257.64 389.22 257.71 389.76 257.79 390.3 257.86 390.84 257.93 391.38 258 391.92 258.07 392.46 258.14 393 258.21 393.54 258.28 394.08 258.35 394.62 258.43 395.16 258.5 395.7 258.57 396.23 258.64 396.77 258.71 397.31 258.78 397.85 258.85 398.39 258.92 398.93 258.99 399.47 259.07 400.01 259.14 400.55 259.21 401.09 259.28 401.63 259.35 402.17 259.42 402.71 259.49 403.25 259.57 403.79 259.64 404.33 259.71 404.87 259.78 405.41 259.85 405.95 259.92 406.48 259.99 407.02 260.07 407.56 260.14 408.1 260.21 408.64 260.28 409.18 260.35 409.72 260.42 410.26 260.5 410.8 260.57 411.34 260.64 411.88 260.71 412.42 260.78 412.96 260.85 413.5 260.93 414.04 261 414.58 261.07 415.12 261.14 415.66 261.21 416.19 261.28 416.73 261.36 417.27 261.43 417.81 261.5 418.35 261.57 418.89 261.64 419.43 261.72 419.97 261.79 420.51 261.86 421.05 261.93 421.59 262 422.13 262.07 422.67 262.15 423.21 262.22 423.75 262.29 424.29 262.36 424.83 262.43 425.37 262.51 425.91 262.58 426.44 262.65 426.98 262.72 427.52 262.8 428.06 262.87 428.6 262.94 429.14 263.01 429.68 263.08 430.22 263.16 430.76 263.23 431.3 263.3" stroke="url(#gE)" stroke-width="1.2" fill="none" stroke-opacity="1" stroke-linejoin="round"/>
<path d="M270 251.09 270.54 251.17 271.08 251.3 271.62 251.46 272.16 251.63 272.7 251.83 273.24 252.04 273.78 252.26 274.32 252.49 274.86 252.73 275.39 252.98 275.93 253.24 276.47 253.51 277.01 253.78 277.55 254.07 278.09 254.35 278.63 254.64 279.17 254.94 279.71 255.24 280.25 255.55 280.79 255.86 281.33 256.18 281.87 256.5 282.41 256.82 282.95 257.14 283.49 257.47 284.03 257.8 284.57 258.13 285.11 258.47 285.64 258.81 286.18 259.15 286.72 259.49 287.26 259.83 287.8 260.18 288.34 260.52 288.88 260.87 289.42 261.22 289.96 261.57 290.5 261.92 291.04 262.27 291.58 262.62 292.12 262.97 292.66 263.32 293.2 263.67 293.74 264.02 294.28 264.38 294.82 264.73 295.35 265.08 295.89 265.43 296.43 265.78 296.97 266.14 297.51 266.49 298.05 266.84 298.59 267.19 299.13 267.54 299.67 267.88 300.21 268.23 300.75 268.58 301.29 268.92 301.83 269.27 302.37 269.61 302.91 269.96 303.45 270.3 303.99 270.64 304.53 270.98 305.07 271.31 305.6 271.65 306.14 271.99 306.68 272.32 307.22 272.65 307.76 272.98 308.3 273.31 308.84 273.64 309.38 273.97 309.92 274.29 310.46 274.62 311 274.94 311.54 275.26 312.08 275.58 312.62 275.89 313.16 276.21 313.7 276.52 314.24 276.83 314.78 277.14 315.32 277.45 315.85 277.75 316.39 278.06 316.93 278.36 317.47 278.66 318.01 278.96 318.55 279.25 319.09 279.55 319.63 279.84 320.17 280.13 320.71 280.42 321.25 280.7 321.79 280.98 322.33 281.27 322.87 281.55 323.41 281.82 323.95 282.1 324.49 282.37 325.03 282.64 325.56 282.91 326.1 283.18 326.64 283.45 327.18 283.71 327.72 283.97 328.26 284.23 328.8 284.49 329.34 284.74 329.88 284.99 330.42 285.24 330.96 285.49 331.5 285.74 332.04 285.98 332.58 286.22 333.12 286.46 333.66 286.7 334.2 286.94 334.74 287.17 335.28 287.4 335.81 287.63 336.35 287.86 336.89 288.09 337.43 288.31 337.97 288.53 338.51 288.75 339.05 288.97 339.59 289.18 340.13 289.39 340.67 289.61 341.21 289.81 341.75 290.02 342.29 290.23 342.83 290.43 343.37 290.63 343.91 290.83 344.45 291.03 344.99 291.22 345.53 291.41 346.06 291.61 346.6 291.79 347.14 291.98 347.68 292.17 348.22 292.35 348.76 292.53 349.3 292.71 349.84 292.89 350.38 293.07 350.92 293.24 351.46 293.41 352 293.58 352.54 293.75 353.08 293.92 353.62 294.08 354.16 294.25 354.7 294.41 355.24 294.57 355.77 294.73 356.31 294.88 356.85 295.04 357.39 295.19 357.93 295.34 358.47 295.49 359.01 295.64 359.55 295.78 360.09 295.93 360.63 296.07 361.17 296.21 361.71 296.35 362.25 296.49 362.79 296.62 363.33 296.76 363.87 296.89 364.41 297.02 364.95 297.15 365.49 297.28 366.02 297.41 366.56 297.54 367.1 297.66 367.64 297.78 368.18 297.9 368.72 298.02 369.26 298.14 369.8 298.26 370.34 298.37 370.88 298.49 371.42 298.6 371.96 298.71 372.5 298.82 373.04 298.93 373.58 299.04 374.12 299.14 374.66 299.25 375.2 299.35 375.74 299.45 376.27 299.55 376.81 299.65 377.35 299.75 377.89 299.85 378.43 299.94 378.97 300.04 379.51 300.13 380.05 300.22 380.59 300.31 381.13 300.4 381.67 300.49 382.21 300.58 382.75 300.67 383.29 300.75 383.83 300.83 384.37 300.92 384.91 301 385.45 301.08 385.98 301.16 386.52 301.24 387.06 301.32 387.6 301.39 388.14 301.47 388.68 301.54 389.22 301.62 389.76 301.69 390.3 301.76 390.84 301.83 391.38 301.9 391.92 301.97 392.46 302.04 393 302.11 393.54 302.17 394.08 302.24 394.62 302.3 395.16 302.36 395.7 302.43 396.23 302.49 396.77 302.55 397.31 302.61 397.85 302.67 398.39 302.73 398.93 302.78 399.47 302.84 400.01 302.9 400.55 302.95 401.09 303.01 401.63 303.06 402.17 303.11 402.71 303.16 403.25 303.22 403.79 303.27 404.33 303.32 404.87 303.37 405.41 303.41 405.95 303.46 406.48 303.51 407.02 303.55 407.56 303.6 408.1 303.65 408.64 303.69 409.18 303.73 409.72 303.78 410.26 303.82 410.8 303.86 411.34 303.9 411.88 303.94 412.42 303.98 412.96 304.02 413.5 304.06 414.04 304.1 414.58 304.14 415.12 304.18 415.66 304.21 416.19 304.25 416.73 304.28 417.27 304.32 417.81 304.35 418.35 304.39 418.89 304.42 419.43 304.45 419.97 304.49 420.51 304.52 421.05 304.55 421.59 304.58 422.13 304.61 422.67 304.64 423.21 304.67 423.75 304.7 424.29 304.73 424.83 304.76 425.37 304.79 425.91 304.81 426.44 304.84 426.98 304.87 427.52 304.89 428.06 304.92 428.6 304.94 429.14 304.97 429.68 304.99 430.22 305.02 430.76 305.04 431.3 305.07" stroke="url(#gE)" stroke-width="1.2" fill="none" stroke-opacity="1" stroke-linejoin="round"/>
<path d="M270 256.84 270.54 260 271.08 262.1 271.62 263.88 272.16 265.47 272.7 266.91 273.24 268.24 273.78 269.48 274.32 270.65 274.86 271.74 275.39 272.78 275.93 273.77 276.47 274.71 277.01 275.61 277.55 276.47 278.09 277.29 278.63 278.08 279.17 278.84 279.71 279.57 280.25 280.27 280.79 280.95 281.33 281.6 281.87 282.24 282.41 282.85 282.95 283.44 283.49 284.01 284.03 284.56 284.57 285.1 285.11 285.62 285.64 286.13 286.18 286.62 286.72 287.09 287.26 287.56 287.8 288.01 288.34 288.44 288.88 288.87 289.42 289.28 289.96 289.68 290.5 290.07 291.04 290.46 291.58 290.83 292.12 291.19 292.66 291.54 293.2 291.88 293.74 292.22 294.28 292.55 294.82 292.86 295.35 293.17 295.89 293.48 296.43 293.77 296.97 294.06 297.51 294.34 298.05 294.62 298.59 294.89 299.13 295.15 299.67 295.41 300.21 295.66 300.75 295.91 301.29 296.15 301.83 296.38 302.37 296.61 302.91 296.83 303.45 297.05 303.99 297.27 304.53 297.48 305.07 297.68 305.6 297.88 306.14 298.08 306.68 298.27 307.22 298.46 307.76 298.64 308.3 298.82 308.84 299 309.38 299.17 309.92 299.34 310.46 299.51 311 299.67 311.54 299.83 312.08 299.99 312.62 300.14 313.16 300.29 313.7 300.44 314.24 300.58 314.78 300.72 315.32 300.86 315.85 301 316.39 301.13 316.93 301.26 317.47 301.39 318.01 301.51 318.55 301.64 319.09 301.76 319.63 301.88 320.17 301.99 320.71 302.11 321.25 302.22 321.79 302.33 322.33 302.43 322.87 302.54 323.41 302.64 323.95 302.75 324.49 302.85 325.03 302.94 325.56 303.04 326.1 303.13 326.64 303.23 327.18 303.32 327.72 303.41 328.26 303.49 328.8 303.58 329.34 303.66 329.88 303.75 330.42 303.83 330.96 303.91 331.5 303.99 332.04 304.07 332.58 304.14 333.12 304.22 333.66 304.29 334.2 304.36 334.74 304.43 335.28 304.5 335.81 304.57 336.35 304.64 336.89 304.7 337.43 304.77 337.97 304.83 338.51 304.89 339.05 304.95 339.59 305.02 340.13 305.07 340.67 305.13 341.21 305.19 341.75 305.25 342.29 305.3 342.83 305.36 343.37 305.41 343.91 305.46 344.45 305.51 344.99 305.57 345.53 305.62 346.06 305.67 346.6 305.71 347.14 305.76 347.68 305.81 348.22 305.85 348.76 305.9 349.3 305.94 349.84 305.99 350.38 306.03 350.92 306.07 351.46 306.12 352 306.16 352.54 306.2 353.08 306.24 353.62 306.28 354.16 306.31 354.7 306.35 355.24 306.39 355.77 306.43 356.31 306.46 356.85 306.5 357.39 306.53 357.93 306.57 358.47 306.6 359.01 306.63 359.55 306.67 360.09 306.7 360.63 306.73 361.17 306.76 361.71 306.79 362.25 306.82 362.79 306.85 363.33 306.88 363.87 306.91 364.41 306.94 364.95 306.97 365.49 306.99 366.02 307.02 366.56 307.05 367.1 307.07 367.64 307.1 368.18 307.13 368.72 307.15 369.26 307.18 369.8 307.2 370.34 307.22 370.88 307.25 371.42 307.27 371.96 307.29 372.5 307.32 373.04 307.34 373.58 307.36 374.12 307.38 374.66 307.4 375.2 307.42 375.74 307.44 376.27 307.46 376.81 307.48 377.35 307.5 377.89 307.52 378.43 307.54 378.97 307.56 379.51 307.58 380.05 307.6 380.59 307.61 381.13 307.63 381.67 307.65 382.21 307.67 382.75 307.68 383.29 307.7 383.83 307.72 384.37 307.73 384.91 307.75 385.45 307.76 385.98 307.78 386.52 307.8 387.06 307.81 387.6 307.82 388.14 307.84 388.68 307.85 389.22 307.87 389.76 307.88 390.3 307.9 390.84 307.91 391.38 307.92 391.92 307.94 392.46 307.95 393 307.96 393.54 307.97 394.08 307.99 394.62 308 395.16 308.01 395.7 308.02 396.23 308.03 396.77 308.05 397.31 308.06 397.85 308.07 398.39 308.08 398.93 308.09 399.47 308.1 400.01 308.11 400.55 308.12 401.09 308.13 401.63 308.14 402.17 308.15 402.71 308.16 403.25 308.17 403.79 308.18 404.33 308.19 404.87 308.2 405.41 308.21 405.95 308.22 406.48 308.23 407.02 308.24 407.56 308.24 408.1 308.25 408.64 308.26 409.18 308.27 409.72 308.28 410.26 308.29 410.8 308.29 411.34 308.3 411.88 308.31 412.42 308.32 412.96 308.33 413.5 308.33 414.04 308.34 414.58 308.35 415.12 308.35 415.66 308.36 416.19 308.37 416.73 308.38 417.27 308.38 417.81 308.39 418.35 308.4 418.89 308.4 419.43 308.41 419.97 308.41 420.51 308.42 421.05 308.43 421.59 308.43 422.13 308.44 422.67 308.44 423.21 308.45 423.75 308.46 424.29 308.46 424.83 308.47 425.37 308.47 425.91 308.48 426.44 308.48 426.98 308.49 427.52 308.49 428.06 308.5 428.6 308.5 429.14 308.51 429.68 308.51 430.22 308.52 430.76 308.52 431.3 308.53" stroke="url(#gE)" stroke-width="1.2" fill="none" stroke-opacity="1" stroke-linejoin="round"/>
</g>
<rect x="270" y="213.7" width="161.3" height="98.7" fill="none" stroke="#1a1a1a" stroke-width="1.1"/>
<path d="M270.5 312.4v-3.2M270.5 213.7v3.2M283.5 312.4v-1.8M283.5 213.7v1.8M296.5 312.4v-3.2M296.5 213.7v3.2M310.5 312.4v-1.8M310.5 213.7v1.8M323.5 312.4v-3.2M323.5 213.7v3.2M337.5 312.4v-1.8M337.5 213.7v1.8M350.5 312.4v-3.2M350.5 213.7v3.2M364.5 312.4v-1.8M364.5 213.7v1.8M377.5 312.4v-3.2M377.5 213.7v3.2M390.5 312.4v-1.8M390.5 213.7v1.8M404.5 312.4v-3.2M404.5 213.7v3.2M417.5 312.4v-1.8M417.5 213.7v1.8M431.5 312.4v-3.2M431.5 213.7v3.2M270 300.5h1.8M431.3 300.5h-1.8M270 288.5h3.2M431.3 288.5h-3.2M270 275.5h1.8M431.3 275.5h-1.8M270 263.5h3.2M431.3 263.5h-3.2M270 251.5h1.8M431.3 251.5h-1.8M270 239.5h3.2M431.3 239.5h-3.2M270 227.5h1.8M431.3 227.5h-1.8M270 215.5h3.2M431.3 215.5h-3.2" stroke="#1a1a1a" stroke-width="0.9" fill="none"/>
<text transform="translate(270 324.9) scale(1 1.08)" font-size="11" text-anchor="middle" >0.00</text>
<text transform="translate(296.88 324.9) scale(1 1.08)" font-size="11" text-anchor="middle" >0.05</text>
<text transform="translate(323.77 324.9) scale(1 1.08)" font-size="11" text-anchor="middle" >0.10</text>
<text transform="translate(350.65 324.9) scale(1 1.08)" font-size="11" text-anchor="middle" >0.15</text>
<text transform="translate(377.53 324.9) scale(1 1.08)" font-size="11" text-anchor="middle" >0.20</text>
<text transform="translate(404.42 324.9) scale(1 1.08)" font-size="11" text-anchor="middle" >0.25</text>
<text transform="translate(431.3 324.9) scale(1 1.08)" font-size="11" text-anchor="middle" >0.30</text>
<text transform="translate(350.7 338.9) scale(1 1.08)" font-size="11" text-anchor="middle" >time (s)</text>
<text transform="translate(260.6,263) rotate(-90)" font-size="11.3" text-anchor="middle">Light Scattering</text>
<text transform="translate(427.5 222.6) scale(1 1.08)" font-size="9" text-anchor="end" >AM</text>
<text transform="translate(428.3 240) scale(1 1.08)" font-size="9" text-anchor="end" >6 °C</text>
<text transform="translate(429.3 257) scale(1 1.08)" font-size="9" text-anchor="end" >12 °C</text>
<text transform="translate(371 292) scale(1 1.08)" font-size="9" text-anchor="start" >25 °C</text>
<text transform="translate(330.2 302.3) scale(1 1.08)" font-size="9" text-anchor="start" >37 °C</text>
<path d="M290 253.9H299.8" stroke="#111" stroke-width="0.9" fill="none"/><path d="M287.2 253.9L291.6 252.2L291.6 255.6Z" fill="#111"/>
<text transform="translate(301.6 258) scale(1 1.08)" font-size="9" text-anchor="start" font-style="italic">Lag</text>
<text transform="translate(0 434.8) scale(1 1.08)" font-size="22" text-anchor="start" >AMD<tspan font-size="13" dy="-9.3">C</tspan></text>
<text transform="translate(142.5 434.8) scale(1 1.08)" font-size="22" text-anchor="start" >AMD<tspan font-size="13" dy="-9.3">O</tspan></text>
<text transform="translate(287 434.8) scale(1 1.08)" font-size="22" text-anchor="start" >AM+T</text>
<text transform="translate(432 434.8) scale(1 1.08)" font-size="22" text-anchor="start" >AM(T)</text>
<text transform="translate(609 434.8) scale(1 1.08)" font-size="22" text-anchor="start" >A+M</text>
<circle cx="664.3" cy="428.8" r="2.3" fill="#111"/>
<text transform="translate(672.3 434.8) scale(1 1.08)" font-size="22" text-anchor="start" >T</text>
<path d="M65.9 424.3H138.8M133.0 418.7L138.8 424.3L133.0 429.90000000000003M138.8 432.4H65.9M71.7 426.79999999999995L65.9 432.4L71.7 438.0" stroke="#111" stroke-width="1.25" fill="none"/>
<path d="M208.9 424.3H282.8M277.0 418.7L282.8 424.3L277.0 429.90000000000003M282.8 432.4H208.9M214.70000000000002 426.79999999999995L208.9 432.4L214.70000000000002 438.0" stroke="#111" stroke-width="1.25" fill="none"/>
<path d="M350.9 424.3H427.1M421.3 418.7L427.1 424.3L421.3 429.90000000000003M427.1 432.4H350.9M356.7 426.79999999999995L350.9 432.4L356.7 438.0" stroke="#111" stroke-width="1.25" fill="none"/>
<path d="M499.4 428.8H604.7M598.9 423.2L604.7 428.8L598.9 434.4" stroke="#111" stroke-width="1.25" fill="none"/>
<text transform="translate(88 418.4) scale(1 1.08)" font-size="12.5"><tspan font-style="italic">k</tspan><tspan font-weight="bold" font-size="13" dx="1.2">’</tspan><tspan font-size="9.3" dy="5">−2D</tspan></text>
<text transform="translate(88 446) scale(1 1.08)" font-size="12.5"><tspan font-style="italic">k</tspan><tspan font-weight="bold" font-size="13" dx="1.2">’</tspan><tspan font-size="9.3" dy="5">+2D</tspan></text>
<text transform="translate(231.3 418.4) scale(1 1.08)" font-size="12.5"><tspan font-style="italic">k</tspan><tspan font-weight="bold" font-size="13" dx="1.2">’</tspan><tspan font-size="9.3" dy="5">−1D</tspan></text>
<text transform="translate(231.3 446) scale(1 1.08)" font-size="12.5"><tspan font-style="italic">k</tspan><tspan font-weight="bold" font-size="13" dx="1.2">’</tspan><tspan font-size="9.3" dy="5">+1D</tspan></text>
<text transform="translate(374.4 418.4) scale(1 1.08)" font-size="12.5"><tspan font-style="italic">K</tspan><tspan font-weight="bold" font-size="13" dx="1.2">’</tspan><tspan font-size="9.3" dy="5">+1T</tspan></text>
<text transform="translate(522 422.5) scale(1 1.08)" font-size="12.5" text-anchor="start" font-style="italic">k</text>
<text transform="translate(529.4 422.5) scale(1 1.08)" font-size="13" text-anchor="start" font-weight="bold">’</text>
<text transform="translate(533 426.4) scale(1 1.08)" font-size="9.5" text-anchor="start" >+2T</text>
<text transform="translate(550.3 424) scale(1 1.08)" font-size="13.5" text-anchor="start" >(</text>
<text transform="translate(555.6 422.5) scale(1 1.08)" font-size="12.5" text-anchor="start" font-style="italic">k</text>
<text transform="translate(561.6 426.4) scale(1 1.08)" font-size="9.3" text-anchor="start" font-style="italic">diss</text>
<text transform="translate(578.7 424) scale(1 1.08)" font-size="13.5" text-anchor="start" >)</text>
</svg>
</body></html>
